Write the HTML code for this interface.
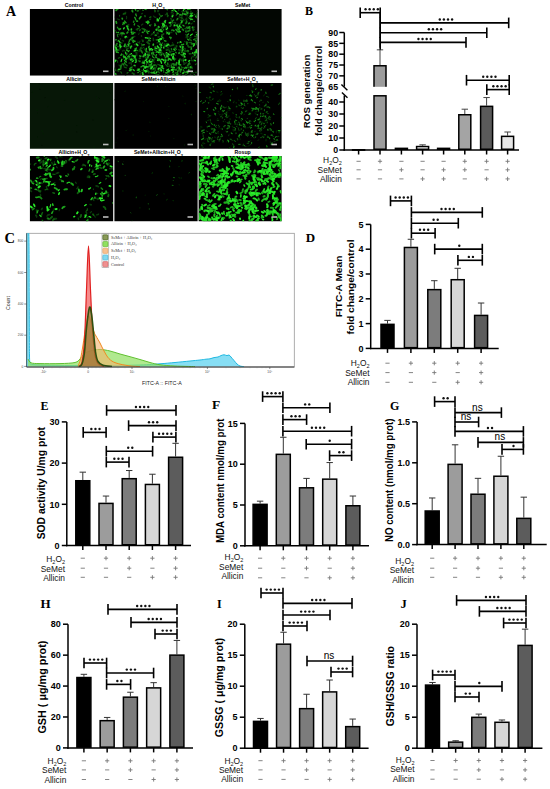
<!DOCTYPE html>
<html><head><meta charset="utf-8"><style>
html,body{margin:0;padding:0;background:#fff;}
body{width:550px;height:789px;overflow:hidden;}
svg{display:block;}
</style></head><body>
<svg width="550" height="789" viewBox="0 0 550 789">
<rect width="550" height="789" fill="#fff"/>
<rect x="29.5" y="9" width="252.5" height="66.5" fill="#cfcfcf"/>
<rect x="29.5" y="83" width="252.5" height="65.69999999999999" fill="#cfcfcf"/>
<rect x="29.5" y="156" width="252.5" height="65.19999999999999" fill="#cfcfcf"/>
<filter id="soft" x="-5%" y="-5%" width="110%" height="110%"><feGaussianBlur stdDeviation="0.5"/></filter>
<clipPath id="cA00"><rect x="30" y="9" width="83.0" height="66.5"/></clipPath>
<rect x="30" y="9" width="83.0" height="66.5" fill="#000"/>
<rect x="103.0" y="70.5" width="5.5" height="1.6" fill="#bbb"/>
<text x="74.00" y="7.40" font-family="Liberation Sans" font-size="5.2" font-weight="bold" text-anchor="middle" fill="#000" >Control</text>
<clipPath id="cA01"><rect x="114.5" y="9" width="83.0" height="66.5"/></clipPath>
<rect x="114.5" y="9" width="83.0" height="66.5" fill="#000"/>
<g clip-path="url(#cA01)"><g filter="url(#soft)"><path d="M146.0 9.8l0.9 -0.8l0.7 -1.0M181.2 59.2l0.2 0.6l0.7 1.2M137.2 42.1l1.4 0.3l0.9 0.2M124.1 50.5l0.7 0.7M185.4 63.0l1.1 -0.2l0.5 0.2M134.8 74.5l-0.4 -0.5l-0.7 -0.7M129.9 45.4l-0.4 1.1M121.8 63.6l0.8 0.3l0.7 0.1M161.6 52.2l0.5 0.6l0.1 0.6M154.5 33.3l-0.2 -0.4l-0.4 -0.5M148.4 68.8l-0.7 0.6l-1.2 0.6M165.4 27.6l0.1 1.1l0.6 1.2M154.3 52.4l-0.7 0.3l-0.6 0.2M186.2 73.1l-0.1 -1.2M177.1 12.5l-0.5 -0.7l-1.0 -0.3M117.2 18.9l1.1 0.3l1.3 0.5M148.8 44.3l-0.4 -0.9M141.0 51.5l0.7 0.2l1.0 -0.4M155.3 34.6l0.1 1.1M186.7 21.7l-0.6 0.7M135.8 54.3l0.4 -0.9l-0.5 -1.2M183.0 18.8l0.7 1.0l0.8 0.3M173.2 69.4l-0.4 -1.4M184.7 41.3l0.8 0.9M158.8 60.7l1.2 -0.5l1.2 0.4M140.9 43.3l0.9 0.9M142.4 41.7l0.0 -0.7l-0.5 -1.2M193.8 28.7l0.6 0.9M185.3 24.0l0.3 -0.7M121.9 55.1l0.7 -0.6l0.7 0.0M192.7 22.9l-1.3 0.7l-0.2 0.8M148.5 70.9l1.1 0.7M168.2 32.3l-0.1 -1.1l-0.3 -0.6M165.7 57.5l-0.9 0.1M128.3 26.7l-0.4 -0.7M158.6 31.6l-0.2 0.5l-0.8 0.4M178.6 32.7l-0.7 -0.8M118.8 65.0l1.2 0.8M152.2 69.8l-0.4 0.5M181.3 75.4l-1.2 -0.8M166.4 13.4l-0.2 0.8l-1.0 0.8M193.9 57.2l-0.5 -1.0l-0.3 -0.4M196.5 18.1l0.2 -1.2l-0.1 -0.9M138.7 34.4l0.6 -1.4M172.3 42.7l0.7 0.7l0.3 0.6M167.8 55.1l0.4 -0.7l0.0 -0.7M196.6 57.2l-0.4 0.3l-0.6 0.9M125.3 75.4l0.5 0.2M181.8 22.0l-0.1 -0.6l-1.0 -1.0M194.8 26.9l-0.5 0.2l-0.8 1.0M126.5 16.4l0.2 1.3l-0.3 1.1M123.8 58.2l-0.2 0.4M181.4 45.4l0.2 1.0M119.6 41.6l0.6 1.3l1.0 0.5M161.1 45.7l-0.5 -1.3M195.9 16.3l0.9 -0.8M118.3 40.0l-0.8 1.2l-0.4 0.3M195.3 54.4l1.3 -0.5l0.7 0.1M142.6 48.5l0.8 -1.0l0.6 -0.3M151.8 34.2l-0.9 1.2M114.6 47.8l-0.4 -0.5l-0.6 -0.1M179.8 50.7l0.9 -0.7l0.8 -0.4M127.7 37.6l0.2 -0.9M157.3 64.0l0.1 0.6M190.2 74.3l0.8 -0.4M169.4 64.8l-0.1 1.4l0.3 0.8M124.0 64.6l-0.8 -0.6M120.0 43.7l0.5 -0.2l1.3 -0.3M147.0 60.5l-0.5 -0.3l-0.5 -0.6M136.6 52.0l0.4 0.4l0.1 1.3M131.3 37.1l0.5 0.4l0.2 1.3M119.5 28.2l0.0 1.3M140.1 41.2l-0.8 1.2l-0.1 1.3M132.5 66.4l-0.2 0.6l-0.8 0.5M196.2 32.4l-0.7 -0.2M145.1 62.1l-1.1 -0.8M182.2 73.5l1.4 0.4M168.8 50.4l0.2 -1.4l-0.4 -1.1" stroke="rgb(10,56,10)" stroke-width="1.13" stroke-linecap="round" stroke-linejoin="round" fill="none"/><path d="M187.4 11.6l0.8 0.6M154.4 62.2l-0.8 -0.6M177.2 45.9l-0.7 1.3M191.6 72.5l1.2 0.2l1.0 0.1M135.0 36.5l-1.3 0.3M144.8 48.8l-0.4 0.9M174.8 26.6l-0.4 -0.7l-0.3 -0.7M154.4 54.6l-0.8 -0.3l-1.4 0.0M149.8 19.5l0.8 -0.4M151.2 62.4l0.7 0.4M194.4 60.5l0.5 0.2l0.4 0.4M134.4 66.4l0.9 0.3M188.0 14.0l-1.1 0.5l-0.8 1.0M160.7 38.2l0.7 0.4M171.8 64.1l-0.9 -0.2M146.3 56.7l0.5 0.5l0.8 0.1M167.9 49.4l-0.9 0.3M181.2 48.4l0.3 1.1l0.5 0.4M156.7 34.8l0.5 -1.3M180.0 65.6l-0.9 0.8M149.9 51.5l-0.3 1.2l-0.4 0.9M156.8 42.9l1.3 -0.1M153.8 60.7l0.4 -1.2l0.9 -0.6M179.1 16.6l0.7 0.5l0.9 0.5M131.1 62.5l0.4 1.3l-0.3 1.0M142.8 24.1l-0.9 0.6l-0.3 0.4M124.9 45.8l-0.6 -0.1l-0.5 0.1M122.1 42.9l-0.7 -0.4M170.0 26.3l0.8 -1.2l0.5 -0.5M160.0 67.6l1.1 0.2l0.4 0.4M150.6 24.6l0.6 0.1M171.8 45.7l-0.4 -0.5M166.6 65.8l1.0 0.3l1.2 0.2M180.7 50.4l-0.6 -0.6M125.2 46.0l0.3 0.9l0.8 1.3M147.7 41.3l0.6 -0.2M173.8 51.3l-1.2 0.0l-1.4 0.4M197.1 11.4l0.7 0.4M175.3 55.3l-0.6 -0.6l-0.8 -0.1M148.5 54.1l0.3 -0.5l0.8 -0.6M136.8 70.3l0.8 -1.0M128.4 28.8l-0.7 -0.9l-0.2 -0.9M195.7 40.9l0.7 -0.4M168.1 47.1l-0.7 0.1l-0.6 -0.4M181.5 67.6l-0.3 -1.0M189.5 17.7l-1.1 0.1M146.9 52.2l0.6 0.7l0.4 0.4M148.1 63.4l0.5 0.8M134.4 44.5l1.1 0.4M178.1 17.9l0.1 0.5l0.7 0.7M153.7 16.1l0.8 0.9l1.3 0.4M185.6 30.0l1.3 0.5M167.9 49.1l-1.1 0.0l-0.7 0.1M133.9 55.6l0.4 0.5M173.2 11.7l-1.1 0.6l-0.9 0.6M135.1 58.2l-1.1 -0.2M183.7 64.2l0.7 0.1M125.7 62.0l0.2 -0.5l0.2 -0.9M141.5 36.2l-0.1 -0.6M120.7 32.6l1.5 0.1M139.0 51.5l0.5 -1.0l0.1 -1.1M158.2 70.9l1.3 -0.3M121.5 65.8l-1.4 -0.4l-0.7 0.2M148.7 52.3l0.2 -0.6M177.6 24.7l0.5 -0.8M153.6 45.3l-0.6 -0.2M141.7 70.3l1.2 0.8l1.4 0.4" stroke="rgb(10,56,10)" stroke-width="1.40" stroke-linecap="round" stroke-linejoin="round" fill="none"/><path d="M180.3 15.3l-0.7 -0.5M163.7 75.4l0.6 0.2M168.7 50.0l0.8 0.4M161.3 51.6l0.1 0.6l0.8 0.8M160.2 60.1l-0.5 0.2M183.6 62.4l0.4 0.5l1.2 0.6M179.6 50.6l-0.8 -0.9M190.9 37.4l-0.9 -0.3M150.4 69.1l-0.1 -1.1l0.2 -0.8M130.4 67.5l0.8 -0.2l1.3 -0.5M193.9 60.8l-0.2 -0.7M114.7 68.3l-0.4 0.9l0.2 0.8M185.3 49.1l-1.2 -0.6M159.3 36.9l-1.2 -0.1M155.2 46.5l0.1 0.7l0.2 0.6M125.0 13.2l0.6 -0.8M188.9 67.6l-0.6 -0.3l-0.6 -0.4M177.0 68.7l0.6 -1.1M140.0 9.5l0.1 -0.7l-0.4 -0.6M186.4 34.8l-0.6 -0.2M158.6 10.9l-0.6 0.5M175.1 47.2l0.0 0.7l-0.3 0.5M187.5 15.8l-1.4 -0.5M152.2 33.8l1.2 -0.1M175.6 23.1l-0.4 -0.4l-0.8 0.0M123.0 32.5l-0.3 1.3M129.1 63.2l1.1 -0.3M195.5 72.3l1.0 0.0M132.8 10.4l-0.0 0.5l0.3 1.1M155.6 73.4l0.6 0.3M149.5 65.2l0.5 -0.1l0.4 -0.4M118.7 71.2l-1.4 -0.5M136.8 54.8l-0.0 0.8M184.3 11.8l-0.9 -0.3l-1.4 0.1M172.6 58.3l0.2 1.4M143.7 75.0l-1.1 -0.6M190.0 13.5l0.9 -1.0l0.0 -1.4M181.4 23.4l-0.6 0.2l-0.9 0.9M148.9 37.4l-0.2 1.1l0.4 0.6M178.6 30.7l0.2 0.8l-0.2 0.8M124.3 23.7l-0.3 0.4l-1.0 0.5M141.1 72.6l-0.1 0.6l-0.9 1.1M164.2 45.1l0.3 -1.1M167.7 50.0l-0.7 0.2l-0.7 -0.0M158.0 11.6l-0.3 -0.4l0.1 -0.8M156.5 66.9l-0.7 0.9M124.9 44.7l0.5 -0.7M141.2 48.3l0.3 -0.8l0.2 -0.5M123.9 50.3l-0.8 0.5l-0.6 0.2M150.9 64.8l0.2 0.8l0.8 0.9M135.7 60.3l0.8 0.9M153.4 40.5l-0.0 -1.2l-0.2 -1.0M171.9 32.4l-0.8 -0.1l-1.1 0.6M186.6 18.1l-0.4 0.6l-0.5 0.8M174.7 65.2l-0.9 0.4M136.3 29.3l0.4 0.4l0.6 0.3M190.5 68.7l-0.1 -1.0M181.1 60.5l0.7 -0.6M191.5 60.4l1.1 0.3M170.8 18.6l0.6 0.7l0.1 1.2M131.2 56.6l0.3 -1.0M173.3 13.9l-1.1 0.9l-0.6 1.3M131.3 67.0l1.0 1.0M119.7 41.9l-0.5 -0.4M187.7 26.9l-1.1 0.7M186.0 37.1l0.3 0.4l0.6 0.3M191.5 67.4l0.5 0.1M183.1 58.8l0.6 0.7l1.5 0.2M123.5 40.9l-1.1 -0.5M185.1 56.3l-0.5 0.1l-0.9 0.7M120.2 39.3l0.3 -0.5M118.2 34.1l1.4 0.6M132.2 33.5l0.8 -1.0l0.4 -0.5M128.8 24.7l-1.0 0.3M157.4 32.5l0.1 0.6l0.6 0.6M115.2 49.0l-0.7 -0.1l-0.9 -0.5M127.4 44.9l0.5 0.2M185.7 74.6l1.0 0.3M121.9 35.9l-0.2 -1.1l-0.5 -0.6" stroke="rgb(10,56,10)" stroke-width="1.67" stroke-linecap="round" stroke-linejoin="round" fill="none"/><path d="M195.3 15.1l-1.2 -0.8M194.1 54.5l0.0 -1.0M190.9 43.9l0.9 0.9l0.7 0.0M165.6 58.1l-0.3 -0.4M132.2 34.2l-0.9 0.1M166.6 50.3l0.6 -0.6l0.5 -0.1M131.6 32.1l1.0 0.1M152.1 53.3l-0.5 -0.1M119.6 44.1l-0.1 -0.5M124.0 66.7l0.4 0.6M128.3 48.0l-0.9 0.9l-0.8 0.4M122.2 54.5l-0.6 0.6M155.8 70.4l-0.8 0.6l-1.1 0.1M191.2 49.2l0.7 -0.1M159.5 72.9l-0.9 -0.9l-0.5 -1.1M180.8 70.3l1.0 -0.1M179.1 42.0l0.0 1.0M160.7 15.5l-1.2 -0.7l-0.4 -1.2M167.5 66.4l-1.1 -1.0l-0.8 -1.1M155.4 68.3l-0.8 -0.1l-0.9 0.4M184.7 50.4l-0.1 0.6l0.5 0.9M165.6 41.6l0.9 -0.5M185.9 50.9l-0.9 0.1M165.3 59.8l-0.4 -0.4l-0.6 -0.2M119.3 48.1l0.6 0.3l0.9 0.5M166.3 9.4l0.5 -0.8M125.1 67.1l0.7 0.6l0.7 0.2M188.3 12.1l-0.6 0.3M150.3 65.4l-0.4 -0.5M116.8 60.3l0.5 1.1l0.4 0.8M161.2 44.5l1.0 -0.8l0.6 -1.0M137.9 68.7l0.5 0.9l-0.2 1.1M192.1 20.0l0.8 -0.7M118.3 46.4l-0.7 0.3M176.8 13.6l-0.4 1.2l-0.2 0.6M120.9 67.4l-0.7 -0.2M141.8 14.0l0.4 -0.7M131.7 32.4l-0.2 1.4M133.7 51.2l1.0 -0.8l0.9 -0.5M158.2 69.7l0.5 -0.6M189.3 69.3l-0.7 0.4M176.1 45.2l0.1 1.1l0.4 0.4M118.2 58.1l1.2 -0.2l0.5 -0.5M191.3 59.0l0.3 -1.3l0.6 -0.9M120.6 71.9l0.6 0.2l0.5 1.1M187.1 19.9l-0.6 0.4l-0.3 1.3M184.9 28.7l0.9 -0.6l0.9 -0.1M174.1 25.7l-0.1 0.7M171.3 65.1l0.5 -0.4M184.6 67.7l-0.7 0.2l-0.7 -0.1M178.8 10.4l0.1 -0.8M191.4 17.1l-1.1 -0.1M119.5 16.0l0.1 -0.8" stroke="rgb(15,88,15)" stroke-width="1.13" stroke-linecap="round" stroke-linejoin="round" fill="none"/><path d="M142.9 40.2l0.2 1.4M192.1 68.5l-0.5 -1.0l0.0 -1.2M155.1 69.4l-0.5 -0.9l-0.5 -1.1M140.3 29.7l-0.8 0.9M188.8 63.2l-0.3 0.9M196.8 36.2l0.2 1.1M151.1 59.0l-1.3 0.5M195.5 64.4l0.6 -0.4M145.2 57.1l0.3 0.6l0.7 0.6M191.2 42.5l-1.4 0.1l-0.8 -0.0M127.0 73.1l1.0 -0.6M189.2 53.8l1.4 -0.1l0.5 0.1M168.9 72.9l0.2 -1.1M147.2 70.2l0.5 0.3l0.7 0.8M174.3 60.6l0.3 -1.0l1.2 -0.7M164.1 47.9l-0.5 -1.2M163.4 70.1l0.1 0.9l0.3 1.1M129.3 57.7l-0.2 0.7l0.2 1.1M159.3 54.3l1.1 0.8l1.0 0.6M156.2 73.9l-1.2 -0.8l-1.4 -0.3M152.1 73.4l1.4 -0.5M163.2 39.1l0.5 -0.8M162.1 31.2l0.3 0.8M154.7 49.7l0.5 0.1M194.3 74.7l-0.5 1.4l-0.1 0.6M142.5 62.1l0.5 -1.1M182.4 67.8l-0.9 -0.8M167.1 13.0l0.1 0.7l0.2 1.5M178.4 64.5l-0.0 -1.3l0.7 -0.9M176.1 64.7l-1.3 -0.5l-1.3 0.4M194.7 36.1l1.3 0.5M172.2 23.1l0.8 -0.4M189.7 67.1l-0.9 0.2M155.2 46.6l0.2 0.5l0.2 0.7M196.2 57.5l0.4 -1.4M166.1 44.4l0.5 -0.4l0.8 -0.5M164.4 24.2l-0.7 0.5M176.4 64.8l-0.2 0.9M162.1 35.0l-0.6 0.9M115.6 69.9l-0.0 0.7" stroke="rgb(15,88,15)" stroke-width="1.40" stroke-linecap="round" stroke-linejoin="round" fill="none"/><path d="M149.5 61.5l0.9 0.6M189.6 38.9l0.5 0.7l1.1 0.8M183.4 52.5l-0.2 0.6M188.1 51.7l-1.3 -0.7M193.2 30.4l-0.1 -1.2M119.1 50.0l-1.1 -0.0l-1.1 0.7M155.0 11.6l0.1 -0.9l-0.4 -0.5M140.7 50.5l-0.1 -1.1l-0.0 -1.2M136.0 49.8l-0.0 -0.9M132.6 40.5l-1.1 -0.9l-0.7 -0.2M180.6 23.9l0.3 -1.1M148.1 71.7l0.8 1.2M165.9 45.9l-0.7 0.1l-0.6 0.6M123.3 14.1l1.0 -0.6l1.1 0.2M154.9 64.7l1.0 0.6l0.6 0.7M166.3 25.8l-0.0 0.5l-0.6 0.5M173.8 45.0l-0.8 0.0l-1.3 0.5M146.9 30.5l-0.4 0.3l-0.1 0.5M132.2 73.1l1.2 0.5l0.3 0.6M191.7 47.0l-1.4 0.2l-0.7 -0.2M170.2 26.2l0.6 -1.0l-0.0 -0.6M156.9 28.3l1.3 -0.2M167.6 16.5l0.4 -1.0M195.9 42.4l0.5 0.8l0.1 1.2M162.1 28.1l-0.2 -1.2M186.7 35.9l1.1 1.0M127.0 65.6l-0.8 -0.7M189.9 64.1l-0.6 0.3l-0.5 0.3M175.4 65.2l-0.5 -0.5M187.8 45.0l0.4 1.1l0.3 0.7M172.6 63.8l0.8 1.1M146.7 62.3l0.7 0.0M158.1 39.6l-0.6 0.1l-1.2 0.2M173.5 55.4l-0.5 -1.3M162.0 34.9l0.8 -0.3l0.9 -0.7M182.0 15.8l0.1 -0.7M180.9 20.4l0.7 -0.1l1.3 0.3M145.1 16.5l-0.2 -0.7M161.0 47.8l-0.6 0.4l-0.5 0.3M170.0 52.7l0.1 -0.7l-0.6 -0.9M175.2 73.0l1.5 -0.1l0.9 0.6M140.3 58.0l-0.9 0.4M143.5 29.1l-1.3 -0.6M147.0 42.2l1.1 0.9l1.3 0.6" stroke="rgb(15,88,15)" stroke-width="1.67" stroke-linecap="round" stroke-linejoin="round" fill="none"/><path d="M177.4 43.1l0.5 -0.7M167.3 10.0l0.3 -0.6l0.4 -1.1M144.2 29.7l-0.1 -0.8M171.5 30.4l0.7 -0.9M167.4 75.0l1.3 0.0M128.9 43.6l-0.2 -1.3M149.5 17.2l0.7 0.0l0.8 -0.3M154.2 55.2l-0.3 -0.6l-0.7 -0.4M123.9 65.3l-0.4 -0.9l-0.4 -0.8M183.3 69.6l0.3 1.1l1.2 0.8M189.5 61.9l0.0 1.1l0.2 0.6M122.0 64.9l0.2 -0.7M175.4 10.9l1.0 0.8l0.7 0.7M127.6 46.7l-0.8 -0.1l-0.6 -0.7M162.8 30.5l0.8 -0.9l0.1 -0.5M131.0 58.9l0.4 -0.5M120.2 33.2l0.8 0.4l1.2 0.6M186.3 27.1l1.1 0.8M157.6 74.9l1.2 -0.2M162.2 27.8l0.9 -0.3l1.0 -0.7M135.5 60.2l-0.1 -1.4l-0.4 -0.6M187.3 65.7l0.5 -0.5l0.7 -0.5M114.5 17.0l-0.7 0.3l-0.4 0.8M155.3 50.5l1.1 -0.1M158.7 64.7l0.7 0.3M174.2 49.1l-0.2 -0.7M156.0 29.1l-0.5 1.0M117.4 34.4l0.0 1.2l0.5 1.3M146.6 64.4l0.2 -0.9M168.0 60.3l-1.0 -0.3l-1.1 0.3M139.4 71.4l0.8 0.0M157.3 51.4l-0.9 0.4M182.3 18.1l-1.1 -0.2M137.1 29.1l0.5 -0.3l1.4 -0.1M177.5 71.4l0.5 -0.8l0.6 -0.7" stroke="rgb(21,121,21)" stroke-width="1.13" stroke-linecap="round" stroke-linejoin="round" fill="none"/><path d="M142.5 52.9l-0.8 -0.9l-0.4 -1.4M120.6 69.3l0.2 -0.6l-0.0 -1.3M117.9 50.3l-1.3 -0.1l-1.2 0.2M197.0 32.4l1.2 -0.4l0.6 0.1M178.0 71.1l-0.1 0.6l-0.4 0.7M186.1 11.0l0.3 1.0l0.3 0.4M150.5 65.3l-0.5 -1.0M188.1 72.0l-1.4 0.3l-1.2 0.0M126.8 53.3l0.0 1.0l-0.4 0.7M139.2 61.2l-0.2 -0.5M194.3 21.4l-0.4 -0.2M171.6 49.7l-0.2 -0.9M169.3 32.3l-0.4 0.3l-0.2 1.0M176.3 49.2l-1.1 -0.9M137.1 50.4l0.5 0.2M178.9 30.1l-0.6 -0.6l-0.8 -0.4M139.4 27.0l-0.4 -0.5l-1.1 -0.8M188.3 64.6l0.3 -0.8M171.5 66.5l-0.2 -1.2M188.6 51.0l-0.9 -0.6M185.7 67.2l1.2 0.2M168.3 70.2l-0.3 1.0M195.5 52.8l-0.4 0.8l-0.8 0.8M171.3 37.5l-0.6 1.2" stroke="rgb(21,121,21)" stroke-width="1.40" stroke-linecap="round" stroke-linejoin="round" fill="none"/><path d="M166.6 32.1l0.3 1.5M189.7 30.4l-1.2 0.5l-0.6 0.5M133.7 21.3l-0.1 0.8M186.8 21.9l-0.3 0.5l-0.5 0.8M191.9 43.4l1.1 0.7l1.4 -0.3M163.5 54.6l0.1 -0.7M150.1 40.7l-0.8 -0.5l-0.6 0.1M145.1 29.7l-0.4 0.6l-0.3 0.9M174.0 69.0l1.2 0.8l1.2 0.0M174.2 64.9l-0.3 -0.7l-0.8 -0.4M180.5 72.0l-0.1 -0.6l-0.2 -1.1M129.2 56.4l-0.6 -0.8M137.4 11.0l0.8 -0.2M123.9 56.8l-0.2 -1.2M151.0 66.8l-0.6 -0.2l-1.0 -1.0M125.3 37.7l0.5 -0.2M189.6 26.8l-0.3 1.0l0.5 1.0M181.4 52.1l1.2 -0.1M197.5 13.3l0.1 1.5l-0.4 0.4M177.5 28.2l0.5 0.2l1.1 0.4M166.0 53.8l0.6 0.8l0.5 1.2M195.3 40.4l1.1 0.7l0.9 0.6M134.9 49.0l1.2 -0.1M183.2 55.9l-1.3 -0.7l-0.9 -0.8M161.2 65.8l-1.1 -0.3M182.4 29.2l0.8 0.5l0.2 0.6M117.1 43.6l-0.8 1.1l0.1 0.8M160.6 29.8l-1.3 0.3M120.6 66.8l0.4 -0.4l0.1 -1.0M173.5 20.1l-0.8 0.5l-0.4 0.9M153.6 65.2l0.7 0.2" stroke="rgb(21,121,21)" stroke-width="1.67" stroke-linecap="round" stroke-linejoin="round" fill="none"/><path d="M115.4 39.9l1.3 -0.1M151.1 64.8l-0.7 0.1M133.1 56.8l1.1 -0.5M182.7 14.5l-0.2 -0.5l0.0 -1.0M131.5 67.6l-1.3 0.6l-0.6 0.7M161.1 54.7l0.8 -0.7M129.3 39.8l0.1 1.2l-0.4 1.0M122.6 24.3l0.5 -0.5l0.1 -1.4M116.4 32.1l-0.0 0.5M156.8 20.8l0.4 0.3M195.2 38.8l-0.9 0.5l-0.8 0.4M138.5 72.5l-0.9 0.2M117.3 27.2l0.8 1.1l0.6 0.8M164.6 75.3l0.6 -0.2M154.2 73.5l-0.3 -1.0l0.3 -0.9M160.9 16.7l0.5 -0.7l1.0 -0.3M167.8 62.9l0.0 1.1l0.1 0.5M175.9 32.7l0.5 1.1l0.3 0.5M197.1 39.1l-0.2 -0.8M152.3 55.8l0.6 1.2l1.1 0.8M170.1 46.1l-0.4 -1.0M159.5 44.7l0.5 -0.7l0.2 -1.3M142.8 10.1l0.3 0.4M180.2 59.0l-0.9 0.3M124.5 62.7l0.2 0.6l0.7 0.8M130.5 39.0l0.0 0.7M154.9 23.6l-0.0 0.7l0.9 1.1M190.6 18.3l-1.0 0.1M139.9 61.7l0.2 -0.6" stroke="rgb(27,153,27)" stroke-width="1.13" stroke-linecap="round" stroke-linejoin="round" fill="none"/><path d="M157.6 51.6l-0.9 0.6l-0.6 -0.1M127.7 50.8l-0.7 -0.6l-0.5 -0.0M121.7 54.0l-0.5 0.7l-0.4 0.5M184.1 60.1l-0.8 0.8M126.0 22.7l-0.9 -0.9l-0.5 -0.7M156.2 35.4l-1.1 -0.3M132.4 11.7l-0.3 -0.5l0.0 -1.1M131.3 60.1l1.1 -0.7l0.6 -0.4M178.0 74.2l-1.2 0.5M193.4 43.6l1.1 0.0M188.9 70.9l-0.3 -0.8l0.0 -0.6M152.9 60.3l-0.2 -0.7M186.9 41.9l0.2 1.4l-0.5 0.8M130.9 69.7l-0.2 0.5l0.2 0.7M151.6 53.9l0.1 -0.9M142.6 65.8l-0.5 0.6l-1.1 0.5M159.9 31.3l-0.9 -0.7l-1.3 -0.7M156.5 54.7l-0.7 1.3M164.4 40.8l1.1 0.1M171.8 70.1l0.7 -0.3l0.6 -0.8M121.6 46.3l-0.9 0.5M142.3 32.3l0.8 0.2M194.6 55.5l0.5 -0.5M118.3 52.5l-0.8 -0.2M147.8 33.5l-0.2 -0.4l-0.6 -1.0M186.1 32.1l-0.2 -0.6M183.7 44.2l-0.8 0.5l-1.4 -0.2M181.3 27.5l-0.8 -0.9l-0.6 -0.7M183.0 25.2l1.0 0.9M133.0 34.1l-1.0 -0.3M139.1 70.6l-1.4 -0.2M187.9 28.4l0.5 -0.9l1.3 -0.6M154.8 25.1l0.0 0.6M134.7 23.8l-0.5 1.1M165.8 57.5l0.7 -1.2M190.7 13.6l0.9 -0.1l1.0 -0.4M161.6 36.4l0.4 0.8l0.8 0.3M134.7 17.4l0.7 1.1l0.4 1.4" stroke="rgb(27,153,27)" stroke-width="1.40" stroke-linecap="round" stroke-linejoin="round" fill="none"/><path d="M180.3 69.8l0.5 -0.2l0.5 -0.2M153.0 52.3l0.3 1.4M172.7 67.4l-1.3 -0.3M150.2 49.0l-0.7 0.5M179.9 14.6l1.1 0.2M119.4 29.5l1.1 -0.7M116.1 21.5l0.3 1.0l0.1 0.6M122.2 18.4l0.2 0.5M173.7 74.6l-0.5 -0.2M173.9 30.7l-0.8 -0.4M151.1 72.5l0.9 0.1M121.8 33.2l1.3 -0.1l1.0 0.6M141.0 16.7l-1.0 0.9l-0.5 1.1M127.8 32.2l-0.8 0.8M177.5 31.4l0.9 0.4l0.7 -0.0M189.6 23.1l-0.9 0.5M187.8 9.5l0.9 -0.2l1.4 -0.4M182.7 46.7l0.5 0.2M114.8 45.8l0.1 0.7l0.2 0.8M129.4 56.6l-0.6 0.1l-1.0 0.2M146.8 51.6l-0.9 -0.7M175.9 29.5l0.9 0.8M165.9 72.8l1.2 -0.1M133.4 40.5l0.7 0.7l0.8 0.1M117.0 9.5l0.7 0.0M149.5 55.1l-0.9 0.1l-1.1 -0.3M160.6 52.7l-1.3 -0.6l-0.8 0.3M135.5 60.0l0.1 -1.0l-0.2 -0.8M125.4 59.2l0.8 0.3M116.1 10.4l0.5 -1.1M192.7 27.1l-0.3 0.6M148.5 55.8l-0.3 0.8l-0.5 1.3M161.2 69.9l-0.7 -0.8l-0.6 -0.7M132.0 38.4l0.9 -1.0M151.6 63.7l-0.4 1.0M148.7 47.7l0.4 -1.3M170.4 59.5l-0.9 -0.6l-0.9 -0.5M136.2 48.2l-0.9 1.0M116.3 51.4l0.3 0.8M176.8 62.7l-0.4 0.9l-0.3 0.5M136.7 21.2l0.8 0.0M144.4 63.5l-1.0 -0.6l-1.0 -0.1M170.4 37.8l-0.5 -0.6M136.3 59.9l-0.1 1.5M189.9 16.3l0.7 -0.4l0.7 -0.9M156.5 57.4l-0.7 -0.3" stroke="rgb(27,153,27)" stroke-width="1.67" stroke-linecap="round" stroke-linejoin="round" fill="none"/><path d="M175.8 52.2l0.3 0.7M191.0 49.2l0.4 -1.1M164.6 55.2l0.2 1.1M149.2 31.2l-1.2 0.4M153.0 69.2l0.8 -0.6M150.6 38.4l-0.9 -0.4M124.6 60.5l0.7 0.7l1.1 1.0M136.4 15.9l-0.6 -1.3l0.1 -0.7M169.1 22.9l0.8 0.2l0.8 -0.1M159.7 17.7l-0.3 0.9l-0.8 0.8M136.1 43.8l0.9 0.4M171.8 10.8l1.3 -0.6l1.0 -1.0M128.5 46.0l0.1 -1.1M188.8 40.1l-1.1 -0.9M129.9 43.7l-1.1 0.3l-1.1 0.2M180.2 27.6l-0.7 0.9l-0.7 0.9M141.8 45.0l1.4 -0.1l1.3 -0.2M152.9 72.4l1.1 0.4l0.9 0.7M164.1 22.0l0.5 -0.8M184.6 68.3l1.3 -0.5l0.9 0.3M150.3 68.0l0.9 0.1l1.1 -0.9M190.4 19.7l1.0 -0.6l1.0 0.3M177.0 20.0l0.3 -1.4M129.2 50.6l-0.9 1.0M196.3 17.1l-0.8 -0.8M158.7 59.6l0.6 0.7M153.6 32.4l0.6 -0.5M161.1 44.9l-0.2 1.3l0.6 1.2M125.8 53.7l-0.4 -0.8l0.3 -0.9M133.3 42.3l-0.5 -0.6M187.5 35.0l0.7 -0.8l0.4 -0.3M168.4 60.3l0.1 -0.6l0.3 -0.4M133.1 33.5l0.9 -0.7l1.1 -0.1M166.7 29.4l0.7 -0.9l-0.0 -1.4" stroke="rgb(33,186,33)" stroke-width="1.13" stroke-linecap="round" stroke-linejoin="round" fill="none"/><path d="M134.3 55.9l-1.4 -0.2l-0.4 -0.5M169.6 58.7l-1.0 0.6M182.9 54.5l1.1 0.4M157.8 58.8l1.4 0.4l0.7 0.2M162.3 23.4l1.0 0.1l0.5 0.3M176.5 25.3l0.9 -0.0M146.4 48.4l-0.1 0.5l-0.2 1.0M124.2 46.5l0.7 -1.1l0.1 -1.2M176.5 75.5l-0.9 0.6M135.7 10.0l-0.4 -0.6M133.1 69.7l1.2 0.8M116.0 74.2l-0.6 -0.4l-0.6 -0.5M140.9 56.2l-0.6 -0.1l-0.7 -0.2M179.1 64.3l1.0 0.5l0.6 0.1M124.0 22.5l0.1 1.1M174.4 67.4l-1.3 -0.1" stroke="rgb(33,186,33)" stroke-width="1.40" stroke-linecap="round" stroke-linejoin="round" fill="none"/><path d="M161.0 29.7l-0.2 0.6M147.7 23.5l0.1 -0.5l1.1 -0.8M183.0 49.7l-0.6 0.8M179.0 67.4l0.4 1.3M183.8 72.6l-1.0 0.7M196.7 34.7l0.7 -0.0l0.9 0.6M124.9 57.3l-1.3 -0.6M142.7 72.8l0.3 1.4l-0.3 1.4M144.0 56.0l-0.6 0.1M153.4 44.2l-0.2 0.8M165.4 60.2l0.1 1.5l-0.7 1.1M182.6 48.3l-0.1 -1.1M131.1 69.4l-0.5 0.6l-1.0 0.4M178.1 13.5l-0.5 0.1M169.6 70.9l-0.9 0.1l-0.7 0.8M194.4 52.5l1.3 -0.6l1.0 0.4M171.5 55.5l-0.2 -0.7l0.0 -0.5M187.7 72.8l-0.3 -0.8l-0.4 -0.6M181.9 21.3l-0.2 1.0M161.6 67.1l0.9 0.7l1.0 0.8M168.0 56.8l-0.3 -0.5l-0.4 -0.5M127.6 26.4l-0.9 -0.3M148.1 66.8l-1.1 0.2M128.6 29.9l-0.7 -1.3l-0.4 -0.8M179.3 31.1l0.9 0.6M178.5 27.2l-1.1 -0.8M144.3 62.0l-0.6 1.0M131.3 29.8l0.1 -0.8M165.5 20.7l-0.3 0.5M131.5 46.2l-0.9 1.1l-0.0 0.7M126.9 58.5l-1.2 -0.4l-0.6 -1.2M144.9 68.0l-0.6 -1.3l-0.5 -0.9M146.3 22.1l1.4 -0.4l0.3 -0.5M144.3 54.7l-0.4 1.0l-0.7 0.9M118.5 69.5l0.8 -0.1M159.0 27.2l-0.5 -0.5" stroke="rgb(33,186,33)" stroke-width="1.67" stroke-linecap="round" stroke-linejoin="round" fill="none"/><path d="M161.8 45.3l-0.5 -0.4l-0.3 -0.7M176.3 11.6l-0.9 -0.3l-0.7 -1.3M156.6 29.5l-0.1 0.8M135.2 62.5l1.0 -0.4M167.5 32.5l-0.1 0.7M151.6 48.5l-0.4 0.7l-0.4 0.5M159.0 52.7l-0.9 -0.4M192.6 52.7l0.3 0.8M159.3 39.6l-1.0 0.2M154.9 48.1l1.3 0.2l0.9 0.5M160.7 39.8l1.1 -1.0M118.6 40.6l0.8 1.0l0.8 1.0M143.8 68.9l-0.3 0.7M179.7 26.5l-0.4 -1.3M170.9 59.5l0.3 0.8M166.9 52.6l-0.7 -0.1M179.1 52.3l0.1 0.9l-0.3 0.4M133.9 65.3l1.2 0.1M190.9 67.6l-0.4 -0.8M121.1 61.6l0.2 -1.2l0.6 -1.2M118.6 32.3l-0.7 0.2M163.8 48.0l-0.4 -0.3M131.0 32.1l1.0 0.0M173.2 70.8l0.2 0.7l-0.6 0.9M131.5 53.5l-0.5 0.5l-1.2 0.2M167.6 28.3l-0.7 0.4l-0.6 0.9M133.7 55.9l0.7 1.1l0.4 0.5M168.7 69.1l-1.1 0.7l-1.1 0.5M160.9 49.1l-0.4 0.3l-1.5 -0.1M164.2 26.6l-1.3 -0.7l-0.4 -1.3M150.1 25.8l-0.4 -0.6M192.5 34.1l-1.0 0.4l-1.1 1.0M173.8 49.4l1.2 0.9" stroke="rgb(39,218,39)" stroke-width="1.13" stroke-linecap="round" stroke-linejoin="round" fill="none"/><path d="M184.8 9.0l-0.9 0.5l-0.6 1.0M170.8 22.5l-0.7 0.0l-0.7 0.1M133.3 60.8l-1.0 0.8M191.4 15.3l-0.4 0.9M172.9 15.7l-0.7 1.1M185.4 54.0l-0.8 -0.6l-0.9 0.1M195.4 60.6l-0.6 -0.3M123.6 28.8l0.6 -1.0M165.2 22.7l-0.1 -0.8M146.6 61.7l0.6 0.2l0.5 0.3M183.8 13.9l0.8 0.2l1.5 0.0M114.7 30.8l-1.3 0.6M184.5 56.2l0.4 0.9M187.3 13.1l0.6 0.0M150.0 48.8l-0.1 1.4M188.6 61.2l1.0 -0.7M193.4 46.1l0.3 -0.4l0.7 -0.9M169.2 33.3l-0.3 1.0M146.6 71.1l-1.3 -0.5l-1.2 0.1M152.7 49.4l-0.7 0.8M160.1 38.7l0.5 0.0l1.0 0.1M145.0 9.1l0.8 0.0l0.9 -0.8M135.3 56.0l-0.5 1.1M146.8 59.3l-0.8 0.9l-0.8 0.2M145.5 55.2l0.2 -1.0l-0.5 -1.0M161.5 63.2l-0.2 -1.1l-0.8 -1.2M138.0 69.9l0.7 -0.7l0.9 -0.1M130.7 59.9l0.4 -0.7M156.9 72.0l-0.5 0.4M163.8 60.5l-1.0 -1.0l-1.1 -0.2M180.5 47.2l-0.4 -1.0M160.6 39.3l-1.1 -0.1M145.4 37.8l1.4 0.1l1.0 0.3M161.9 31.5l-0.9 0.0M157.5 60.1l0.5 0.4M162.2 65.8l0.5 0.5M134.3 50.7l1.4 -0.2" stroke="rgb(39,218,39)" stroke-width="1.40" stroke-linecap="round" stroke-linejoin="round" fill="none"/><path d="M171.5 69.9l0.9 -0.3l0.5 0.2M120.0 44.8l0.0 1.0l0.4 1.3M179.1 63.2l0.1 -1.3l-0.1 -1.2M146.6 71.4l-0.9 0.4M149.3 60.7l0.0 0.6M151.2 68.5l0.6 -0.8l0.7 -1.3M163.5 24.2l0.8 0.9l0.4 0.4M137.7 45.4l-1.0 -1.0M185.5 60.3l0.3 -0.6M168.4 44.4l-0.9 0.9l-1.2 0.6M126.2 36.5l-1.1 0.5M168.0 53.9l1.1 0.9M196.4 49.9l-0.1 1.3l0.3 0.5M180.4 41.9l0.4 0.3M173.8 58.9l-0.6 -0.3M158.7 47.7l-0.7 -0.7l-0.5 -0.8M161.2 70.8l0.3 -0.5M114.6 61.7l0.6 -0.8l0.4 -0.6M190.8 15.7l0.6 0.3l1.1 -0.4M174.9 25.3l-0.5 -0.1M172.9 58.3l-0.1 -1.3l0.5 -0.7M173.8 58.0l-0.9 -0.2M159.3 41.5l-0.6 -0.5l-0.2 -1.2M150.0 62.2l0.7 -0.6l1.1 0.1M173.0 54.0l1.0 -0.1M158.8 68.4l-0.6 0.6M197.4 52.9l1.1 0.8M157.3 19.1l0.4 1.0l0.6 0.5M160.8 50.4l-0.6 0.0l-0.9 0.1M116.5 49.4l-0.3 -0.8l-0.2 -0.9M145.6 67.7l0.5 -1.3" stroke="rgb(39,218,39)" stroke-width="1.67" stroke-linecap="round" stroke-linejoin="round" fill="none"/></g></g>
<rect x="187.5" y="70.5" width="5.5" height="1.6" fill="#bbb"/>
<text x="158.50" y="7.40" font-family="Liberation Sans" font-size="5.2" font-weight="bold" text-anchor="middle" fill="#000" >H<tspan baseline-shift='sub' font-size='4'>2</tspan>O<tspan baseline-shift='sub' font-size='4'>2</tspan></text>
<clipPath id="cA02"><rect x="198.8" y="9" width="82.7" height="66.5"/></clipPath>
<rect x="198.8" y="9" width="82.7" height="66.5" fill="#020602"/>
<rect x="271.5" y="70.5" width="5.5" height="1.6" fill="#bbb"/>
<text x="242.65" y="7.40" font-family="Liberation Sans" font-size="5.2" font-weight="bold" text-anchor="middle" fill="#000" >SeMet</text>
<clipPath id="cA10"><rect x="30" y="83" width="83.0" height="65.7"/></clipPath>
<rect x="30" y="83" width="83.0" height="65.7" fill="#071707"/>
<g clip-path="url(#cA10)"><g filter="url(#soft)"><path d="M39.6 88.8l0.3 0.6" stroke="rgb(2,16,2)" stroke-width="0.87" stroke-linecap="round" stroke-linejoin="round" fill="none"/><path d="M93.0 120.0l0.7 -0.0" stroke="rgb(2,16,2)" stroke-width="1.00" stroke-linecap="round" stroke-linejoin="round" fill="none"/><path d="M39.5 84.2l-0.7 -0.0M99.7 98.6l-0.6 -0.4M45.1 97.8l0.2 -0.4M41.9 145.4l-0.3 0.0" stroke="rgb(3,20,3)" stroke-width="1.00" stroke-linecap="round" stroke-linejoin="round" fill="none"/><path d="M64.8 100.4l-0.5 0.1M76.9 131.9l-0.6 -0.2" stroke="rgb(4,23,4)" stroke-width="0.87" stroke-linecap="round" stroke-linejoin="round" fill="none"/><path d="M37.5 136.9l-0.0 0.3M76.7 125.9l0.3 -0.4" stroke="rgb(4,23,4)" stroke-width="1.13" stroke-linecap="round" stroke-linejoin="round" fill="none"/><path d="M37.4 113.4l0.3 -0.2" stroke="rgb(4,26,4)" stroke-width="1.00" stroke-linecap="round" stroke-linejoin="round" fill="none"/><path d="M110.2 92.9l0.0 0.3" stroke="rgb(4,26,4)" stroke-width="1.13" stroke-linecap="round" stroke-linejoin="round" fill="none"/><path d="M75.7 103.0l0.5 -0.0" stroke="rgb(5,30,5)" stroke-width="0.87" stroke-linecap="round" stroke-linejoin="round" fill="none"/><path d="M47.8 106.6l0.3 -0.1" stroke="rgb(5,30,5)" stroke-width="1.00" stroke-linecap="round" stroke-linejoin="round" fill="none"/><path d="M96.4 97.0l0.1 0.3M32.2 92.2l0.4 -0.1" stroke="rgb(5,30,5)" stroke-width="1.13" stroke-linecap="round" stroke-linejoin="round" fill="none"/><path d="M42.1 130.9l0.0 0.5" stroke="rgb(5,33,5)" stroke-width="0.87" stroke-linecap="round" stroke-linejoin="round" fill="none"/><path d="M37.2 110.4l-0.1 -0.4M43.1 133.6l0.2 0.2M94.2 146.8l0.0 0.3" stroke="rgb(5,33,5)" stroke-width="1.13" stroke-linecap="round" stroke-linejoin="round" fill="none"/></g></g>
<rect x="103.0" y="143.7" width="5.5" height="1.6" fill="#bbb"/>
<text x="74.00" y="81.40" font-family="Liberation Sans" font-size="5.2" font-weight="bold" text-anchor="middle" fill="#000" >Allicin</text>
<clipPath id="cA11"><rect x="114.5" y="83" width="83.0" height="65.7"/></clipPath>
<rect x="114.5" y="83" width="83.0" height="65.7" fill="#000"/>
<g clip-path="url(#cA11)"><g filter="url(#soft)"><path d="M117.5 138.4l-0.0 -0.5M146.1 100.4l-0.4 -0.3" stroke="rgb(3,20,3)" stroke-width="0.87" stroke-linecap="round" stroke-linejoin="round" fill="none"/><path d="M150.6 136.0l-0.6 0.4M115.8 142.3l0.5 0.2" stroke="rgb(3,20,3)" stroke-width="1.00" stroke-linecap="round" stroke-linejoin="round" fill="none"/><path d="M168.9 118.4l-0.4 0.1" stroke="rgb(3,20,3)" stroke-width="1.13" stroke-linecap="round" stroke-linejoin="round" fill="none"/><path d="M182.7 96.1l0.1 0.3M144.0 101.8l-0.5 -0.2" stroke="rgb(4,24,4)" stroke-width="1.00" stroke-linecap="round" stroke-linejoin="round" fill="none"/><path d="M165.3 86.7l0.4 -0.1M149.0 131.5l-0.5 -0.2" stroke="rgb(4,24,4)" stroke-width="1.13" stroke-linecap="round" stroke-linejoin="round" fill="none"/><path d="M174.1 138.1l-0.4 0.6" stroke="rgb(5,29,5)" stroke-width="0.87" stroke-linecap="round" stroke-linejoin="round" fill="none"/><path d="M114.5 99.7l-0.2 0.4" stroke="rgb(5,29,5)" stroke-width="1.00" stroke-linecap="round" stroke-linejoin="round" fill="none"/><path d="M196.0 101.7l0.1 -0.5M195.2 85.3l0.1 -0.2" stroke="rgb(5,29,5)" stroke-width="1.13" stroke-linecap="round" stroke-linejoin="round" fill="none"/><path d="M168.9 106.4l0.1 0.3M184.7 145.0l-0.4 -0.1M196.2 88.1l-0.2 0.6" stroke="rgb(5,33,5)" stroke-width="1.00" stroke-linecap="round" stroke-linejoin="round" fill="none"/><path d="M133.0 135.1l0.4 -0.1" stroke="rgb(5,33,5)" stroke-width="1.13" stroke-linecap="round" stroke-linejoin="round" fill="none"/><path d="M124.8 91.4l0.6 -0.3" stroke="rgb(6,38,6)" stroke-width="0.87" stroke-linecap="round" stroke-linejoin="round" fill="none"/><path d="M185.2 103.9l-0.1 -0.7" stroke="rgb(6,38,6)" stroke-width="1.13" stroke-linecap="round" stroke-linejoin="round" fill="none"/><path d="M149.8 122.2l0.1 0.3" stroke="rgb(7,42,7)" stroke-width="0.87" stroke-linecap="round" stroke-linejoin="round" fill="none"/><path d="M126.1 130.6l0.4 -0.5M157.6 86.2l-0.3 0.1" stroke="rgb(7,42,7)" stroke-width="1.00" stroke-linecap="round" stroke-linejoin="round" fill="none"/><path d="M191.5 114.3l-0.1 0.3" stroke="rgb(7,42,7)" stroke-width="1.13" stroke-linecap="round" stroke-linejoin="round" fill="none"/></g></g>
<rect x="187.5" y="143.7" width="5.5" height="1.6" fill="#bbb"/>
<text x="158.50" y="81.40" font-family="Liberation Sans" font-size="5.2" font-weight="bold" text-anchor="middle" fill="#000" >SeMet+Allicin</text>
<clipPath id="cA12"><rect x="198.8" y="83" width="82.7" height="65.7"/></clipPath>
<rect x="198.8" y="83" width="82.7" height="65.7" fill="#000"/>
<g clip-path="url(#cA12)"><g filter="url(#soft)"><path d="M250.9 140.5l-0.5 0.3M243.7 114.7l1.0 -0.5M249.4 134.0l-0.3 0.4M232.0 146.2l-0.5 -0.4M242.6 123.8l0.1 1.2l-0.3 0.4M206.8 131.5l-0.2 -1.1M214.3 141.4l0.7 -0.8M201.0 129.0l-0.7 -0.1l-0.7 -0.2M220.3 137.5l0.4 -0.7l0.6 -0.2M228.4 101.8l-0.4 -0.2l-0.8 -0.2M228.3 110.5l-0.3 0.5M247.2 146.6l-0.7 -0.1l-0.6 -0.4M229.2 109.1l-0.5 -0.2l-1.1 0.2M217.9 131.2l-0.1 1.1M251.0 132.9l-0.9 -0.3M238.4 124.9l-0.3 -0.6l-0.8 -0.3M221.3 114.3l-0.7 0.2l-0.6 0.7M237.7 127.6l0.5 -0.1l0.8 -0.0M227.8 112.5l-0.2 -0.7M250.9 122.2l0.6 -0.6M221.2 116.3l0.7 -0.9M265.1 122.3l0.2 -1.2l-0.3 -0.5M272.5 144.1l0.3 0.7M269.1 130.4l-0.0 -0.8l-0.2 -0.9M257.1 133.0l1.1 0.4M226.4 122.5l-0.8 -0.5l-0.3 -0.6M217.4 118.4l0.5 0.0M260.0 121.1l-0.6 -0.4l-1.0 -0.2M235.3 121.9l1.0 -0.1l0.6 0.4" stroke="rgb(7,40,7)" stroke-width="0.88" stroke-linecap="round" stroke-linejoin="round" fill="none"/><path d="M270.3 141.3l-0.0 1.1l0.4 0.7M242.0 132.1l1.0 0.0l1.1 -0.3M257.9 140.4l1.0 -0.7M253.6 91.8l0.3 -0.4M228.1 117.0l-0.6 0.5l-0.7 0.3M228.3 108.2l0.5 -0.1l1.0 0.1M261.1 109.6l0.4 -0.2l0.7 -0.3M219.5 141.4l-0.6 -0.2M218.6 120.5l0.1 -0.4M219.7 101.5l0.7 -0.5l0.4 -0.4M209.3 99.9l0.9 0.1l1.0 0.3M233.0 129.2l0.5 0.5l0.5 0.9M276.6 130.9l-0.4 0.9l0.1 1.1M213.8 132.0l0.6 -0.9l0.5 -0.2M217.9 92.2l-0.7 -0.2l-0.4 -0.2M263.3 124.8l0.3 0.4l0.3 0.5M236.2 103.2l-0.0 -1.0M222.6 140.3l0.5 0.9M229.6 110.5l0.5 -0.7l-0.0 -0.6M247.3 95.5l-0.9 -0.1M219.7 99.6l0.1 0.8M231.5 139.1l-0.4 0.2l-0.9 0.2M218.3 111.4l0.6 0.6M232.3 126.4l0.8 0.9M215.7 137.6l-0.5 -0.5l-0.9 0.0M238.4 129.9l0.5 0.7M262.8 102.4l0.5 -0.3" stroke="rgb(7,40,7)" stroke-width="1.05" stroke-linecap="round" stroke-linejoin="round" fill="none"/><path d="M219.1 140.7l0.8 -0.2M210.7 88.2l-0.8 -0.7l-0.8 -0.5M247.7 127.8l0.6 -0.3l0.5 0.2M261.9 133.8l-0.7 -0.3l-0.3 -0.3M254.5 131.7l0.8 -0.3M228.5 135.7l0.4 -0.6l0.2 -0.8M203.3 142.4l-0.6 0.7l-0.0 0.5M234.1 101.0l0.0 0.8l-0.8 0.9M227.1 141.2l-0.2 0.5M209.5 139.1l-0.7 -0.2M207.5 127.6l-0.3 -0.4l-0.5 -0.4M202.3 147.1l0.9 0.2l0.3 0.5M232.6 140.5l-0.9 -0.6M211.5 140.1l0.4 -0.7l0.4 -0.7M204.9 143.2l-1.0 0.6l-0.6 -0.1M208.0 117.5l0.9 -0.7l0.5 -0.4M229.0 123.1l0.6 -0.2M239.1 100.5l-0.6 -0.4M266.1 139.0l-0.0 0.6l-0.2 1.2M222.4 93.8l-1.0 0.4l-0.7 1.0M249.2 145.4l-0.4 0.3l-0.0 0.4M255.3 114.0l0.1 -0.4l0.6 -0.5M212.8 141.8l0.4 -0.1l0.5 -0.9M240.0 138.8l0.2 0.5M275.2 141.4l-0.8 0.2l-0.5 -0.0M237.2 123.8l0.4 1.1M236.2 124.4l-0.7 0.0l-1.0 -0.3M237.0 106.7l-0.7 0.4M233.4 113.3l-0.9 -0.6M250.2 112.8l-0.2 1.1l0.2 0.7M213.8 125.2l0.6 0.4M218.9 127.8l0.1 -0.5l0.6 -0.6M209.0 120.1l-0.9 0.4l-0.6 -0.0M222.9 106.7l1.1 0.0M225.7 113.7l0.4 0.0l1.0 -0.1" stroke="rgb(7,40,7)" stroke-width="1.22" stroke-linecap="round" stroke-linejoin="round" fill="none"/><path d="M207.5 142.0l0.2 -0.5l0.8 -0.5M262.1 122.0l-0.6 0.0l-0.6 0.1M264.8 118.1l1.1 -0.3M227.8 122.2l-0.4 0.3M270.7 117.0l-0.2 1.0M220.5 117.1l0.9 -0.7M254.4 94.5l0.5 0.8l0.5 1.1M259.5 104.5l0.1 0.8M224.3 127.9l-0.3 -0.4M229.7 123.1l-0.7 0.1M245.1 127.6l-0.6 -0.3l-0.5 0.0M205.2 139.0l-0.2 0.9M265.4 116.3l0.3 -0.4M274.2 139.2l0.5 0.2M227.1 116.1l0.9 0.1l1.2 -0.2M251.5 132.1l-0.5 -0.6M233.4 130.9l-0.6 -0.5M264.6 94.6l-0.7 0.8l-0.2 0.5M222.7 128.7l-1.2 -0.3l-0.6 0.2M235.4 132.1l0.7 0.8l0.4 0.1M230.7 95.2l-0.2 0.4l0.0 0.7M255.3 112.0l0.4 -0.4l0.7 -0.2M219.3 114.5l-0.0 -0.4l-0.3 -0.3M218.4 131.6l-0.5 1.0l0.2 1.1" stroke="rgb(11,62,11)" stroke-width="0.88" stroke-linecap="round" stroke-linejoin="round" fill="none"/><path d="M240.9 125.1l0.5 0.5M259.7 118.7l0.3 -1.0M207.8 97.9l-0.8 -0.1l-0.5 -0.2M221.8 134.9l-0.5 -0.7M211.1 143.1l-0.2 0.8l-0.5 0.5M277.4 136.7l0.9 -0.4l0.6 -0.0M208.1 115.0l0.4 -0.4M206.9 138.3l0.5 0.6l0.7 0.1M222.9 107.1l0.4 0.3l1.2 0.2M213.8 142.7l0.4 -0.4l0.2 -0.4M245.8 127.5l0.0 0.5M249.0 112.8l0.8 0.7l1.0 0.4M222.9 114.6l-0.0 -0.6M207.8 131.4l-0.9 0.1M266.5 96.6l1.1 0.2l1.1 0.4M223.2 121.1l0.1 0.5M245.6 111.4l0.6 -0.3l0.8 -0.3M260.5 100.5l-0.7 0.5l-0.3 0.3M210.0 96.3l-0.1 1.1l-0.8 0.8M235.6 133.8l0.6 -0.3M277.5 139.7l0.4 0.7M259.9 107.4l-0.2 0.4l-0.0 0.5M210.2 97.5l-0.7 -0.4M263.1 114.8l0.5 0.2M261.9 127.1l-0.5 0.8" stroke="rgb(11,62,11)" stroke-width="1.05" stroke-linecap="round" stroke-linejoin="round" fill="none"/><path d="M203.1 134.1l-0.9 -0.5M261.8 137.4l-0.9 0.2l-0.4 0.1M243.4 144.2l-0.1 0.6l-0.3 0.8M246.4 134.1l0.9 0.4M260.9 109.1l0.9 -0.7M244.9 101.5l0.1 -0.6M232.5 143.7l0.3 0.7l0.9 0.6M241.0 120.6l0.6 0.2M217.8 101.4l0.4 -0.2l0.4 -0.3M279.7 103.0l-0.7 0.8l-0.4 0.7M210.5 120.4l-0.3 -0.9M223.0 140.5l0.1 0.9l-0.1 0.8M247.8 134.8l-0.1 -0.9l0.6 -0.8M238.5 122.0l0.8 0.8l0.5 1.0M256.5 133.8l-0.6 1.0M236.0 116.7l1.0 0.7M270.2 119.7l-0.8 -0.6l-0.9 -0.2M263.6 128.4l0.9 -0.8l0.4 -0.4M246.0 101.4l0.8 0.2M259.3 147.0l-0.3 0.4l-0.6 0.6M237.6 89.0l-0.3 -0.7l0.2 -0.7M253.7 137.2l0.4 0.6M200.8 126.9l1.1 0.1M211.2 128.3l0.9 0.3M262.4 136.7l0.5 -0.3l0.1 -0.4M249.3 120.6l0.0 0.8M268.2 113.7l-0.8 -0.6M264.5 105.5l-0.2 1.1M212.5 132.1l-1.0 0.7" stroke="rgb(11,62,11)" stroke-width="1.22" stroke-linecap="round" stroke-linejoin="round" fill="none"/><path d="M242.4 108.1l-0.5 -0.3l-0.7 -0.0M247.1 118.7l0.4 -0.5M239.2 130.1l-0.5 -0.8l-0.2 -0.7M220.7 116.5l1.0 0.3l0.7 0.4M224.7 119.4l-0.2 0.5M229.9 147.6l-0.6 0.5l-0.4 0.2M217.1 120.2l1.0 0.2M237.0 126.5l-0.7 -0.2M209.8 138.6l-0.2 0.7M260.9 131.3l0.6 -0.7l0.4 -0.6M248.5 135.4l-0.3 -0.6l-0.5 -0.9M229.7 121.2l-1.0 0.5l-0.4 0.4M224.8 108.1l0.7 -0.4l0.9 -0.5M207.4 139.7l0.2 1.1M212.2 137.9l0.4 -0.3M262.5 113.8l0.5 -0.3l0.8 0.1M210.6 121.9l0.2 0.5M215.5 126.2l0.7 -0.6l0.5 -0.3M229.9 123.5l0.7 0.5" stroke="rgb(15,84,15)" stroke-width="0.88" stroke-linecap="round" stroke-linejoin="round" fill="none"/><path d="M214.7 140.5l-0.8 0.3l-0.6 0.0M261.3 128.3l0.7 -0.6M235.0 127.7l-1.1 -0.2M200.6 92.6l-0.8 -0.2l-0.6 -0.1M205.4 101.6l-0.1 -1.0M246.0 133.8l-0.7 -0.9M263.4 137.7l0.1 -0.4l0.7 -0.3M246.0 110.9l-0.2 0.7l-0.4 0.2M246.6 99.8l0.1 0.8l0.6 0.7M247.6 103.7l0.4 -0.1M210.1 92.7l0.6 -0.1M230.3 119.1l-0.5 -0.1M225.9 113.1l0.7 -1.0M211.7 129.6l0.5 -0.1M220.9 136.2l0.7 0.2l1.0 -0.2M258.0 93.1l0.1 1.2l-0.1 1.0M244.0 105.0l0.4 -0.8l-0.0 -0.8M230.1 138.8l0.6 0.7l0.8 0.2M222.7 117.8l-0.5 0.3M268.5 102.5l-0.3 -0.5l-0.6 -0.3M230.9 123.9l-0.6 -0.1M238.8 104.9l0.6 0.8M242.6 112.2l-0.6 -0.2l-0.5 0.1M248.5 143.4l-0.8 -0.1l-0.6 0.0M227.0 128.9l0.0 -0.5l0.6 -0.5M267.0 120.2l-1.0 0.2l-0.5 0.1M273.6 131.3l-0.2 1.1M250.8 100.1l0.5 0.2M236.3 106.3l0.6 0.0M235.7 141.4l-0.9 -0.3l-0.7 -0.7M241.8 125.4l-0.4 -0.2" stroke="rgb(15,84,15)" stroke-width="1.05" stroke-linecap="round" stroke-linejoin="round" fill="none"/><path d="M257.7 109.2l-0.0 -0.6M208.8 141.9l-0.3 -0.5l-0.6 -0.4M202.1 145.9l-0.4 -0.9M264.3 134.7l1.1 0.2M245.4 126.6l-0.4 -0.3l-0.4 -1.0M257.0 126.4l0.7 -0.9l0.8 -0.5M237.3 138.7l0.3 0.3l0.2 1.0M228.3 126.0l-0.6 -0.2M261.1 124.7l0.5 -0.8l0.4 -1.0M239.5 137.1l-0.4 -0.1l-0.7 -0.6M260.2 129.9l-0.4 0.4l-0.1 0.7M258.5 93.5l0.0 -0.6l0.4 -0.6M222.3 136.1l-0.7 0.6l-0.8 -0.0M211.0 138.4l0.0 0.7M240.9 105.6l0.5 -0.5l0.2 -0.8M269.8 128.8l0.6 -0.2M239.2 117.8l0.1 -1.0M243.9 100.2l0.1 0.6l-0.3 0.5M253.0 86.7l-0.2 -1.1l-0.1 -0.9" stroke="rgb(15,84,15)" stroke-width="1.22" stroke-linecap="round" stroke-linejoin="round" fill="none"/><path d="M227.1 117.4l-0.9 -0.4l-0.9 -0.4M245.2 105.8l-0.9 -0.4M203.7 137.4l-0.6 -1.0l0.0 -0.9M266.0 119.8l0.6 -0.3l0.5 -0.9M248.8 121.9l0.7 -0.6l1.1 -0.3M241.2 128.7l-0.1 1.0l-0.3 0.3M211.4 141.0l0.5 0.5l0.3 0.3M259.4 122.7l0.2 0.5M250.2 125.9l-0.4 0.9l0.2 0.7M267.2 121.9l0.0 1.0M235.0 120.7l0.7 -0.2l1.1 0.0M273.2 138.5l0.7 0.6M211.1 84.7l0.8 -0.7l1.2 0.0M209.2 115.6l1.1 0.3l0.5 -0.1M261.8 100.7l-0.4 -0.4l-0.3 -0.6M267.2 137.2l0.5 0.1l0.7 0.2M215.3 113.8l0.2 0.7l0.1 0.7M218.3 125.1l0.4 0.3l0.4 0.9M215.5 126.7l0.7 0.4M272.4 135.8l0.7 0.4M279.6 131.7l-0.5 0.8l-0.0 0.4M272.7 131.8l-0.3 -0.7M256.5 95.1l-0.6 0.6l-0.1 0.8" stroke="rgb(18,105,18)" stroke-width="0.88" stroke-linecap="round" stroke-linejoin="round" fill="none"/><path d="M213.1 98.9l-0.4 0.3M213.6 129.1l-1.1 -0.4M240.0 134.1l1.0 0.5l0.3 0.5M235.2 120.1l0.9 0.4l0.5 -0.0M202.7 103.2l0.5 -0.4l0.9 -0.3M264.4 123.7l-0.8 -0.5M229.1 108.3l0.1 -0.6l-0.5 -0.9M268.0 137.4l0.1 -0.4l-0.2 -0.9M250.7 94.9l-0.4 0.7M280.2 93.3l-0.5 0.3l-0.8 0.9M260.4 128.4l0.4 0.8l0.4 0.3M211.4 123.4l0.5 0.7l0.8 0.3M246.3 135.5l-0.3 -1.0M264.3 110.7l0.3 -0.6l-0.1 -0.5M216.4 133.4l-0.4 -0.3l-0.8 -0.2M258.2 111.2l0.5 -1.0M252.7 108.7l0.8 -0.3" stroke="rgb(18,105,18)" stroke-width="1.05" stroke-linecap="round" stroke-linejoin="round" fill="none"/><path d="M240.1 144.4l-0.4 -0.1l-1.0 0.1M260.1 121.4l-0.1 0.5l-0.1 0.4M253.0 109.7l-0.6 0.6l-0.3 0.6M257.9 128.2l0.6 -0.0l0.7 0.2M249.1 122.5l-0.9 0.1l-1.0 -0.3M252.4 92.5l0.0 -1.0l-0.3 -0.6M222.3 129.4l0.0 -0.4M248.3 141.9l0.9 -0.3M229.1 126.9l0.1 0.5l-0.4 0.9M266.8 107.0l1.1 -0.0M210.2 145.5l-0.2 -0.6M229.1 126.5l0.5 -0.1M239.1 136.8l-0.3 -0.8l-0.0 -0.6M217.7 137.2l0.8 -0.5M222.3 110.9l0.7 -0.6M220.4 108.5l0.3 -0.4l-0.1 -0.8M213.2 90.9l0.3 0.2l0.7 0.2M208.3 102.8l0.5 0.1M219.3 139.6l0.4 -0.1l0.5 -0.6M209.1 138.9l0.4 -0.2l0.6 -0.6M229.3 122.9l-0.5 0.3l-0.9 0.0M257.1 134.4l0.7 -0.8M269.8 107.9l-0.4 -0.3l-0.7 -0.7M268.8 118.0l0.1 -0.7l0.4 -0.8M229.6 126.2l-0.6 -0.5l-1.0 -0.4M277.5 139.8l-0.9 0.1l-0.4 0.3M223.9 126.4l0.6 -0.5l0.7 -0.3M266.1 93.4l-0.3 -0.6l0.0 -0.6M221.6 105.3l0.1 0.6l-0.4 0.9M253.0 109.1l-0.8 -0.8l-0.5 -0.2M271.2 85.1l0.8 -0.1l0.6 -0.1M266.0 104.2l-0.1 1.0l-0.8 0.7" stroke="rgb(18,105,18)" stroke-width="1.22" stroke-linecap="round" stroke-linejoin="round" fill="none"/><path d="M245.8 100.7l0.7 0.1l0.7 -0.4M243.4 130.1l0.0 0.6M213.1 130.8l0.5 -0.3l1.1 0.1M265.8 125.6l-1.0 0.5l-0.5 0.8M249.4 95.5l0.3 -0.4l0.4 -0.3M221.1 92.0l0.2 -0.4M256.1 117.8l-0.4 0.8l-0.2 0.4M247.7 136.1l-0.7 -0.3M253.4 108.3l-0.9 0.3M241.6 111.6l0.5 0.6l-0.1 1.2M274.6 139.4l-0.2 -0.7M206.6 122.8l-0.4 -1.0M214.5 113.1l0.3 0.9M255.7 136.8l-0.1 0.6l-0.3 0.4" stroke="rgb(22,127,22)" stroke-width="0.88" stroke-linecap="round" stroke-linejoin="round" fill="none"/><path d="M224.4 110.4l-0.7 0.6l-0.6 0.8M231.2 132.7l0.2 0.5l0.9 0.5M213.9 141.2l-1.1 -0.0M264.0 115.9l-1.0 0.2l-0.8 0.4M273.4 113.9l0.6 0.6M227.3 128.5l0.4 0.3M207.5 108.3l-0.4 0.6M273.6 122.6l-0.3 0.9M269.8 138.8l-0.1 -0.6l-0.1 -0.5M235.6 128.6l-0.4 0.7l-0.2 1.0M214.8 125.2l-0.6 -0.4M271.1 130.7l0.1 -1.1l-0.4 -0.5M241.5 114.0l-0.8 -0.2M267.2 111.7l-0.7 0.2l-0.3 0.2M226.3 116.1l0.2 -1.1l0.2 -0.6M254.0 121.3l0.7 0.4M210.7 134.3l-0.6 -0.4l-0.6 -0.7M251.9 125.3l-0.5 0.3" stroke="rgb(22,127,22)" stroke-width="1.05" stroke-linecap="round" stroke-linejoin="round" fill="none"/><path d="M244.7 124.8l-0.7 -0.1l-0.6 -0.7M203.7 111.5l1.0 0.1M215.0 114.3l0.6 -0.7M259.5 119.2l-0.9 0.2l-0.8 0.3M267.0 146.9l-0.1 -0.7l-0.3 -0.4M239.5 124.4l0.1 0.4l0.6 0.4M258.5 109.7l-0.2 -1.1M213.4 109.5l0.4 0.4l0.2 0.5M250.1 123.6l-0.4 -0.1M258.3 126.8l0.1 -1.1l0.3 -0.4M215.1 107.5l0.4 0.5l0.3 0.9M250.0 113.6l-0.7 0.6l-0.4 0.1M261.4 89.7l-0.3 0.3M209.6 126.1l-0.7 0.3l-1.0 -0.1M204.3 132.6l-0.7 -0.3l-0.5 0.1M216.6 103.4l0.5 0.1l1.0 0.5M236.3 115.0l-0.1 -0.4M251.4 127.5l-0.8 0.6" stroke="rgb(22,127,22)" stroke-width="1.22" stroke-linecap="round" stroke-linejoin="round" fill="none"/><path d="M271.1 125.0l0.0 -0.4l-0.3 -1.0M242.6 119.5l-0.6 -0.2M220.5 108.5l0.8 0.0M225.3 114.1l-0.6 -0.5M241.1 118.8l0.4 -0.3l0.5 0.0M235.0 123.2l-0.4 -1.1l0.1 -0.7M229.6 108.6l0.6 -0.0M218.0 139.5l-0.8 -0.6M227.7 131.7l-1.0 0.2l-0.7 -0.5M265.8 117.3l0.4 0.3M221.5 134.2l0.5 1.1M252.1 136.8l0.9 -0.7l0.2 -1.2M201.6 100.8l-0.5 0.4l-0.6 0.4M220.5 109.7l0.2 -0.4M243.0 108.4l0.3 -0.5M251.7 142.3l-0.0 1.2l-0.8 0.8M260.7 114.1l0.0 -1.0M211.5 92.8l-0.5 -0.3M255.6 102.9l-0.8 -0.5l-0.6 -0.1M260.6 116.7l0.2 -0.8M244.3 145.3l0.1 0.5l0.6 0.4M241.9 133.2l0.4 -0.9M245.9 120.9l0.6 0.8l0.5 0.4" stroke="rgb(26,149,26)" stroke-width="0.88" stroke-linecap="round" stroke-linejoin="round" fill="none"/><path d="M252.6 135.5l-0.9 -0.4l-0.7 -0.0M268.0 130.3l-0.2 -1.0M202.5 130.3l0.9 -0.1l0.7 -0.3M255.1 125.9l0.7 -0.7M251.5 99.4l0.5 0.9l0.6 0.6M255.9 107.4l0.9 0.6l0.3 1.0M275.3 137.2l1.0 -0.6M257.6 114.8l-0.5 -0.1M213.2 86.2l0.2 0.7M252.2 130.6l-0.4 0.8l0.1 1.0M255.3 109.2l-0.6 -0.3l-1.1 -0.0M281.3 117.6l0.7 0.3l0.6 0.4M265.1 116.8l0.6 -0.8M256.8 97.8l0.5 -0.4M213.2 132.3l0.8 -0.7M244.1 126.9l-0.6 -0.8M232.3 89.2l0.3 0.4M255.5 120.4l-0.3 0.4M255.6 89.5l0.5 -0.7" stroke="rgb(26,149,26)" stroke-width="1.05" stroke-linecap="round" stroke-linejoin="round" fill="none"/><path d="M256.0 109.3l-0.1 -0.5l0.3 -1.0M230.1 99.7l0.2 1.0M250.1 95.7l1.0 0.1l0.6 0.3M209.9 137.8l-0.7 -0.3l-0.5 -0.3M228.7 141.8l-0.2 -1.1l-0.7 -0.5M239.9 134.6l-0.4 1.0M241.0 103.0l0.7 0.7l1.0 0.4M214.4 129.0l0.7 0.9M279.9 130.5l-0.8 0.2l-0.8 -0.0M272.1 135.0l-0.9 0.1M201.7 139.6l0.9 -0.7l0.9 -0.2M202.4 130.9l-0.8 0.2M272.1 142.9l-0.2 0.9l-0.6 0.5M233.9 146.1l0.1 0.7l-0.4 0.7M246.8 122.1l0.6 0.9" stroke="rgb(26,149,26)" stroke-width="1.22" stroke-linecap="round" stroke-linejoin="round" fill="none"/></g></g>
<rect x="271.5" y="143.7" width="5.5" height="1.6" fill="#bbb"/>
<text x="242.65" y="81.40" font-family="Liberation Sans" font-size="5.2" font-weight="bold" text-anchor="middle" fill="#000" >SeMet+H<tspan baseline-shift='sub' font-size='4'>2</tspan>O<tspan baseline-shift='sub' font-size='4'>2</tspan></text>
<clipPath id="cA20"><rect x="30" y="156" width="83.0" height="65.2"/></clipPath>
<rect x="30" y="156" width="83.0" height="65.2" fill="#000"/>
<g clip-path="url(#cA20)"><g filter="url(#soft)"><path d="M59.0 210.8l0.7 -1.6M54.9 218.6l-0.1 0.7M50.2 176.1l0.3 0.7l0.3 0.6M56.4 166.7l0.9 1.1M80.7 156.3l-0.9 0.3M54.3 161.7l0.0 1.6l-0.5 0.9M61.4 156.9l0.7 0.0M53.9 183.3l1.1 -0.8M94.5 215.8l0.8 1.4M48.9 159.8l-0.5 0.7M108.2 162.7l0.1 1.7l-0.1 0.6M97.2 161.1l-0.9 -0.4l-1.0 -0.4M97.0 193.8l0.8 -0.5M41.7 183.0l1.0 -0.0l1.1 -0.7M93.5 188.8l-0.2 0.7" stroke="rgb(10,57,10)" stroke-width="1.25" stroke-linecap="round" stroke-linejoin="round" fill="none"/><path d="M46.4 186.6l0.3 1.6l1.2 1.3M76.1 183.2l-0.5 -0.9M76.9 188.7l0.7 -0.8l0.5 -1.0M35.4 206.7l-0.6 -1.6M94.7 167.2l0.6 -0.3M93.4 198.9l-0.0 0.8l0.5 0.7M85.8 211.8l0.7 1.1l0.3 0.5M40.5 196.1l0.2 -0.7l-0.3 -1.0M30.5 164.1l-1.2 0.1M51.9 162.4l0.3 1.7M78.5 219.4l-0.2 -0.7l0.0 -0.8M90.4 212.7l0.9 -0.9M86.5 216.5l0.8 0.9l0.7 0.5M41.6 161.8l-0.5 0.7l-1.1 0.7M37.6 181.4l0.1 1.7l0.3 1.6M87.6 176.2l0.7 0.4l0.4 0.9M49.6 166.0l0.6 -1.4M40.6 179.2l0.7 -0.4M53.8 209.0l0.8 0.1l1.6 0.5M98.5 214.1l-0.4 0.5l-1.4 0.3M64.1 161.6l-1.3 0.1l-1.4 0.8M33.4 181.7l-1.1 0.1l-0.8 0.4M44.0 168.6l0.9 -0.2l0.6 -0.1" stroke="rgb(10,57,10)" stroke-width="1.55" stroke-linecap="round" stroke-linejoin="round" fill="none"/><path d="M61.6 162.0l0.5 1.7l0.6 1.7M97.0 198.4l0.5 0.8M40.7 191.0l-1.7 -0.1l-0.8 -0.8M36.5 210.1l0.5 1.5l-0.1 1.7M56.3 173.4l1.0 -0.4l1.3 -0.4M98.4 166.7l-1.3 0.4M58.6 162.9l-0.7 -0.1l-0.5 -0.4M98.3 186.7l-1.0 -0.5l-1.3 -0.3M106.5 191.8l-0.2 0.8M109.5 163.4l-0.8 0.8M55.5 156.9l1.2 0.5l0.6 1.1M87.5 177.2l0.8 -0.4l0.6 -0.7M41.0 159.2l-0.6 1.2l-0.8 1.2M99.2 167.3l-0.8 1.1l-1.4 0.5M30.0 189.8l0.5 0.8l0.9 0.8M59.8 179.4l1.5 0.6l0.7 1.5M90.2 204.5l0.9 0.4M45.4 162.2l-1.3 0.6l-0.7 1.4M111.3 174.2l-1.4 -0.4M82.5 165.5l0.8 -1.1M53.2 210.5l0.1 0.7M36.4 181.4l-1.4 -0.6M50.2 169.9l-1.0 -0.2l-1.5 -0.1M92.8 170.2l0.3 0.9l-0.2 0.6M112.0 168.6l-1.4 -0.2l-0.9 0.2M56.3 218.7l-1.3 0.0l-1.2 -0.0M68.6 159.9l0.5 0.6M47.1 216.0l1.0 -1.1l1.5 -0.3M66.4 161.7l-0.1 0.7l-0.7 0.6M41.6 209.4l0.6 -1.0M36.7 216.7l-0.8 -1.4" stroke="rgb(10,57,10)" stroke-width="1.85" stroke-linecap="round" stroke-linejoin="round" fill="none"/><path d="M50.7 174.2l-0.8 1.3l-0.3 1.3M42.1 220.2l1.0 1.2M37.1 210.3l1.3 0.1M105.5 191.6l1.0 1.1l1.6 0.2M47.3 189.5l-0.8 -0.1l-1.5 0.5M108.4 175.7l-1.5 0.4l-0.9 -0.5M65.3 206.6l-0.9 -0.4M52.8 174.2l1.1 0.2l1.0 0.0M45.2 170.0l1.6 0.7l0.4 0.6M86.4 210.9l0.8 -0.7l0.1 -1.4M34.2 165.0l0.3 -0.9l1.5 -0.9M59.9 156.8l0.7 -0.9M108.6 159.2l0.9 1.1M105.8 179.1l0.6 -0.7M46.2 164.6l1.3 -1.1" stroke="rgb(16,93,16)" stroke-width="1.25" stroke-linecap="round" stroke-linejoin="round" fill="none"/><path d="M45.7 178.7l1.3 -0.2M93.2 198.5l-1.1 0.5l-1.0 0.6M55.0 164.2l-1.4 1.0M108.4 176.2l0.5 0.5M100.4 167.4l0.4 0.6l0.9 0.2M42.5 212.6l-0.7 1.2l-0.2 1.3M85.4 165.7l-0.4 -0.5l-1.3 -0.1M52.9 192.7l1.5 0.5M97.6 160.8l0.3 1.1M54.2 219.2l-0.8 0.4l-0.6 0.6M98.9 199.0l-0.1 -0.8M97.2 163.6l-1.0 0.7" stroke="rgb(16,93,16)" stroke-width="1.55" stroke-linecap="round" stroke-linejoin="round" fill="none"/><path d="M63.4 162.7l-0.6 -1.0l-0.3 -0.7M93.6 174.3l1.3 -0.4M80.3 217.0l0.5 -0.4l0.3 -1.6M77.6 193.2l0.9 -1.0l1.4 -0.7M47.5 161.5l-1.2 0.1M43.5 160.6l-0.3 0.8l0.2 0.8M93.5 215.0l-0.5 -0.7M39.0 196.7l1.3 0.7l1.1 1.0M108.6 194.8l-0.4 1.5M38.2 190.3l1.2 0.7l0.6 0.7M37.9 183.0l0.1 0.8l0.1 1.0M50.9 217.9l0.7 -0.4l0.4 -0.8M46.8 157.9l-1.5 0.6M103.6 206.7l1.3 0.8l0.7 1.6M38.8 183.3l1.4 -0.3l0.7 0.0M89.4 177.4l0.1 -0.7M48.1 218.9l0.7 0.3l1.0 -0.2M38.1 187.8l1.0 -0.3l0.7 -0.6M72.9 169.0l1.2 -0.2" stroke="rgb(16,93,16)" stroke-width="1.85" stroke-linecap="round" stroke-linejoin="round" fill="none"/><path d="M50.9 159.2l-0.3 1.4M44.5 164.5l-1.7 -0.3M89.7 169.2l-0.3 1.2l-0.5 0.7M48.7 218.4l-1.5 -0.3M43.1 166.0l0.3 -0.8M46.5 163.8l0.4 -0.6M65.8 160.4l0.4 0.6M42.1 168.0l-0.4 0.6M68.6 174.9l-0.6 -0.9M40.8 176.3l-1.3 0.7" stroke="rgb(23,129,23)" stroke-width="1.25" stroke-linecap="round" stroke-linejoin="round" fill="none"/><path d="M103.7 163.2l0.6 -0.7l0.3 -0.7M67.2 176.3l-0.7 -0.6l-0.8 0.1M61.3 166.1l1.2 0.1M39.3 196.8l1.5 0.9l0.8 0.9M102.2 159.1l0.8 0.5l0.9 0.5M104.1 157.8l-0.2 -1.5l-0.4 -0.9M101.2 188.0l1.3 1.2M77.6 159.5l-1.0 1.2l-1.0 0.3M102.2 196.4l0.2 -1.2" stroke="rgb(23,129,23)" stroke-width="1.55" stroke-linecap="round" stroke-linejoin="round" fill="none"/><path d="M36.7 157.6l0.9 -0.2l1.1 0.1M92.3 172.1l0.3 -0.6M98.5 158.7l0.2 1.4M106.6 163.3l1.1 1.3M72.8 169.7l1.2 -1.2l0.5 -1.5M46.2 170.1l0.9 -1.0l0.4 -0.6M86.7 221.1l1.1 -1.2M102.1 161.2l0.3 -1.2l0.0 -1.0M32.6 209.4l1.3 -1.0M97.0 161.8l0.1 -1.5l0.3 -0.8" stroke="rgb(23,129,23)" stroke-width="1.85" stroke-linecap="round" stroke-linejoin="round" fill="none"/><path d="M50.4 181.6l-1.3 1.1l-0.4 0.7M55.7 164.3l-1.3 0.0M91.7 165.5l-0.2 0.8M47.4 174.0l-1.5 0.3l-1.6 0.4M51.6 176.7l-0.6 0.8M31.6 188.1l-1.5 -0.3M30.2 169.2l0.3 0.7M100.5 193.6l0.6 0.9l1.5 0.7" stroke="rgb(29,165,29)" stroke-width="1.25" stroke-linecap="round" stroke-linejoin="round" fill="none"/><path d="M61.7 181.0l0.9 0.0l0.7 0.5M64.6 161.9l-0.6 1.5l-0.4 0.7M94.9 197.3l0.1 0.9M36.4 189.5l-1.2 -0.2M86.4 215.4l-0.4 -0.6M30.8 180.3l0.5 1.4M38.8 168.0l-0.5 -0.7M37.5 211.5l-0.2 0.7M106.0 191.1l0.4 0.5l-0.2 1.2M60.8 176.9l-0.9 -1.0M71.8 157.6l-1.1 0.4l-0.9 1.5M35.9 197.2l0.9 0.2l1.6 -0.4M44.3 156.3l-0.0 -1.5l0.4 -1.3M54.9 184.5l-0.1 0.9M52.5 211.9l-0.7 1.4M89.1 160.7l-0.7 0.5l-0.3 1.7M97.4 158.1l-1.6 -0.3M33.6 183.7l-1.3 -0.7" stroke="rgb(29,165,29)" stroke-width="1.55" stroke-linecap="round" stroke-linejoin="round" fill="none"/><path d="M78.8 189.4l0.1 1.0l0.4 0.9M102.1 193.3l0.0 -0.9M44.8 178.9l-0.3 1.5l-0.7 1.3M49.1 173.5l-1.2 0.1l-1.2 1.0M43.0 179.2l0.7 0.1M49.2 182.1l-0.6 0.8M73.1 184.9l-0.4 -0.6l-1.4 -0.9M62.3 208.3l0.8 -1.1l1.0 -0.3M67.0 189.2l-1.0 0.0l-1.7 0.4M110.4 173.4l1.3 -1.0M104.4 166.2l-0.9 1.5M40.7 168.2l-0.5 -0.8l-0.0 -0.8M57.2 189.5l-1.1 -1.0l-1.5 -0.6" stroke="rgb(29,165,29)" stroke-width="1.85" stroke-linecap="round" stroke-linejoin="round" fill="none"/><path d="M99.3 183.4l1.4 -1.0M49.9 207.2l0.6 -1.4l0.2 -1.3M112.8 202.9l1.0 0.7l1.5 0.6M97.9 175.8l-0.9 0.5l-1.6 0.4M91.1 199.6l0.6 -1.4l0.9 -0.5M94.5 157.4l0.6 1.4M36.5 178.2l1.4 -0.0M100.6 200.5l-0.1 -1.6M39.7 215.1l0.9 0.9l0.5 0.6M100.5 165.1l-1.0 0.1M46.2 166.2l0.5 -0.5l0.6 -0.5M98.2 168.1l-0.9 0.1l-1.3 1.1M67.1 183.1l1.4 -0.8l1.3 0.1" stroke="rgb(36,201,36)" stroke-width="1.25" stroke-linecap="round" stroke-linejoin="round" fill="none"/><path d="M95.9 193.2l-0.3 1.0M39.7 182.7l0.0 0.9M105.4 161.3l0.8 -0.4l1.2 -0.6M48.2 185.8l0.7 -0.7l0.3 -1.5M97.0 159.0l-0.5 -1.1" stroke="rgb(36,201,36)" stroke-width="1.55" stroke-linecap="round" stroke-linejoin="round" fill="none"/><path d="M50.8 176.7l-0.8 -1.6l0.0 -1.7M81.8 168.8l-0.9 0.6M104.5 157.6l-0.8 -0.7l-1.5 -0.7M45.6 174.9l0.0 -0.7l0.2 -0.6M53.6 167.8l-0.4 1.7l-1.2 0.7M81.6 191.3l0.4 -1.6M112.7 175.8l-0.9 -0.1M62.1 164.5l-0.1 -1.8l0.6 -1.0M98.2 165.7l-1.4 0.6l-0.6 0.2M47.5 210.6l1.3 -1.1" stroke="rgb(36,201,36)" stroke-width="1.85" stroke-linecap="round" stroke-linejoin="round" fill="none"/><path d="M37.0 185.3l-0.4 -0.6l-0.5 -0.4M36.7 181.9l-0.3 -1.0l-0.6 -0.5M50.3 165.4l-1.0 1.1l-1.3 0.7M53.0 205.5l-0.3 -1.7M84.6 205.7l1.0 -0.8l0.7 -0.2M84.9 217.4l0.5 -1.0l-0.3 -1.2M89.8 164.6l-0.2 1.2M59.1 189.5l-0.3 0.7l-0.5 0.5M60.7 177.3l0.2 -1.2M90.6 187.8l-1.4 1.1l-0.7 -0.1M104.1 200.1l-1.1 0.2l-1.7 0.5M89.0 216.6l0.6 0.0l1.2 0.7M94.6 156.7l0.9 0.6M74.2 162.0l-0.9 -0.1l-1.1 -0.2" stroke="rgb(42,237,42)" stroke-width="1.25" stroke-linecap="round" stroke-linejoin="round" fill="none"/><path d="M106.5 170.0l-1.3 -0.0M45.8 181.8l0.9 -0.1l1.7 0.3M96.3 164.2l0.2 1.1M48.8 159.3l-1.3 0.7M57.7 161.0l0.7 1.4l0.4 0.6M59.4 192.8l-0.7 1.6M53.5 184.1l-0.9 0.2l-1.2 0.2M33.8 204.2l0.3 1.0l0.5 1.0M73.9 216.8l0.7 -0.2M45.5 163.6l0.3 -0.5l1.0 -0.4M103.6 193.7l0.8 -0.3l0.6 -0.2M110.2 166.1l1.7 0.6" stroke="rgb(42,237,42)" stroke-width="1.55" stroke-linecap="round" stroke-linejoin="round" fill="none"/><path d="M102.1 198.3l-0.9 0.1l-1.4 -0.3M109.4 185.9l1.0 0.3M98.5 161.8l-0.8 -0.6l-1.1 -0.7M47.6 209.8l-0.1 -1.2l-0.3 -1.6M38.9 160.6l0.6 -0.4M56.7 209.0l-1.1 0.2M30.6 206.5l1.3 1.0M77.7 212.2l-0.7 1.2M39.9 186.2l-1.4 1.0" stroke="rgb(42,237,42)" stroke-width="1.85" stroke-linecap="round" stroke-linejoin="round" fill="none"/></g></g>
<rect x="103.0" y="216.2" width="5.5" height="1.6" fill="#bbb"/>
<text x="74.00" y="154.40" font-family="Liberation Sans" font-size="5.2" font-weight="bold" text-anchor="middle" fill="#000" >Allicin+H<tspan baseline-shift='sub' font-size='4'>2</tspan>O<tspan baseline-shift='sub' font-size='4'>2</tspan></text>
<clipPath id="cA21"><rect x="114.5" y="156" width="83.0" height="65.2"/></clipPath>
<rect x="114.5" y="156" width="83.0" height="65.2" fill="#000"/>
<g clip-path="url(#cA21)"><g filter="url(#soft)"><path d="M123.7 161.6l0.3 0.3M132.1 221.0l0.3 -0.7M145.2 195.7l0.1 -0.6" stroke="rgb(5,32,5)" stroke-width="0.88" stroke-linecap="round" stroke-linejoin="round" fill="none"/><path d="M179.2 185.0l-0.1 -0.6M140.9 157.0l0.3 -0.0" stroke="rgb(5,32,5)" stroke-width="1.05" stroke-linecap="round" stroke-linejoin="round" fill="none"/><path d="M164.1 194.1l-0.1 -0.5M139.7 207.9l0.4 -0.0" stroke="rgb(8,46,8)" stroke-width="0.88" stroke-linecap="round" stroke-linejoin="round" fill="none"/><path d="M179.5 178.0l-0.6 -0.6M173.0 200.3l0.4 0.5" stroke="rgb(8,46,8)" stroke-width="1.05" stroke-linecap="round" stroke-linejoin="round" fill="none"/><path d="M125.0 175.5l0.4 -0.1M181.4 178.0l-0.3 0.1" stroke="rgb(8,46,8)" stroke-width="1.22" stroke-linecap="round" stroke-linejoin="round" fill="none"/><path d="M179.1 166.4l-0.3 0.4" stroke="rgb(10,60,10)" stroke-width="0.88" stroke-linecap="round" stroke-linejoin="round" fill="none"/><path d="M122.9 190.8l-0.0 0.3" stroke="rgb(10,60,10)" stroke-width="1.05" stroke-linecap="round" stroke-linejoin="round" fill="none"/><path d="M182.2 160.7l-0.4 0.4" stroke="rgb(10,60,10)" stroke-width="1.22" stroke-linecap="round" stroke-linejoin="round" fill="none"/><path d="M118.0 161.2l0.5 0.5M169.6 166.0l0.1 0.9M148.6 204.0l-0.5 -0.3" stroke="rgb(13,74,13)" stroke-width="1.05" stroke-linecap="round" stroke-linejoin="round" fill="none"/><path d="M136.2 197.8l0.3 -0.7" stroke="rgb(13,74,13)" stroke-width="1.22" stroke-linecap="round" stroke-linejoin="round" fill="none"/><path d="M167.2 199.5l-0.6 0.4M152.5 172.9l-0.4 0.2M173.1 180.3l0.2 0.3M130.9 213.0l-0.2 -0.3" stroke="rgb(15,88,15)" stroke-width="0.88" stroke-linecap="round" stroke-linejoin="round" fill="none"/><path d="M123.0 164.4l-0.5 -0.4" stroke="rgb(15,88,15)" stroke-width="1.22" stroke-linecap="round" stroke-linejoin="round" fill="none"/><path d="M189.2 172.6l-0.3 0.4M149.3 209.2l-0.0 -0.4M170.1 160.4l0.3 0.8M156.6 195.2l0.7 -0.4" stroke="rgb(18,102,18)" stroke-width="0.88" stroke-linecap="round" stroke-linejoin="round" fill="none"/><path d="M173.1 185.4l-0.9 -0.2" stroke="rgb(18,102,18)" stroke-width="1.05" stroke-linecap="round" stroke-linejoin="round" fill="none"/><path d="M174.2 177.6l-0.6 -0.1" stroke="rgb(18,102,18)" stroke-width="1.22" stroke-linecap="round" stroke-linejoin="round" fill="none"/></g></g>
<rect x="187.5" y="216.2" width="5.5" height="1.6" fill="#bbb"/>
<text x="158.50" y="154.40" font-family="Liberation Sans" font-size="5.2" font-weight="bold" text-anchor="middle" fill="#000" >SeMet+Allicin+H<tspan baseline-shift='sub' font-size='4'>2</tspan>O<tspan baseline-shift='sub' font-size='4'>2</tspan></text>
<clipPath id="cA22"><rect x="198.8" y="156" width="82.7" height="65.2"/></clipPath>
<rect x="198.8" y="156" width="82.7" height="65.2" fill="#000"/>
<g clip-path="url(#cA22)"><g filter="url(#soft)"><path d="M236.5 164.4l-0.3 -0.6l0.1 -0.9M278.8 169.9l0.6 1.0M215.0 197.5l-0.4 -1.0l-1.0 -0.9M270.6 177.2l1.2 0.0l1.3 0.6M231.9 157.2l0.0 -1.1M238.9 167.6l-0.5 -0.8M239.7 159.9l-0.6 0.4M264.0 159.3l-1.3 -0.9l-0.9 -1.2M226.7 191.2l0.7 -1.3l-0.1 -1.1M207.9 205.9l1.1 -0.4l0.7 -0.6M250.9 160.0l-0.6 -0.3M216.7 175.6l1.2 -0.4l0.9 0.1" stroke="rgb(28,157,28)" stroke-width="1.72" stroke-linecap="round" stroke-linejoin="round" fill="none"/><path d="M214.5 212.4l0.5 -0.9l0.1 -1.6M278.3 214.3l0.6 1.7l0.7 0.5M220.4 216.9l-1.4 0.3M239.3 160.1l-0.6 0.4l-0.3 1.0M249.2 173.3l-1.1 0.5M222.2 196.0l1.3 0.7M235.7 172.7l1.1 0.8l1.6 -0.2M242.6 191.7l0.1 -1.3l0.3 -1.2M214.1 158.2l1.3 -1.1M233.1 168.0l0.9 1.5l-0.1 1.2M267.2 197.8l-0.4 0.8l-0.7 1.1M203.9 184.1l1.5 0.5M203.0 169.7l0.5 0.8M211.4 178.1l0.8 0.2l1.2 0.2M257.7 171.7l0.4 0.7M206.7 170.2l1.3 0.4l1.1 0.7M253.7 204.3l-0.8 1.6M267.6 210.3l-0.7 0.3" stroke="rgb(28,157,28)" stroke-width="1.95" stroke-linecap="round" stroke-linejoin="round" fill="none"/><path d="M278.1 166.1l1.8 -0.2M259.7 171.6l1.4 0.3l1.3 -0.7M211.3 210.9l-1.5 0.5M199.4 210.1l0.8 -0.7l0.8 -0.6M246.2 167.5l-0.7 -0.4M234.2 200.8l0.5 0.8l0.2 0.9M233.9 208.2l-1.0 1.1M207.9 170.8l0.4 0.8M262.4 193.2l-0.5 -0.5M212.9 205.1l1.5 -0.6M261.7 173.9l-0.1 -1.2M202.3 180.8l1.1 -0.0l1.2 -0.8M277.9 199.6l-0.6 -0.8l-0.4 -1.0" stroke="rgb(28,157,28)" stroke-width="2.18" stroke-linecap="round" stroke-linejoin="round" fill="none"/><path d="M208.5 201.1l-1.4 -1.1l-0.9 0.1M259.0 199.8l-0.5 -1.4M255.5 175.4l-0.7 -0.0l-1.3 -0.3M203.2 218.2l1.4 0.9M216.8 161.7l0.1 1.5l-0.4 0.8M208.7 218.7l0.2 0.7l-0.0 0.9M232.9 216.3l-0.3 -0.6l-0.7 -1.2M235.4 216.9l-0.7 -0.3M234.2 198.7l0.8 -0.6M233.9 204.6l1.2 0.5M254.2 188.1l-0.2 -1.7M202.5 162.6l1.7 0.1l1.7 -0.2M277.8 184.8l0.9 0.9l0.4 0.7M199.7 182.5l-0.2 1.7M230.0 215.3l-0.5 1.1l-0.1 1.5M258.1 219.0l-1.0 0.9l-1.1 1.1M277.3 217.4l0.0 1.3l-0.4 0.6M214.0 204.6l1.1 -0.6l0.7 -0.2M204.6 183.6l1.6 0.2l0.9 0.8M276.8 203.0l0.1 -1.3l0.3 -1.2M268.6 192.6l-0.5 1.4M280.4 209.5l0.4 -0.9l0.6 -0.4M236.8 160.0l0.2 1.1M217.8 184.9l1.5 -0.7l0.6 -0.7M251.8 207.3l-0.6 0.7l-0.2 0.6M206.6 157.1l-0.3 1.1l-0.6 0.4M240.2 193.2l1.5 -0.5M224.4 218.0l-1.3 -0.3l-0.7 0.1M269.5 201.5l-1.3 0.5M259.5 182.2l0.2 1.1" stroke="rgb(31,173,31)" stroke-width="1.72" stroke-linecap="round" stroke-linejoin="round" fill="none"/><path d="M273.1 208.2l-0.7 -0.4l-1.6 0.0M278.1 177.0l0.8 -0.2l0.9 0.4M231.9 174.4l0.6 -0.5M248.5 159.0l1.5 0.6M256.9 189.6l-0.8 0.5l-0.3 0.8M204.3 195.5l-0.5 -1.4l-0.8 -1.1M239.3 199.9l1.5 0.2M200.4 167.6l0.6 1.3M268.5 186.4l-0.5 1.1M230.1 158.5l-0.3 0.9M257.9 161.4l0.9 0.1l0.5 0.7M203.1 189.1l-1.2 0.0M232.6 207.0l-0.8 0.0l-1.0 0.5M219.2 176.5l-1.0 -0.8l-0.2 -0.9M255.1 192.3l0.9 0.5l1.3 0.2M259.7 159.8l-1.0 1.4l-0.5 0.7M234.5 158.9l-0.7 -1.0M265.6 166.1l-0.9 -1.3l-1.3 -1.0M267.4 158.3l-1.2 -0.4l-1.1 0.4M211.9 208.9l1.4 -0.5l1.1 -0.8M210.1 220.7l-1.1 0.9l-1.5 1.0M249.3 165.7l-0.6 -0.8M201.9 172.6l1.2 0.1" stroke="rgb(31,173,31)" stroke-width="1.95" stroke-linecap="round" stroke-linejoin="round" fill="none"/><path d="M237.5 200.8l-0.6 -0.5l-1.2 -0.4M281.3 157.5l0.0 -1.2l0.9 -1.4M263.7 196.5l0.8 -0.3M249.1 183.9l1.5 -0.9l1.2 0.1M265.4 163.6l-0.9 -0.6M199.8 186.9l0.8 -1.0M213.1 186.5l0.8 -1.3l1.2 -0.5M199.9 191.9l0.9 -0.6M204.1 170.7l1.4 0.9l0.6 0.1M272.0 212.1l-1.0 -0.2l-1.5 -0.5M224.5 202.7l1.5 0.0l0.6 -0.5M240.5 203.0l0.6 0.4l0.6 1.5M254.2 172.3l0.6 -0.7l-0.0 -1.0M202.7 190.6l0.5 -1.3M273.8 165.5l0.2 -0.6M240.1 173.9l-0.6 -0.0M270.9 164.0l1.4 0.9M278.7 204.6l-1.0 -0.6l-1.1 -1.2M208.6 158.2l-0.9 -0.2l-1.4 -0.5M249.9 220.5l-0.5 0.8M222.1 177.9l-0.9 -0.6l-1.5 -0.0M224.7 187.7l-1.2 0.7M222.6 185.5l0.8 0.6M247.0 171.0l0.7 -0.2l1.2 -0.5M268.2 170.3l-1.2 -0.3M261.9 216.7l-0.2 1.0M265.3 179.1l1.0 0.8M228.9 212.9l0.4 1.5l-0.0 1.1" stroke="rgb(31,173,31)" stroke-width="2.18" stroke-linecap="round" stroke-linejoin="round" fill="none"/><path d="M201.9 156.1l1.3 -0.7M209.3 199.8l0.1 1.2l0.6 1.2M249.4 192.8l1.2 -0.8M212.0 168.4l0.8 0.2l1.2 0.7M229.0 203.5l-0.6 0.3M223.9 211.5l-0.1 1.7l0.6 0.8M281.4 163.4l1.1 -0.8l1.2 -0.8M214.3 218.5l1.0 1.4M210.0 184.3l0.5 -0.5l1.2 0.0M273.0 196.4l0.3 1.1M199.4 187.8l-0.5 -1.2l-1.5 -0.8M263.8 170.9l0.7 -0.0M271.8 212.6l1.1 0.2l1.4 -0.4M254.7 175.2l-0.8 0.2M214.5 193.8l-1.2 1.2l-0.4 0.8M221.1 173.5l-0.2 1.8l-0.4 0.8M279.8 209.2l0.3 0.9M228.7 201.8l-0.4 0.5l-0.8 0.2M249.7 214.4l-0.5 -0.3M203.3 220.2l0.8 0.9l0.7 0.2M208.0 176.4l1.0 0.8M237.8 212.4l1.2 -0.4M269.2 213.1l-0.8 -1.5l-0.4 -1.2M281.2 220.3l0.4 1.2l-0.3 1.3M259.5 161.1l0.3 -1.6M272.4 182.6l-0.6 0.7M216.3 195.0l1.6 0.3l1.0 0.8M213.0 210.3l-0.9 0.9l-1.6 0.4M280.8 215.5l-0.7 -1.4M278.1 213.4l-0.2 1.2l0.9 1.4M218.6 192.1l-1.6 -0.8M278.1 185.6l-0.8 -1.3l-1.1 -1.4M241.8 179.4l-0.6 0.4l-0.9 0.3M241.0 162.6l0.1 1.2l-0.8 1.3M256.7 178.0l0.9 -0.0l1.4 0.3M230.1 200.5l1.2 0.2l1.4 -0.2M268.6 178.0l1.6 0.3l0.6 0.7M219.9 188.1l0.5 1.0M277.6 202.6l-0.2 -0.7l-1.2 -1.3M229.0 158.4l-0.2 0.6M266.5 170.3l-0.6 -0.1l-0.8 -0.6" stroke="rgb(34,189,34)" stroke-width="1.72" stroke-linecap="round" stroke-linejoin="round" fill="none"/><path d="M226.8 175.3l-0.9 0.1M249.2 181.1l0.2 1.0l0.9 0.8M206.4 168.4l-0.5 1.2l-0.1 1.6M281.0 159.8l-0.7 0.4l-0.3 0.8M222.6 218.8l0.5 0.5M249.2 185.0l0.3 1.4M228.6 156.9l-0.2 -0.8l-0.5 -0.5M235.6 196.8l0.7 -0.2M252.7 176.4l-0.5 -0.8M233.2 215.2l1.5 -0.8M213.7 167.4l1.5 0.0l1.4 -0.2M269.6 174.2l0.8 1.5l0.1 1.4M248.5 187.9l0.4 -1.1l0.5 -1.2M272.8 195.0l0.5 -0.7l1.0 -0.4M210.5 209.3l0.4 1.0l1.0 0.8M221.5 191.0l0.7 -1.2M252.5 209.9l0.4 0.6l1.3 1.1M228.5 182.3l-0.7 1.0l-0.4 0.6M251.7 220.0l0.7 -0.1M216.2 184.6l1.5 -0.5M246.5 176.1l-1.7 -0.1l-1.4 -0.4M209.2 210.8l-0.4 1.6l-0.0 1.3M262.1 201.1l0.2 -0.7l1.3 -1.0M201.0 216.8l-0.8 -1.5l-1.1 -0.4M248.4 212.6l0.5 -1.4M263.0 172.4l-0.7 0.2l-1.1 -0.2M214.4 216.2l-0.2 -1.0l0.4 -1.0M233.6 200.6l1.2 -1.1l1.1 -0.3M236.6 176.4l0.8 0.2" stroke="rgb(34,189,34)" stroke-width="1.95" stroke-linecap="round" stroke-linejoin="round" fill="none"/><path d="M267.8 194.0l0.2 1.6l-0.2 1.3M266.3 179.9l0.6 -0.8l1.7 -0.6M213.2 206.9l0.5 -0.5M275.6 156.9l1.6 0.4M199.9 214.6l-0.8 -0.8l-0.5 -0.3M268.0 170.1l0.3 -0.9l0.5 -0.8M210.1 208.3l-0.6 -0.2M217.0 179.5l-0.8 0.2M217.5 163.4l-0.8 -0.8M255.4 193.6l-1.2 -0.1M245.5 192.9l-0.1 -0.7l0.1 -1.6M226.9 194.3l0.2 -1.3M235.2 200.9l0.9 -0.0M206.8 216.4l0.3 -1.5M224.4 181.9l0.9 1.3M250.5 157.4l-0.3 -1.0M280.8 165.8l0.5 0.8l1.4 0.7M245.1 176.5l0.1 1.6l0.2 0.6M227.3 199.3l0.4 1.2l1.1 0.8M267.7 194.0l1.0 -1.5l0.9 -0.3M241.1 164.7l1.3 -0.3l1.1 0.1M198.9 193.9l-0.2 1.3M264.3 171.2l-1.2 -0.5M246.3 174.7l-0.5 1.1M257.9 220.8l-1.3 0.2l-0.7 0.7M201.8 193.9l0.9 -0.3l1.2 0.3M269.1 157.7l1.2 0.2M216.2 217.5l1.1 0.7M199.5 195.4l0.3 -1.5l-0.4 -0.9M201.0 178.6l1.6 -0.3l1.1 -0.9M210.7 208.3l-1.8 0.1l-1.2 -0.7M280.9 167.5l-0.5 0.7M253.4 188.0l-0.4 -0.5M274.7 176.8l0.8 -1.0l0.1 -1.4M277.5 205.8l0.7 -0.5M272.4 160.1l-0.3 1.0l-0.9 0.5M210.0 192.8l-0.5 -0.7M270.6 175.6l-0.9 -0.8M276.9 163.4l0.6 0.3" stroke="rgb(34,189,34)" stroke-width="2.18" stroke-linecap="round" stroke-linejoin="round" fill="none"/><path d="M240.7 197.0l0.2 -1.5l0.0 -0.7M217.1 177.8l-1.3 1.0M205.5 187.0l0.7 -1.2M226.0 173.5l0.7 -0.1M215.1 181.3l0.1 -1.1M263.8 166.1l-0.7 0.2M253.9 213.6l1.1 -0.4M240.9 166.2l-0.5 0.8l-1.3 0.8M239.2 213.0l-0.8 -1.4l-0.5 -0.7M202.3 174.5l0.9 1.1l0.1 1.5M279.3 158.9l-0.7 1.3l-1.0 1.1M257.4 219.9l0.3 -0.8M210.4 201.3l0.8 -0.2l0.6 -0.9M239.9 172.3l0.9 0.2l1.3 0.6M202.1 204.6l0.1 0.6M250.3 187.3l-1.0 -1.1l-0.3 -1.7M248.3 172.7l-0.7 -0.5M250.5 201.6l-0.5 -0.7M206.0 220.9l0.4 -1.1M263.5 217.2l-0.8 -1.0l-0.9 -0.8M272.6 212.7l-0.0 1.4l0.3 1.0M217.6 213.4l-0.5 -0.5M268.4 213.9l1.7 -0.1M201.2 173.7l-0.0 0.7l0.4 0.9M272.6 156.3l0.6 -1.7M230.9 220.5l-0.8 1.0M206.7 162.1l-1.1 0.8M240.8 181.5l-1.0 1.0M256.1 182.6l-0.1 -0.7M273.1 187.2l1.5 -0.5M274.0 203.4l0.1 0.8l-0.7 0.8M211.2 161.3l-0.3 1.6l-0.5 1.1M206.5 196.2l-0.9 0.5M266.5 215.2l-1.1 0.6M209.0 190.6l-0.9 0.9M216.5 218.1l-0.1 -1.4l0.6 -1.0M206.7 191.9l-0.6 -0.4" stroke="rgb(36,205,36)" stroke-width="1.72" stroke-linecap="round" stroke-linejoin="round" fill="none"/><path d="M254.8 175.5l0.2 0.9l-0.1 1.0M246.1 201.1l-1.5 0.2l-0.9 1.2M221.3 184.9l0.4 -1.7l0.4 -0.8M206.9 188.9l1.2 -1.0l1.1 -0.3M247.8 184.1l-1.2 -0.8M253.6 186.9l-0.7 -0.4M223.6 182.1l0.1 -1.3M207.3 193.9l-0.7 0.3M271.8 211.4l-1.5 0.4l-0.9 1.2M230.0 198.8l-1.5 -0.4M250.9 216.6l-1.0 -0.4M214.6 177.9l-0.6 0.0M277.1 202.2l-0.4 -1.0l-0.5 -0.5M254.9 206.1l0.1 -0.9M225.2 179.0l-0.5 1.3M200.4 216.3l-0.9 0.9l-0.3 1.4M228.7 209.2l-1.1 -0.5l-0.8 -0.2M256.8 160.2l-1.7 0.1M223.1 190.3l1.1 -0.3M231.7 181.7l1.1 -0.5M252.3 182.6l-0.5 0.4l-0.1 1.3M275.7 207.7l0.6 -0.5l0.3 -0.6M274.1 160.5l-0.4 -0.6l-1.2 -1.1M233.0 200.2l-0.4 -1.2M250.2 207.7l-1.5 0.2M266.4 173.5l-1.6 0.6l-1.0 -0.1M259.4 156.5l1.5 0.9M275.6 158.9l-0.1 0.7l0.2 0.7M205.1 156.4l-0.4 0.5l-1.0 0.9M267.1 198.6l-0.7 -0.1l-1.5 0.7M223.0 170.2l1.3 0.7M209.5 218.8l-0.9 -0.3M240.6 172.9l-0.3 -0.9M266.2 162.8l0.9 0.3M235.2 214.7l-0.7 0.5l-1.6 0.3M223.8 193.6l1.2 0.5l1.4 -0.4M274.7 156.9l-0.9 -0.8l-0.7 -0.8M201.6 218.9l1.0 -0.6l1.0 -0.6M274.4 166.6l0.9 -1.4l0.8 -1.1M257.7 179.6l1.3 0.2l1.3 -0.3" stroke="rgb(36,205,36)" stroke-width="1.95" stroke-linecap="round" stroke-linejoin="round" fill="none"/><path d="M205.3 210.4l-0.9 0.6M253.7 218.1l-0.8 0.9l-1.1 0.5M276.2 158.4l-0.7 0.7l-0.5 1.4M261.7 175.9l0.5 1.4M276.5 160.0l-1.3 0.9l-0.7 0.5M272.7 173.7l-0.9 -1.0l-0.9 -0.6M217.2 165.6l0.3 0.7M278.4 174.4l0.6 -0.0l1.0 0.5M223.3 182.0l-1.0 0.1M216.1 160.2l-0.9 -1.1l-0.8 -0.6M219.5 199.4l-1.2 0.1M246.5 209.0l-1.3 -0.6M227.6 169.7l1.4 -0.9M281.4 204.8l0.1 0.8l-0.5 1.7M242.7 164.6l0.9 -1.1l0.8 -1.1M265.2 170.1l1.0 0.5M261.9 172.1l0.4 -1.6l0.3 -1.4M265.4 183.9l-0.4 -1.0M222.6 169.2l0.6 1.5l0.9 0.3M239.0 209.8l0.4 1.7M201.6 208.1l-0.3 -0.8M252.8 195.0l-0.5 -0.8M237.2 160.6l-0.1 -1.5M218.5 181.9l1.1 -0.3M265.6 158.0l1.0 1.2l0.1 0.8M238.7 167.9l0.8 0.5l1.5 0.3M200.2 160.7l1.6 -0.3l1.5 -0.7M213.9 180.8l-0.2 1.7l0.3 1.4M226.7 192.9l0.5 -0.7M280.4 218.0l-1.2 -1.1M246.7 191.3l0.3 -1.4l0.5 -0.6M227.0 213.2l0.1 0.9l0.4 0.8M240.9 210.9l0.2 -0.6" stroke="rgb(36,205,36)" stroke-width="2.18" stroke-linecap="round" stroke-linejoin="round" fill="none"/><path d="M217.5 185.9l1.3 -0.8M257.4 193.4l1.5 -0.3l1.3 0.8M231.1 217.3l-0.6 -0.1M201.2 177.3l0.7 0.5M244.1 185.1l0.4 0.9M204.5 198.6l1.2 0.4M244.3 158.1l1.4 -0.9M245.2 170.0l0.9 0.5l1.3 0.1M260.1 163.1l-0.8 -0.2M226.7 167.2l0.5 1.0M205.1 218.7l0.6 -1.6M226.1 185.8l-1.0 -1.3l-0.8 -0.4M222.4 158.5l-0.0 0.6l0.3 0.8M215.0 162.6l-0.3 -1.7l-0.9 -0.8M218.8 206.1l1.0 -0.3l0.9 -1.4M235.6 172.7l1.6 0.5l1.3 0.8M235.5 156.2l-0.1 0.7l0.9 1.4M224.4 181.9l-1.6 -0.5l-1.5 -0.2M229.0 194.8l-0.2 0.6l-0.1 1.0M264.3 189.0l-0.7 1.6l-0.3 0.8M246.4 165.9l-0.7 0.4l-0.4 1.2M202.4 218.3l-0.1 -1.1M244.2 196.6l0.3 -0.8M201.4 171.1l0.7 0.1M222.4 179.6l-1.1 0.9M276.0 156.9l0.1 -0.7M228.7 157.8l0.7 0.0M272.5 184.5l0.1 -1.5M281.3 221.1l0.5 -1.4l-0.3 -1.2M221.3 221.1l0.3 -1.6l0.5 -1.2M232.7 161.3l1.4 0.1l0.5 0.4M273.6 198.1l-0.8 0.4M275.8 159.6l-1.1 -0.8l-0.7 -0.4M209.3 181.9l-0.8 -1.1l-0.5 -0.4M231.7 165.8l0.9 0.3M202.9 194.9l-1.2 0.1M246.5 200.8l1.7 0.4l1.2 0.4M278.4 163.4l-0.8 0.3M280.4 161.0l0.7 -1.0l1.4 -0.2M263.7 181.4l1.2 -0.9" stroke="rgb(39,221,39)" stroke-width="1.72" stroke-linecap="round" stroke-linejoin="round" fill="none"/><path d="M201.9 189.3l-0.7 1.2l-0.4 1.2M210.7 219.8l-1.0 -0.3l-1.2 0.2M226.7 168.9l0.8 1.3M222.2 187.4l-1.1 -0.2M281.0 220.0l0.7 0.9l0.1 1.4M200.8 183.8l-1.4 1.0l-0.7 0.1M223.9 174.3l0.3 -0.6l0.7 -0.6M212.2 182.3l-1.3 0.9l-1.1 0.5M212.1 217.5l0.4 0.9l0.9 1.2M237.0 206.9l-1.1 -0.4l-1.3 -1.1M243.4 198.5l1.7 0.3M250.5 171.4l-0.4 0.6M280.7 207.5l0.6 -0.5M253.2 204.5l-1.0 0.8l-1.5 1.0M252.8 189.1l-0.6 0.2l-1.5 0.3M274.1 203.2l-0.4 0.5M258.2 218.2l0.7 0.0M235.9 180.9l-1.0 0.0l-0.7 0.7M272.2 172.7l0.5 -0.9M236.2 212.6l1.7 0.2M257.7 195.4l0.1 -0.9M203.2 166.1l-1.0 0.1l-1.8 -0.0M251.5 203.4l-0.5 -0.6l0.1 -1.3M256.4 217.0l-1.8 -0.1l-1.2 -0.8M205.4 219.8l-0.7 -0.5M265.4 192.4l-0.9 -0.1l-1.0 -1.0M280.9 158.3l-0.7 -0.6l-0.4 -1.6M206.9 194.7l-0.0 1.3l0.1 1.1M264.5 183.1l-1.1 0.7M203.7 181.3l0.7 0.0l1.0 -0.3M204.8 220.2l0.9 0.1l0.8 0.6M249.0 204.5l0.9 -0.8l0.1 -1.2M280.6 191.1l0.6 1.6M273.5 209.8l1.0 0.5l1.3 1.2M257.5 159.2l1.4 0.8M266.5 215.6l0.8 -1.6l-0.3 -0.8M253.6 177.0l0.3 0.7M277.9 186.6l-0.7 1.6l-0.4 0.8M245.0 170.1l-1.1 0.3M236.9 205.5l1.4 0.6l1.7 -0.1M202.3 181.4l0.2 -0.8l0.0 -1.1M274.9 198.1l-0.4 1.7M222.0 213.3l0.5 0.5M221.1 190.9l-0.2 1.7l0.9 1.2M206.2 171.8l0.8 -1.2M253.5 198.4l1.2 0.1l0.6 0.3M273.2 166.4l0.2 0.7M248.8 205.8l-1.7 -0.3l-0.7 0.5M265.1 162.7l-1.3 -0.4M237.7 164.1l0.6 0.6l1.1 1.0M241.5 156.2l-0.5 1.4M243.9 164.3l0.8 0.5l1.5 0.0M240.9 169.4l0.9 -0.4l0.6 -1.0" stroke="rgb(39,221,39)" stroke-width="1.95" stroke-linecap="round" stroke-linejoin="round" fill="none"/><path d="M229.2 177.0l-1.7 0.5M257.7 162.4l0.3 0.6l0.2 1.5M219.7 191.3l0.1 -1.7M236.3 161.9l0.4 -0.7l0.8 -0.6M267.4 190.8l-1.2 0.7M264.8 165.6l-1.0 -0.3l-1.6 0.3M226.1 172.8l0.1 -1.0l0.4 -0.4M247.2 208.1l-1.1 -1.0l-0.8 -1.5M248.6 168.4l-1.0 -1.1M251.7 208.4l1.6 -0.6l1.1 -1.1M249.0 212.7l-0.2 -1.5l0.7 -1.5M237.0 206.7l-0.9 0.5M257.0 186.2l-0.7 -1.5M248.5 158.0l0.5 -0.8M273.4 179.6l-1.2 -0.6M247.7 164.6l0.9 -0.6M273.7 156.1l0.9 -0.1M280.8 174.4l-0.9 0.3M241.6 165.4l0.3 1.3l0.6 1.0M215.4 208.4l-0.1 -0.6l-0.2 -1.0M199.4 182.8l1.0 -1.1M206.8 161.9l0.4 1.5l0.8 1.0M202.0 167.8l-0.7 0.9M220.9 156.8l1.4 -0.6l1.4 -0.8M243.9 203.5l0.7 -0.7l0.5 -0.6M237.7 167.5l1.6 0.6M202.0 219.4l0.3 -1.3M272.7 191.9l-1.7 -0.4l-0.7 -1.1M257.9 163.1l-0.7 -1.1l-0.1 -0.6M267.4 210.2l0.2 1.8l-0.3 1.4M280.0 173.4l1.1 1.4l0.3 1.1M220.1 176.0l-0.9 0.7l-0.7 1.4M276.2 160.6l-1.1 -1.2l-1.1 -1.0M216.7 208.9l-1.1 -0.6l-0.6 -0.7M254.1 182.6l0.8 -1.5l-0.5 -1.7M270.4 174.2l-0.6 0.6M273.6 176.1l-1.7 0.5M274.3 173.7l1.1 0.9M219.8 170.5l1.1 0.1l1.5 0.1M274.5 212.1l1.7 0.4l1.0 0.9M270.8 189.0l0.5 -0.9M199.7 218.6l-0.8 0.6M251.4 195.2l-0.6 -0.2M228.6 182.1l1.0 0.4M278.9 175.6l-0.1 -0.9M249.8 193.6l1.0 1.1l0.5 0.8M231.6 180.9l0.7 -0.6M241.2 156.8l0.2 -0.8l0.0 -0.9" stroke="rgb(39,221,39)" stroke-width="2.18" stroke-linecap="round" stroke-linejoin="round" fill="none"/><path d="M256.5 193.3l-0.1 1.4l0.2 0.8M255.9 216.7l-0.6 -0.1l-0.9 -0.7M255.7 211.2l-0.6 -0.7M272.9 195.6l-0.1 0.8l0.3 1.3M266.9 191.1l0.6 -1.3l0.1 -0.7M234.0 210.9l-0.5 -0.6M205.0 168.1l1.1 0.7l1.6 0.3M227.4 176.0l-1.3 0.5l-1.0 0.4M242.2 207.9l-0.4 -0.5M210.1 171.6l-0.8 0.4M235.2 201.1l-0.4 -0.6M205.7 157.4l-0.5 0.5l-1.0 0.2M237.7 203.1l0.6 0.5M211.9 206.1l1.4 -0.1l0.7 -0.7M258.9 216.6l-1.2 -0.9l-0.7 -0.2M264.2 210.8l1.2 1.0M252.3 211.2l0.9 1.5M277.8 175.0l-1.1 1.0l-0.9 1.2M227.8 183.3l-1.0 1.4l-0.2 0.9M200.6 165.1l0.7 -1.1l0.2 -0.7M211.8 184.5l1.8 -0.0l0.9 -0.0M258.2 210.5l-1.6 0.3M238.7 156.6l-0.3 -1.7M245.1 157.5l-1.2 0.1l-1.1 -0.8M234.1 204.2l1.7 -0.0M227.0 215.6l-0.9 0.1M243.3 220.7l0.3 1.5l0.1 0.9M276.3 157.7l0.8 0.2M247.2 156.4l-0.2 0.6M276.3 157.0l0.3 -0.5l0.4 -1.7M233.3 171.9l-0.6 0.9l0.0 0.9M225.1 173.4l-1.5 0.5l-1.3 -0.1M279.9 160.6l-0.6 1.6l0.6 1.4M251.1 202.5l1.1 0.9M228.6 212.4l0.7 -0.2l1.5 -0.5M253.9 192.5l-0.6 0.1l-1.6 0.4M218.4 212.4l1.1 1.4l0.6 1.2M267.6 173.8l0.2 -0.7M200.5 167.8l-0.6 1.6l0.2 1.0M253.4 209.4l-0.3 -0.8M225.0 185.0l0.5 0.3l0.9 1.2M262.7 219.5l0.7 0.1M272.1 217.9l0.4 1.7l-0.3 1.5M276.9 199.0l-1.3 -0.3M233.2 200.0l-0.6 0.7M204.3 176.7l-1.0 -0.7M264.8 164.8l0.2 1.2l1.2 1.0" stroke="rgb(42,237,42)" stroke-width="1.72" stroke-linecap="round" stroke-linejoin="round" fill="none"/><path d="M202.4 216.9l0.0 1.6l0.4 1.1M264.1 172.3l-0.3 1.4M199.4 163.5l-1.1 1.4M226.4 173.1l1.7 0.6M207.3 217.2l-0.8 1.0M251.8 206.0l-0.8 0.4M210.1 163.3l0.5 0.3M273.5 184.6l0.1 0.9M237.0 208.4l0.6 -1.5l0.6 -0.4M216.7 159.4l-0.2 1.0l-0.4 0.6M225.7 186.6l-1.2 0.0l-0.8 0.3M279.3 203.3l1.6 0.2l1.0 -0.4M267.0 181.2l0.7 0.1l0.4 0.5M261.8 211.8l0.9 0.7l0.8 -0.0M280.8 158.8l-0.4 1.3M217.9 213.4l-1.1 -1.4M249.2 218.8l0.0 -1.5l0.2 -1.1M269.8 163.5l-0.5 0.3M199.6 199.0l-0.2 -1.6l0.9 -1.4M256.5 185.9l-0.3 -0.6l-1.1 -0.8M230.5 217.0l-0.6 -1.2M215.0 196.9l0.5 -0.8M206.0 204.6l-0.6 0.3l-1.2 0.7M225.7 187.3l-0.0 0.7M271.8 157.9l1.6 -0.3l1.7 -0.5M214.0 219.4l1.6 -0.2M257.2 200.5l-0.7 -0.7M235.1 171.3l1.6 0.5l0.8 0.4M271.4 161.4l-0.5 0.5l-1.5 0.3M233.2 219.0l0.8 1.4l-0.1 1.4M250.3 209.3l1.1 0.2l1.0 -0.3M268.2 189.9l0.2 -0.7M268.5 168.8l1.1 -0.6M253.8 177.4l-0.4 1.5l0.4 0.9M229.0 197.4l-1.2 0.8M240.1 219.1l-0.1 -0.6M202.2 209.2l-0.2 -1.3l-0.2 -1.2M269.3 169.7l0.2 0.6l0.3 1.0M278.6 165.2l0.7 -1.1l1.0 -0.6" stroke="rgb(42,237,42)" stroke-width="1.95" stroke-linecap="round" stroke-linejoin="round" fill="none"/><path d="M229.5 160.2l0.3 1.7M225.1 186.4l-1.1 -0.3M216.9 220.5l-0.3 -1.0l0.1 -1.2M219.4 197.3l-0.2 1.4M220.9 183.0l-0.0 -0.8l0.2 -1.3M223.0 176.1l-0.7 0.5M230.9 201.5l-0.9 -1.0M261.2 171.1l-1.5 -0.0l-0.7 0.3M223.5 173.5l0.1 1.4M246.7 196.8l-1.7 0.2l-0.9 -0.4M239.2 179.1l-1.1 0.3l-0.5 0.5M236.4 167.5l1.4 0.2M245.7 206.5l-0.0 -0.6M268.3 171.7l-1.5 0.4M227.6 182.8l-0.4 1.3l0.1 1.6M273.9 210.4l-0.4 0.7M224.2 171.6l0.6 -0.2M270.2 167.2l-0.4 -1.5l-0.2 -0.7M221.1 197.2l-0.8 -0.9M200.0 177.3l0.8 1.2l0.8 1.2M258.7 183.2l0.7 1.0l0.7 0.6M239.2 180.0l-0.5 0.6l-1.0 0.4M231.1 174.3l0.4 1.1M244.7 172.2l-1.0 0.4l-1.1 -0.3M236.5 192.0l0.7 1.1M269.9 168.4l0.9 1.2l0.7 0.4M208.6 157.1l0.7 -1.5M218.6 218.2l-1.6 0.2M266.1 158.6l-1.0 1.3M269.2 190.7l0.3 0.6l0.4 1.7M216.2 207.4l-0.9 0.0l-1.0 -0.1M244.7 200.8l-0.7 -0.3M273.5 181.2l-0.4 -0.6M219.3 160.6l0.0 -0.8l0.2 -1.2M262.2 181.3l-0.7 -1.4l-0.4 -0.6M203.2 193.4l-0.2 1.0l-0.8 0.6M242.7 166.1l0.0 1.6M275.8 202.2l-1.5 0.8l-0.7 0.5M256.1 207.5l0.2 1.1M214.5 164.6l-1.4 0.8M274.2 178.8l-0.8 0.2l-1.0 0.7M206.4 190.1l-0.8 1.1M206.8 210.6l1.5 0.7M207.0 181.5l1.2 0.0l1.1 -0.9M273.9 192.9l0.8 -1.0M254.3 194.0l-1.2 -0.9l-1.3 -0.3M267.1 204.3l0.6 1.7l-0.4 1.2" stroke="rgb(42,237,42)" stroke-width="2.18" stroke-linecap="round" stroke-linejoin="round" fill="none"/></g></g>
<rect x="271.5" y="216.2" width="5.5" height="1.6" fill="#bbb"/>
<text x="242.65" y="154.40" font-family="Liberation Sans" font-size="5.2" font-weight="bold" text-anchor="middle" fill="#000" >Rosup</text>
<text x="6.00" y="15.50" font-family="Liberation Serif" font-size="14" font-weight="bold" text-anchor="start" fill="#000" >A</text>
<!-- END A -->
<text x="40.50" y="409.80" font-family="Liberation Serif" font-size="12" font-weight="bold" text-anchor="start" fill="#000" >E</text>
<line x1="66.80" y1="421.90" x2="66.80" y2="546.25" stroke="#000" stroke-width="1.5"/>
<line x1="66.05" y1="545.50" x2="191.00" y2="545.50" stroke="#000" stroke-width="1.5"/>
<line x1="61.80" y1="545.50" x2="66.80" y2="545.50" stroke="#000" stroke-width="1.5"/>
<text x="59.60" y="548.74" font-family="Liberation Sans" font-size="9" font-weight="bold" text-anchor="end" fill="#000" >0</text>
<line x1="61.80" y1="504.30" x2="66.80" y2="504.30" stroke="#000" stroke-width="1.5"/>
<text x="59.60" y="507.54" font-family="Liberation Sans" font-size="9" font-weight="bold" text-anchor="end" fill="#000" >10</text>
<line x1="61.80" y1="463.10" x2="66.80" y2="463.10" stroke="#000" stroke-width="1.5"/>
<text x="59.60" y="466.34" font-family="Liberation Sans" font-size="9" font-weight="bold" text-anchor="end" fill="#000" >20</text>
<line x1="61.80" y1="421.90" x2="66.80" y2="421.90" stroke="#000" stroke-width="1.5"/>
<text x="59.60" y="425.14" font-family="Liberation Sans" font-size="9" font-weight="bold" text-anchor="end" fill="#000" >30</text>
<line x1="82.80" y1="545.50" x2="82.80" y2="550.00" stroke="#000" stroke-width="1.5"/>
<line x1="82.80" y1="472.16" x2="82.80" y2="479.99" stroke="#333" stroke-width="1.0"/>
<line x1="79.60" y1="472.16" x2="86.00" y2="472.16" stroke="#333" stroke-width="1.0"/>
<rect x="75.80" y="480.74" width="14.00" height="64.01" fill="#000" stroke="#000" stroke-width="1.5"/>
<line x1="106.00" y1="545.50" x2="106.00" y2="550.00" stroke="#000" stroke-width="1.5"/>
<line x1="106.00" y1="496.06" x2="106.00" y2="502.65" stroke="#333" stroke-width="1.0"/>
<line x1="102.80" y1="496.06" x2="109.20" y2="496.06" stroke="#333" stroke-width="1.0"/>
<rect x="99.00" y="503.40" width="14.00" height="41.35" fill="#9c9c9c" stroke="#000" stroke-width="1.5"/>
<line x1="129.20" y1="545.50" x2="129.20" y2="550.00" stroke="#000" stroke-width="1.5"/>
<line x1="129.20" y1="470.52" x2="129.20" y2="477.93" stroke="#333" stroke-width="1.0"/>
<line x1="126.00" y1="470.52" x2="132.40" y2="470.52" stroke="#333" stroke-width="1.0"/>
<rect x="122.20" y="478.68" width="14.00" height="66.07" fill="#7c7c7c" stroke="#000" stroke-width="1.5"/>
<line x1="152.40" y1="545.50" x2="152.40" y2="550.00" stroke="#000" stroke-width="1.5"/>
<line x1="152.40" y1="474.22" x2="152.40" y2="483.70" stroke="#333" stroke-width="1.0"/>
<line x1="149.20" y1="474.22" x2="155.60" y2="474.22" stroke="#333" stroke-width="1.0"/>
<rect x="145.40" y="484.45" width="14.00" height="60.30" fill="#d6d6d6" stroke="#000" stroke-width="1.5"/>
<line x1="175.60" y1="545.50" x2="175.60" y2="550.00" stroke="#000" stroke-width="1.5"/>
<line x1="175.60" y1="443.32" x2="175.60" y2="456.51" stroke="#333" stroke-width="1.0"/>
<line x1="172.40" y1="443.32" x2="178.80" y2="443.32" stroke="#333" stroke-width="1.0"/>
<rect x="168.60" y="457.26" width="14.00" height="87.49" fill="#5c5c5c" stroke="#000" stroke-width="1.5"/>
<line x1="106.60" y1="410.40" x2="176.00" y2="410.40" stroke="#000" stroke-width="1.6"/>
<line x1="106.60" y1="405.10" x2="106.60" y2="415.70" stroke="#000" stroke-width="1.6"/>
<line x1="176.00" y1="405.10" x2="176.00" y2="415.70" stroke="#000" stroke-width="1.6"/>
<circle cx="135.95" cy="407.00" r="1.2" fill="#111"/>
<circle cx="140.05" cy="407.00" r="1.2" fill="#111"/>
<circle cx="144.15" cy="407.00" r="1.2" fill="#111"/>
<circle cx="148.25" cy="407.00" r="1.2" fill="#111"/>
<line x1="128.60" y1="425.60" x2="176.00" y2="425.60" stroke="#000" stroke-width="1.6"/>
<line x1="128.60" y1="420.30" x2="128.60" y2="430.90" stroke="#000" stroke-width="1.6"/>
<line x1="176.00" y1="420.30" x2="176.00" y2="430.90" stroke="#000" stroke-width="1.6"/>
<circle cx="149.00" cy="422.20" r="1.2" fill="#111"/>
<circle cx="153.10" cy="422.20" r="1.2" fill="#111"/>
<circle cx="157.20" cy="422.20" r="1.2" fill="#111"/>
<line x1="83.20" y1="432.40" x2="106.10" y2="432.40" stroke="#000" stroke-width="1.6"/>
<line x1="83.20" y1="427.10" x2="83.20" y2="437.70" stroke="#000" stroke-width="1.6"/>
<line x1="106.10" y1="427.10" x2="106.10" y2="437.70" stroke="#000" stroke-width="1.6"/>
<circle cx="91.35" cy="429.00" r="1.2" fill="#111"/>
<circle cx="95.45" cy="429.00" r="1.2" fill="#111"/>
<circle cx="99.55" cy="429.00" r="1.2" fill="#111"/>
<line x1="152.90" y1="437.10" x2="175.90" y2="437.10" stroke="#000" stroke-width="1.6"/>
<line x1="152.90" y1="431.80" x2="152.90" y2="442.40" stroke="#000" stroke-width="1.6"/>
<line x1="175.90" y1="431.80" x2="175.90" y2="442.40" stroke="#000" stroke-width="1.6"/>
<circle cx="159.05" cy="433.70" r="1.2" fill="#111"/>
<circle cx="163.15" cy="433.70" r="1.2" fill="#111"/>
<circle cx="167.25" cy="433.70" r="1.2" fill="#111"/>
<circle cx="171.35" cy="433.70" r="1.2" fill="#111"/>
<line x1="106.30" y1="451.20" x2="152.60" y2="451.20" stroke="#000" stroke-width="1.6"/>
<line x1="106.30" y1="445.90" x2="106.30" y2="456.50" stroke="#000" stroke-width="1.6"/>
<line x1="152.60" y1="445.90" x2="152.60" y2="456.50" stroke="#000" stroke-width="1.6"/>
<circle cx="128.20" cy="447.80" r="1.2" fill="#111"/>
<circle cx="132.30" cy="447.80" r="1.2" fill="#111"/>
<line x1="106.30" y1="462.10" x2="129.00" y2="462.10" stroke="#000" stroke-width="1.6"/>
<line x1="106.30" y1="456.80" x2="106.30" y2="467.40" stroke="#000" stroke-width="1.6"/>
<line x1="129.00" y1="456.80" x2="129.00" y2="467.40" stroke="#000" stroke-width="1.6"/>
<circle cx="114.35" cy="458.70" r="1.2" fill="#111"/>
<circle cx="118.45" cy="458.70" r="1.2" fill="#111"/>
<circle cx="122.55" cy="458.70" r="1.2" fill="#111"/>
<text transform="translate(44.80,483.20) rotate(-90)" x="0" y="0" font-family="Liberation Sans" font-weight="bold" font-size="10" text-anchor="middle" textLength="112.2" lengthAdjust="spacingAndGlyphs">SOD activity U/mg prot</text>
<text x="65.00" y="561.80" font-family="Liberation Sans" font-size="8.4" font-weight="normal" text-anchor="end" fill="#111" >H<tspan baseline-shift='-1.6' font-size='5.5'>2</tspan>O<tspan baseline-shift='-1.6' font-size='5.5'>2</tspan></text>
<line x1="80.70" y1="558.20" x2="84.90" y2="558.20" stroke="#777" stroke-width="0.9"/>
<line x1="103.90" y1="558.20" x2="108.10" y2="558.20" stroke="#777" stroke-width="0.9"/>
<line x1="106.00" y1="556.10" x2="106.00" y2="560.30" stroke="#777" stroke-width="0.9"/>
<line x1="127.10" y1="558.20" x2="131.30" y2="558.20" stroke="#777" stroke-width="0.9"/>
<line x1="129.20" y1="556.10" x2="129.20" y2="560.30" stroke="#777" stroke-width="0.9"/>
<line x1="150.30" y1="558.20" x2="154.50" y2="558.20" stroke="#777" stroke-width="0.9"/>
<line x1="152.40" y1="556.10" x2="152.40" y2="560.30" stroke="#777" stroke-width="0.9"/>
<line x1="173.50" y1="558.20" x2="177.70" y2="558.20" stroke="#777" stroke-width="0.9"/>
<line x1="175.60" y1="556.10" x2="175.60" y2="560.30" stroke="#777" stroke-width="0.9"/>
<text x="65.00" y="571.80" font-family="Liberation Sans" font-size="8.4" font-weight="normal" text-anchor="end" fill="#111" >SeMet</text>
<line x1="80.70" y1="568.20" x2="84.90" y2="568.20" stroke="#777" stroke-width="0.9"/>
<line x1="103.90" y1="568.20" x2="108.10" y2="568.20" stroke="#777" stroke-width="0.9"/>
<line x1="127.10" y1="568.20" x2="131.30" y2="568.20" stroke="#777" stroke-width="0.9"/>
<line x1="129.20" y1="566.10" x2="129.20" y2="570.30" stroke="#777" stroke-width="0.9"/>
<line x1="150.30" y1="568.20" x2="154.50" y2="568.20" stroke="#777" stroke-width="0.9"/>
<line x1="173.50" y1="568.20" x2="177.70" y2="568.20" stroke="#777" stroke-width="0.9"/>
<line x1="175.60" y1="566.10" x2="175.60" y2="570.30" stroke="#777" stroke-width="0.9"/>
<text x="65.00" y="581.00" font-family="Liberation Sans" font-size="8.4" font-weight="normal" text-anchor="end" fill="#111" >Allicin</text>
<line x1="80.70" y1="577.30" x2="84.90" y2="577.30" stroke="#777" stroke-width="0.9"/>
<line x1="103.90" y1="577.30" x2="108.10" y2="577.30" stroke="#777" stroke-width="0.9"/>
<line x1="127.10" y1="577.30" x2="131.30" y2="577.30" stroke="#777" stroke-width="0.9"/>
<line x1="150.30" y1="577.30" x2="154.50" y2="577.30" stroke="#777" stroke-width="0.9"/>
<line x1="152.40" y1="575.20" x2="152.40" y2="579.40" stroke="#777" stroke-width="0.9"/>
<line x1="173.50" y1="577.30" x2="177.70" y2="577.30" stroke="#777" stroke-width="0.9"/>
<line x1="175.60" y1="575.20" x2="175.60" y2="579.40" stroke="#777" stroke-width="0.9"/>
<text x="212.00" y="409.40" font-family="Liberation Serif" font-size="13.5" font-weight="bold" text-anchor="start" fill="#000" >F</text>
<line x1="245.00" y1="423.40" x2="245.00" y2="546.55" stroke="#000" stroke-width="1.5"/>
<line x1="244.25" y1="545.80" x2="369.00" y2="545.80" stroke="#000" stroke-width="1.5"/>
<line x1="240.00" y1="545.80" x2="245.00" y2="545.80" stroke="#000" stroke-width="1.5"/>
<text x="237.80" y="549.04" font-family="Liberation Sans" font-size="9" font-weight="bold" text-anchor="end" fill="#000" >0</text>
<line x1="240.00" y1="505.00" x2="245.00" y2="505.00" stroke="#000" stroke-width="1.5"/>
<text x="237.80" y="508.24" font-family="Liberation Sans" font-size="9" font-weight="bold" text-anchor="end" fill="#000" >5</text>
<line x1="240.00" y1="464.20" x2="245.00" y2="464.20" stroke="#000" stroke-width="1.5"/>
<text x="237.80" y="467.44" font-family="Liberation Sans" font-size="9" font-weight="bold" text-anchor="end" fill="#000" >10</text>
<line x1="240.00" y1="423.40" x2="245.00" y2="423.40" stroke="#000" stroke-width="1.5"/>
<text x="237.80" y="426.64" font-family="Liberation Sans" font-size="9" font-weight="bold" text-anchor="end" fill="#000" >15</text>
<line x1="260.10" y1="545.80" x2="260.10" y2="550.30" stroke="#000" stroke-width="1.5"/>
<line x1="260.10" y1="501.16" x2="260.10" y2="503.61" stroke="#333" stroke-width="1.0"/>
<line x1="256.90" y1="501.16" x2="263.30" y2="501.16" stroke="#333" stroke-width="1.0"/>
<rect x="253.10" y="504.36" width="14.00" height="40.69" fill="#000" stroke="#000" stroke-width="1.5"/>
<line x1="283.30" y1="545.80" x2="283.30" y2="550.30" stroke="#000" stroke-width="1.5"/>
<line x1="283.30" y1="437.27" x2="283.30" y2="453.59" stroke="#333" stroke-width="1.0"/>
<line x1="280.10" y1="437.27" x2="286.50" y2="437.27" stroke="#333" stroke-width="1.0"/>
<rect x="276.30" y="454.34" width="14.00" height="90.71" fill="#9c9c9c" stroke="#000" stroke-width="1.5"/>
<line x1="306.50" y1="545.80" x2="306.50" y2="550.30" stroke="#000" stroke-width="1.5"/>
<line x1="306.50" y1="478.40" x2="306.50" y2="487.05" stroke="#333" stroke-width="1.0"/>
<line x1="303.30" y1="478.40" x2="309.70" y2="478.40" stroke="#333" stroke-width="1.0"/>
<rect x="299.50" y="487.80" width="14.00" height="57.25" fill="#7c7c7c" stroke="#000" stroke-width="1.5"/>
<line x1="329.70" y1="545.80" x2="329.70" y2="550.30" stroke="#000" stroke-width="1.5"/>
<line x1="329.70" y1="462.57" x2="329.70" y2="478.40" stroke="#333" stroke-width="1.0"/>
<line x1="326.50" y1="462.57" x2="332.90" y2="462.57" stroke="#333" stroke-width="1.0"/>
<rect x="322.70" y="479.15" width="14.00" height="65.90" fill="#d6d6d6" stroke="#000" stroke-width="1.5"/>
<line x1="352.90" y1="545.80" x2="352.90" y2="550.30" stroke="#000" stroke-width="1.5"/>
<line x1="352.90" y1="496.02" x2="352.90" y2="505.00" stroke="#333" stroke-width="1.0"/>
<line x1="349.70" y1="496.02" x2="356.10" y2="496.02" stroke="#333" stroke-width="1.0"/>
<rect x="345.90" y="505.75" width="14.00" height="39.30" fill="#5c5c5c" stroke="#000" stroke-width="1.5"/>
<line x1="262.60" y1="396.60" x2="282.90" y2="396.60" stroke="#000" stroke-width="1.6"/>
<line x1="262.60" y1="391.30" x2="262.60" y2="401.90" stroke="#000" stroke-width="1.6"/>
<line x1="282.90" y1="391.30" x2="282.90" y2="401.90" stroke="#000" stroke-width="1.6"/>
<circle cx="267.40" cy="393.20" r="1.2" fill="#111"/>
<circle cx="271.50" cy="393.20" r="1.2" fill="#111"/>
<circle cx="275.60" cy="393.20" r="1.2" fill="#111"/>
<circle cx="279.70" cy="393.20" r="1.2" fill="#111"/>
<line x1="282.90" y1="407.80" x2="329.90" y2="407.80" stroke="#000" stroke-width="1.6"/>
<line x1="282.90" y1="402.50" x2="282.90" y2="413.10" stroke="#000" stroke-width="1.6"/>
<line x1="329.90" y1="402.50" x2="329.90" y2="413.10" stroke="#000" stroke-width="1.6"/>
<circle cx="305.15" cy="404.40" r="1.2" fill="#111"/>
<circle cx="309.25" cy="404.40" r="1.2" fill="#111"/>
<line x1="282.90" y1="419.60" x2="306.60" y2="419.60" stroke="#000" stroke-width="1.6"/>
<line x1="282.90" y1="414.30" x2="282.90" y2="424.90" stroke="#000" stroke-width="1.6"/>
<line x1="306.60" y1="414.30" x2="306.60" y2="424.90" stroke="#000" stroke-width="1.6"/>
<circle cx="291.45" cy="416.20" r="1.2" fill="#111"/>
<circle cx="295.55" cy="416.20" r="1.2" fill="#111"/>
<circle cx="299.65" cy="416.20" r="1.2" fill="#111"/>
<line x1="282.90" y1="431.20" x2="351.60" y2="431.20" stroke="#000" stroke-width="1.6"/>
<line x1="282.90" y1="425.90" x2="282.90" y2="436.50" stroke="#000" stroke-width="1.6"/>
<line x1="351.60" y1="425.90" x2="351.60" y2="436.50" stroke="#000" stroke-width="1.6"/>
<circle cx="311.90" cy="427.80" r="1.2" fill="#111"/>
<circle cx="316.00" cy="427.80" r="1.2" fill="#111"/>
<circle cx="320.10" cy="427.80" r="1.2" fill="#111"/>
<circle cx="324.20" cy="427.80" r="1.2" fill="#111"/>
<line x1="306.20" y1="444.20" x2="351.60" y2="444.20" stroke="#000" stroke-width="1.6"/>
<line x1="306.20" y1="438.90" x2="306.20" y2="449.50" stroke="#000" stroke-width="1.6"/>
<line x1="351.60" y1="438.90" x2="351.60" y2="449.50" stroke="#000" stroke-width="1.6"/>
<circle cx="329.70" cy="440.80" r="1.2" fill="#111"/>
<line x1="329.60" y1="455.60" x2="351.60" y2="455.60" stroke="#000" stroke-width="1.6"/>
<line x1="329.60" y1="450.30" x2="329.60" y2="460.90" stroke="#000" stroke-width="1.6"/>
<line x1="351.60" y1="450.30" x2="351.60" y2="460.90" stroke="#000" stroke-width="1.6"/>
<circle cx="339.35" cy="452.20" r="1.2" fill="#111"/>
<circle cx="343.45" cy="452.20" r="1.2" fill="#111"/>
<text transform="translate(223.70,480.80) rotate(-90)" x="0" y="0" font-family="Liberation Sans" font-weight="bold" font-size="10" text-anchor="middle" textLength="124.5" lengthAdjust="spacingAndGlyphs">MDA content nmol/mg prot</text>
<text x="243.30" y="560.40" font-family="Liberation Sans" font-size="8.4" font-weight="normal" text-anchor="end" fill="#111" >H<tspan baseline-shift='-1.6' font-size='5.5'>2</tspan>O<tspan baseline-shift='-1.6' font-size='5.5'>2</tspan></text>
<line x1="258.00" y1="558.20" x2="262.20" y2="558.20" stroke="#777" stroke-width="0.9"/>
<line x1="281.20" y1="558.20" x2="285.40" y2="558.20" stroke="#777" stroke-width="0.9"/>
<line x1="283.30" y1="556.10" x2="283.30" y2="560.30" stroke="#777" stroke-width="0.9"/>
<line x1="304.40" y1="558.20" x2="308.60" y2="558.20" stroke="#777" stroke-width="0.9"/>
<line x1="306.50" y1="556.10" x2="306.50" y2="560.30" stroke="#777" stroke-width="0.9"/>
<line x1="327.60" y1="558.20" x2="331.80" y2="558.20" stroke="#777" stroke-width="0.9"/>
<line x1="329.70" y1="556.10" x2="329.70" y2="560.30" stroke="#777" stroke-width="0.9"/>
<line x1="350.80" y1="558.20" x2="355.00" y2="558.20" stroke="#777" stroke-width="0.9"/>
<line x1="352.90" y1="556.10" x2="352.90" y2="560.30" stroke="#777" stroke-width="0.9"/>
<text x="243.30" y="570.00" font-family="Liberation Sans" font-size="8.4" font-weight="normal" text-anchor="end" fill="#111" >SeMet</text>
<line x1="258.00" y1="568.20" x2="262.20" y2="568.20" stroke="#777" stroke-width="0.9"/>
<line x1="281.20" y1="568.20" x2="285.40" y2="568.20" stroke="#777" stroke-width="0.9"/>
<line x1="304.40" y1="568.20" x2="308.60" y2="568.20" stroke="#777" stroke-width="0.9"/>
<line x1="306.50" y1="566.10" x2="306.50" y2="570.30" stroke="#777" stroke-width="0.9"/>
<line x1="327.60" y1="568.20" x2="331.80" y2="568.20" stroke="#777" stroke-width="0.9"/>
<line x1="350.80" y1="568.20" x2="355.00" y2="568.20" stroke="#777" stroke-width="0.9"/>
<line x1="352.90" y1="566.10" x2="352.90" y2="570.30" stroke="#777" stroke-width="0.9"/>
<text x="243.30" y="579.10" font-family="Liberation Sans" font-size="8.4" font-weight="normal" text-anchor="end" fill="#111" >Allicin</text>
<line x1="258.00" y1="577.80" x2="262.20" y2="577.80" stroke="#777" stroke-width="0.9"/>
<line x1="281.20" y1="577.80" x2="285.40" y2="577.80" stroke="#777" stroke-width="0.9"/>
<line x1="304.40" y1="577.80" x2="308.60" y2="577.80" stroke="#777" stroke-width="0.9"/>
<line x1="327.60" y1="577.80" x2="331.80" y2="577.80" stroke="#777" stroke-width="0.9"/>
<line x1="329.70" y1="575.70" x2="329.70" y2="579.90" stroke="#777" stroke-width="0.9"/>
<line x1="350.80" y1="577.80" x2="355.00" y2="577.80" stroke="#777" stroke-width="0.9"/>
<line x1="352.90" y1="575.70" x2="352.90" y2="579.90" stroke="#777" stroke-width="0.9"/>
<text x="390.00" y="409.50" font-family="Liberation Serif" font-size="12" font-weight="bold" text-anchor="start" fill="#000" >G</text>
<line x1="417.10" y1="421.90" x2="417.10" y2="545.35" stroke="#000" stroke-width="1.5"/>
<line x1="416.35" y1="544.60" x2="546.70" y2="544.60" stroke="#000" stroke-width="1.5"/>
<line x1="412.10" y1="544.60" x2="417.10" y2="544.60" stroke="#000" stroke-width="1.5"/>
<text x="409.90" y="547.84" font-family="Liberation Sans" font-size="9" font-weight="bold" text-anchor="end" fill="#000" >0.0</text>
<line x1="412.10" y1="503.70" x2="417.10" y2="503.70" stroke="#000" stroke-width="1.5"/>
<text x="409.90" y="506.94" font-family="Liberation Sans" font-size="9" font-weight="bold" text-anchor="end" fill="#000" >0.5</text>
<line x1="412.10" y1="462.80" x2="417.10" y2="462.80" stroke="#000" stroke-width="1.5"/>
<text x="409.90" y="466.04" font-family="Liberation Sans" font-size="9" font-weight="bold" text-anchor="end" fill="#000" >1.0</text>
<line x1="412.10" y1="421.90" x2="417.10" y2="421.90" stroke="#000" stroke-width="1.5"/>
<text x="409.90" y="425.14" font-family="Liberation Sans" font-size="9" font-weight="bold" text-anchor="end" fill="#000" >1.5</text>
<line x1="432.20" y1="544.60" x2="432.20" y2="549.10" stroke="#000" stroke-width="1.5"/>
<line x1="432.20" y1="497.97" x2="432.20" y2="510.24" stroke="#333" stroke-width="1.0"/>
<line x1="429.00" y1="497.97" x2="435.40" y2="497.97" stroke="#333" stroke-width="1.0"/>
<rect x="425.20" y="510.99" width="14.00" height="32.86" fill="#000" stroke="#000" stroke-width="1.5"/>
<line x1="455.10" y1="544.60" x2="455.10" y2="549.10" stroke="#000" stroke-width="1.5"/>
<line x1="455.10" y1="444.80" x2="455.10" y2="463.62" stroke="#333" stroke-width="1.0"/>
<line x1="451.90" y1="444.80" x2="458.30" y2="444.80" stroke="#333" stroke-width="1.0"/>
<rect x="448.10" y="464.37" width="14.00" height="79.48" fill="#9c9c9c" stroke="#000" stroke-width="1.5"/>
<line x1="478.00" y1="544.60" x2="478.00" y2="549.10" stroke="#000" stroke-width="1.5"/>
<line x1="478.00" y1="478.34" x2="478.00" y2="493.48" stroke="#333" stroke-width="1.0"/>
<line x1="474.80" y1="478.34" x2="481.20" y2="478.34" stroke="#333" stroke-width="1.0"/>
<rect x="471.00" y="494.23" width="14.00" height="49.62" fill="#7c7c7c" stroke="#000" stroke-width="1.5"/>
<line x1="500.90" y1="544.60" x2="500.90" y2="549.10" stroke="#000" stroke-width="1.5"/>
<line x1="500.90" y1="456.26" x2="500.90" y2="475.48" stroke="#333" stroke-width="1.0"/>
<line x1="497.70" y1="456.26" x2="504.10" y2="456.26" stroke="#333" stroke-width="1.0"/>
<rect x="493.90" y="476.23" width="14.00" height="67.62" fill="#d6d6d6" stroke="#000" stroke-width="1.5"/>
<line x1="523.80" y1="544.60" x2="523.80" y2="549.10" stroke="#000" stroke-width="1.5"/>
<line x1="523.80" y1="497.16" x2="523.80" y2="517.61" stroke="#333" stroke-width="1.0"/>
<line x1="520.60" y1="497.16" x2="527.00" y2="497.16" stroke="#333" stroke-width="1.0"/>
<rect x="516.80" y="518.36" width="14.00" height="25.49" fill="#5c5c5c" stroke="#000" stroke-width="1.5"/>
<line x1="434.60" y1="401.60" x2="455.00" y2="401.60" stroke="#000" stroke-width="1.6"/>
<line x1="434.60" y1="396.30" x2="434.60" y2="406.90" stroke="#000" stroke-width="1.6"/>
<line x1="455.00" y1="396.30" x2="455.00" y2="406.90" stroke="#000" stroke-width="1.6"/>
<circle cx="443.55" cy="398.20" r="1.2" fill="#111"/>
<circle cx="447.65" cy="398.20" r="1.2" fill="#111"/>
<line x1="455.00" y1="412.60" x2="501.40" y2="412.60" stroke="#000" stroke-width="1.6"/>
<line x1="455.00" y1="407.30" x2="455.00" y2="417.90" stroke="#000" stroke-width="1.6"/>
<line x1="501.40" y1="407.30" x2="501.40" y2="417.90" stroke="#000" stroke-width="1.6"/>
<text x="477.40" y="410.60" font-family="Liberation Sans" font-size="10" font-weight="normal" text-anchor="middle" fill="#000" >ns</text>
<line x1="455.00" y1="422.00" x2="478.60" y2="422.00" stroke="#000" stroke-width="1.6"/>
<line x1="455.00" y1="416.70" x2="455.00" y2="427.30" stroke="#000" stroke-width="1.6"/>
<line x1="478.60" y1="416.70" x2="478.60" y2="427.30" stroke="#000" stroke-width="1.6"/>
<text x="466.00" y="420.00" font-family="Liberation Sans" font-size="10" font-weight="normal" text-anchor="middle" fill="#000" >ns</text>
<line x1="455.00" y1="431.40" x2="523.40" y2="431.40" stroke="#000" stroke-width="1.6"/>
<line x1="455.00" y1="426.10" x2="455.00" y2="436.70" stroke="#000" stroke-width="1.6"/>
<line x1="523.40" y1="426.10" x2="523.40" y2="436.70" stroke="#000" stroke-width="1.6"/>
<circle cx="487.95" cy="428.00" r="1.2" fill="#111"/>
<circle cx="492.05" cy="428.00" r="1.2" fill="#111"/>
<line x1="478.00" y1="442.40" x2="523.40" y2="442.40" stroke="#000" stroke-width="1.6"/>
<line x1="478.00" y1="437.10" x2="478.00" y2="447.70" stroke="#000" stroke-width="1.6"/>
<line x1="523.40" y1="437.10" x2="523.40" y2="447.70" stroke="#000" stroke-width="1.6"/>
<text x="499.90" y="440.40" font-family="Liberation Sans" font-size="10" font-weight="normal" text-anchor="middle" fill="#000" >ns</text>
<line x1="502.00" y1="449.40" x2="523.40" y2="449.40" stroke="#000" stroke-width="1.6"/>
<line x1="502.00" y1="444.10" x2="502.00" y2="454.70" stroke="#000" stroke-width="1.6"/>
<line x1="523.40" y1="444.10" x2="523.40" y2="454.70" stroke="#000" stroke-width="1.6"/>
<circle cx="513.50" cy="446.00" r="1.2" fill="#111"/>
<text transform="translate(392.90,480.30) rotate(-90)" x="0" y="0" font-family="Liberation Sans" font-weight="bold" font-size="10" text-anchor="middle" textLength="123.5" lengthAdjust="spacingAndGlyphs">NO content (nmol/mg prot)</text>
<text x="414.00" y="563.60" font-family="Liberation Sans" font-size="8.4" font-weight="normal" text-anchor="end" fill="#111" >H<tspan baseline-shift='-1.6' font-size='5.5'>2</tspan>O<tspan baseline-shift='-1.6' font-size='5.5'>2</tspan></text>
<line x1="430.10" y1="558.20" x2="434.30" y2="558.20" stroke="#777" stroke-width="0.9"/>
<line x1="453.00" y1="558.20" x2="457.20" y2="558.20" stroke="#777" stroke-width="0.9"/>
<line x1="455.10" y1="556.10" x2="455.10" y2="560.30" stroke="#777" stroke-width="0.9"/>
<line x1="475.90" y1="558.20" x2="480.10" y2="558.20" stroke="#777" stroke-width="0.9"/>
<line x1="478.00" y1="556.10" x2="478.00" y2="560.30" stroke="#777" stroke-width="0.9"/>
<line x1="498.80" y1="558.20" x2="503.00" y2="558.20" stroke="#777" stroke-width="0.9"/>
<line x1="500.90" y1="556.10" x2="500.90" y2="560.30" stroke="#777" stroke-width="0.9"/>
<line x1="521.70" y1="558.20" x2="525.90" y2="558.20" stroke="#777" stroke-width="0.9"/>
<line x1="523.80" y1="556.10" x2="523.80" y2="560.30" stroke="#777" stroke-width="0.9"/>
<text x="414.00" y="573.00" font-family="Liberation Sans" font-size="8.4" font-weight="normal" text-anchor="end" fill="#111" >SeMet</text>
<line x1="430.10" y1="568.20" x2="434.30" y2="568.20" stroke="#777" stroke-width="0.9"/>
<line x1="453.00" y1="568.20" x2="457.20" y2="568.20" stroke="#777" stroke-width="0.9"/>
<line x1="475.90" y1="568.20" x2="480.10" y2="568.20" stroke="#777" stroke-width="0.9"/>
<line x1="478.00" y1="566.10" x2="478.00" y2="570.30" stroke="#777" stroke-width="0.9"/>
<line x1="498.80" y1="568.20" x2="503.00" y2="568.20" stroke="#777" stroke-width="0.9"/>
<line x1="521.70" y1="568.20" x2="525.90" y2="568.20" stroke="#777" stroke-width="0.9"/>
<line x1="523.80" y1="566.10" x2="523.80" y2="570.30" stroke="#777" stroke-width="0.9"/>
<text x="414.00" y="582.70" font-family="Liberation Sans" font-size="8.4" font-weight="normal" text-anchor="end" fill="#111" >Allicin</text>
<line x1="430.10" y1="577.30" x2="434.30" y2="577.30" stroke="#777" stroke-width="0.9"/>
<line x1="453.00" y1="577.30" x2="457.20" y2="577.30" stroke="#777" stroke-width="0.9"/>
<line x1="475.90" y1="577.30" x2="480.10" y2="577.30" stroke="#777" stroke-width="0.9"/>
<line x1="498.80" y1="577.30" x2="503.00" y2="577.30" stroke="#777" stroke-width="0.9"/>
<line x1="500.90" y1="575.20" x2="500.90" y2="579.40" stroke="#777" stroke-width="0.9"/>
<line x1="521.70" y1="577.30" x2="525.90" y2="577.30" stroke="#777" stroke-width="0.9"/>
<line x1="523.80" y1="575.20" x2="523.80" y2="579.40" stroke="#777" stroke-width="0.9"/>
<text x="40.50" y="608.30" font-family="Liberation Serif" font-size="13" font-weight="bold" text-anchor="start" fill="#000" >H</text>
<line x1="68.00" y1="624.22" x2="68.00" y2="748.65" stroke="#000" stroke-width="1.5"/>
<line x1="67.25" y1="747.90" x2="193.00" y2="747.90" stroke="#000" stroke-width="1.5"/>
<line x1="63.00" y1="747.90" x2="68.00" y2="747.90" stroke="#000" stroke-width="1.5"/>
<text x="60.80" y="751.14" font-family="Liberation Sans" font-size="9" font-weight="bold" text-anchor="end" fill="#000" >0</text>
<line x1="63.00" y1="716.98" x2="68.00" y2="716.98" stroke="#000" stroke-width="1.5"/>
<text x="60.80" y="720.22" font-family="Liberation Sans" font-size="9" font-weight="bold" text-anchor="end" fill="#000" >20</text>
<line x1="63.00" y1="686.06" x2="68.00" y2="686.06" stroke="#000" stroke-width="1.5"/>
<text x="60.80" y="689.30" font-family="Liberation Sans" font-size="9" font-weight="bold" text-anchor="end" fill="#000" >40</text>
<line x1="63.00" y1="655.14" x2="68.00" y2="655.14" stroke="#000" stroke-width="1.5"/>
<text x="60.80" y="658.38" font-family="Liberation Sans" font-size="9" font-weight="bold" text-anchor="end" fill="#000" >60</text>
<line x1="63.00" y1="624.22" x2="68.00" y2="624.22" stroke="#000" stroke-width="1.5"/>
<text x="60.80" y="627.46" font-family="Liberation Sans" font-size="9" font-weight="bold" text-anchor="end" fill="#000" >80</text>
<line x1="83.90" y1="747.90" x2="83.90" y2="752.40" stroke="#000" stroke-width="1.5"/>
<line x1="83.90" y1="674.31" x2="83.90" y2="676.78" stroke="#333" stroke-width="1.0"/>
<line x1="80.70" y1="674.31" x2="87.10" y2="674.31" stroke="#333" stroke-width="1.0"/>
<rect x="76.90" y="677.53" width="14.00" height="69.62" fill="#000" stroke="#000" stroke-width="1.5"/>
<line x1="107.15" y1="747.90" x2="107.15" y2="752.40" stroke="#000" stroke-width="1.5"/>
<line x1="107.15" y1="717.44" x2="107.15" y2="719.92" stroke="#333" stroke-width="1.0"/>
<line x1="103.95" y1="717.44" x2="110.35" y2="717.44" stroke="#333" stroke-width="1.0"/>
<rect x="100.15" y="720.67" width="14.00" height="26.48" fill="#9c9c9c" stroke="#000" stroke-width="1.5"/>
<line x1="130.40" y1="747.90" x2="130.40" y2="752.40" stroke="#000" stroke-width="1.5"/>
<line x1="130.40" y1="692.24" x2="130.40" y2="696.42" stroke="#333" stroke-width="1.0"/>
<line x1="127.20" y1="692.24" x2="133.60" y2="692.24" stroke="#333" stroke-width="1.0"/>
<rect x="123.40" y="697.17" width="14.00" height="49.98" fill="#7c7c7c" stroke="#000" stroke-width="1.5"/>
<line x1="153.65" y1="747.90" x2="153.65" y2="752.40" stroke="#000" stroke-width="1.5"/>
<line x1="153.65" y1="682.66" x2="153.65" y2="687.14" stroke="#333" stroke-width="1.0"/>
<line x1="150.45" y1="682.66" x2="156.85" y2="682.66" stroke="#333" stroke-width="1.0"/>
<rect x="146.65" y="687.89" width="14.00" height="59.26" fill="#d6d6d6" stroke="#000" stroke-width="1.5"/>
<line x1="176.90" y1="747.90" x2="176.90" y2="752.40" stroke="#000" stroke-width="1.5"/>
<line x1="176.90" y1="640.45" x2="176.90" y2="654.37" stroke="#333" stroke-width="1.0"/>
<line x1="173.70" y1="640.45" x2="180.10" y2="640.45" stroke="#333" stroke-width="1.0"/>
<rect x="169.90" y="655.12" width="14.00" height="92.03" fill="#5c5c5c" stroke="#000" stroke-width="1.5"/>
<line x1="108.00" y1="609.40" x2="177.00" y2="609.40" stroke="#000" stroke-width="1.6"/>
<line x1="108.00" y1="604.10" x2="108.00" y2="614.70" stroke="#000" stroke-width="1.6"/>
<line x1="177.00" y1="604.10" x2="177.00" y2="614.70" stroke="#000" stroke-width="1.6"/>
<circle cx="137.15" cy="606.00" r="1.2" fill="#111"/>
<circle cx="141.25" cy="606.00" r="1.2" fill="#111"/>
<circle cx="145.35" cy="606.00" r="1.2" fill="#111"/>
<circle cx="149.45" cy="606.00" r="1.2" fill="#111"/>
<line x1="131.00" y1="622.40" x2="177.00" y2="622.40" stroke="#000" stroke-width="1.6"/>
<line x1="131.00" y1="617.10" x2="131.00" y2="627.70" stroke="#000" stroke-width="1.6"/>
<line x1="177.00" y1="617.10" x2="177.00" y2="627.70" stroke="#000" stroke-width="1.6"/>
<circle cx="148.65" cy="619.00" r="1.2" fill="#111"/>
<circle cx="152.75" cy="619.00" r="1.2" fill="#111"/>
<circle cx="156.85" cy="619.00" r="1.2" fill="#111"/>
<circle cx="160.95" cy="619.00" r="1.2" fill="#111"/>
<line x1="155.00" y1="634.00" x2="177.00" y2="634.00" stroke="#000" stroke-width="1.6"/>
<line x1="155.00" y1="628.70" x2="155.00" y2="639.30" stroke="#000" stroke-width="1.6"/>
<line x1="177.00" y1="628.70" x2="177.00" y2="639.30" stroke="#000" stroke-width="1.6"/>
<circle cx="162.70" cy="630.60" r="1.2" fill="#111"/>
<circle cx="166.80" cy="630.60" r="1.2" fill="#111"/>
<circle cx="170.90" cy="630.60" r="1.2" fill="#111"/>
<line x1="84.00" y1="663.00" x2="106.60" y2="663.00" stroke="#000" stroke-width="1.6"/>
<line x1="84.00" y1="657.70" x2="84.00" y2="668.30" stroke="#000" stroke-width="1.6"/>
<line x1="106.60" y1="657.70" x2="106.60" y2="668.30" stroke="#000" stroke-width="1.6"/>
<circle cx="89.95" cy="659.60" r="1.2" fill="#111"/>
<circle cx="94.05" cy="659.60" r="1.2" fill="#111"/>
<circle cx="98.15" cy="659.60" r="1.2" fill="#111"/>
<circle cx="102.25" cy="659.60" r="1.2" fill="#111"/>
<line x1="106.60" y1="673.00" x2="153.60" y2="673.00" stroke="#000" stroke-width="1.6"/>
<line x1="106.60" y1="667.70" x2="106.60" y2="678.30" stroke="#000" stroke-width="1.6"/>
<line x1="153.60" y1="667.70" x2="153.60" y2="678.30" stroke="#000" stroke-width="1.6"/>
<circle cx="126.80" cy="669.60" r="1.2" fill="#111"/>
<circle cx="130.90" cy="669.60" r="1.2" fill="#111"/>
<circle cx="135.00" cy="669.60" r="1.2" fill="#111"/>
<line x1="106.60" y1="684.40" x2="130.60" y2="684.40" stroke="#000" stroke-width="1.6"/>
<line x1="106.60" y1="679.10" x2="106.60" y2="689.70" stroke="#000" stroke-width="1.6"/>
<line x1="130.60" y1="679.10" x2="130.60" y2="689.70" stroke="#000" stroke-width="1.6"/>
<circle cx="117.35" cy="681.00" r="1.2" fill="#111"/>
<circle cx="121.45" cy="681.00" r="1.2" fill="#111"/>
<text transform="translate(46.20,687.10) rotate(-90)" x="0" y="0" font-family="Liberation Sans" font-weight="bold" font-size="10" text-anchor="middle" textLength="92.9" lengthAdjust="spacingAndGlyphs">GSH ( μg/mg prot)</text>
<text x="66.30" y="763.70" font-family="Liberation Sans" font-size="8.4" font-weight="normal" text-anchor="end" fill="#111" >H<tspan baseline-shift='-1.6' font-size='5.5'>2</tspan>O<tspan baseline-shift='-1.6' font-size='5.5'>2</tspan></text>
<line x1="81.80" y1="760.80" x2="86.00" y2="760.80" stroke="#777" stroke-width="0.9"/>
<line x1="105.05" y1="760.80" x2="109.25" y2="760.80" stroke="#777" stroke-width="0.9"/>
<line x1="107.15" y1="758.70" x2="107.15" y2="762.90" stroke="#777" stroke-width="0.9"/>
<line x1="128.30" y1="760.80" x2="132.50" y2="760.80" stroke="#777" stroke-width="0.9"/>
<line x1="130.40" y1="758.70" x2="130.40" y2="762.90" stroke="#777" stroke-width="0.9"/>
<line x1="151.55" y1="760.80" x2="155.75" y2="760.80" stroke="#777" stroke-width="0.9"/>
<line x1="153.65" y1="758.70" x2="153.65" y2="762.90" stroke="#777" stroke-width="0.9"/>
<line x1="174.80" y1="760.80" x2="179.00" y2="760.80" stroke="#777" stroke-width="0.9"/>
<line x1="176.90" y1="758.70" x2="176.90" y2="762.90" stroke="#777" stroke-width="0.9"/>
<text x="66.30" y="772.80" font-family="Liberation Sans" font-size="8.4" font-weight="normal" text-anchor="end" fill="#111" >SeMet</text>
<line x1="81.80" y1="769.90" x2="86.00" y2="769.90" stroke="#777" stroke-width="0.9"/>
<line x1="105.05" y1="769.90" x2="109.25" y2="769.90" stroke="#777" stroke-width="0.9"/>
<line x1="128.30" y1="769.90" x2="132.50" y2="769.90" stroke="#777" stroke-width="0.9"/>
<line x1="130.40" y1="767.80" x2="130.40" y2="772.00" stroke="#777" stroke-width="0.9"/>
<line x1="151.55" y1="769.90" x2="155.75" y2="769.90" stroke="#777" stroke-width="0.9"/>
<line x1="174.80" y1="769.90" x2="179.00" y2="769.90" stroke="#777" stroke-width="0.9"/>
<line x1="176.90" y1="767.80" x2="176.90" y2="772.00" stroke="#777" stroke-width="0.9"/>
<text x="66.30" y="782.60" font-family="Liberation Sans" font-size="8.4" font-weight="normal" text-anchor="end" fill="#111" >Allicin</text>
<line x1="81.80" y1="779.50" x2="86.00" y2="779.50" stroke="#777" stroke-width="0.9"/>
<line x1="105.05" y1="779.50" x2="109.25" y2="779.50" stroke="#777" stroke-width="0.9"/>
<line x1="128.30" y1="779.50" x2="132.50" y2="779.50" stroke="#777" stroke-width="0.9"/>
<line x1="151.55" y1="779.50" x2="155.75" y2="779.50" stroke="#777" stroke-width="0.9"/>
<line x1="153.65" y1="777.40" x2="153.65" y2="781.60" stroke="#777" stroke-width="0.9"/>
<line x1="174.80" y1="779.50" x2="179.00" y2="779.50" stroke="#777" stroke-width="0.9"/>
<line x1="176.90" y1="777.40" x2="176.90" y2="781.60" stroke="#777" stroke-width="0.9"/>
<text x="217.00" y="608.30" font-family="Liberation Serif" font-size="12" font-weight="bold" text-anchor="start" fill="#000" >I</text>
<line x1="244.80" y1="624.20" x2="244.80" y2="748.95" stroke="#000" stroke-width="1.5"/>
<line x1="244.05" y1="748.20" x2="368.60" y2="748.20" stroke="#000" stroke-width="1.5"/>
<line x1="239.80" y1="748.20" x2="244.80" y2="748.20" stroke="#000" stroke-width="1.5"/>
<text x="237.60" y="751.44" font-family="Liberation Sans" font-size="9" font-weight="bold" text-anchor="end" fill="#000" >0</text>
<line x1="239.80" y1="717.20" x2="244.80" y2="717.20" stroke="#000" stroke-width="1.5"/>
<text x="237.60" y="720.44" font-family="Liberation Sans" font-size="9" font-weight="bold" text-anchor="end" fill="#000" >5</text>
<line x1="239.80" y1="686.20" x2="244.80" y2="686.20" stroke="#000" stroke-width="1.5"/>
<text x="237.60" y="689.44" font-family="Liberation Sans" font-size="9" font-weight="bold" text-anchor="end" fill="#000" >10</text>
<line x1="239.80" y1="655.20" x2="244.80" y2="655.20" stroke="#000" stroke-width="1.5"/>
<text x="237.60" y="658.44" font-family="Liberation Sans" font-size="9" font-weight="bold" text-anchor="end" fill="#000" >15</text>
<line x1="239.80" y1="624.20" x2="244.80" y2="624.20" stroke="#000" stroke-width="1.5"/>
<text x="237.60" y="627.44" font-family="Liberation Sans" font-size="9" font-weight="bold" text-anchor="end" fill="#000" >20</text>
<line x1="260.50" y1="748.20" x2="260.50" y2="752.70" stroke="#000" stroke-width="1.5"/>
<line x1="260.50" y1="718.44" x2="260.50" y2="720.61" stroke="#333" stroke-width="1.0"/>
<line x1="257.30" y1="718.44" x2="263.70" y2="718.44" stroke="#333" stroke-width="1.0"/>
<rect x="253.50" y="721.36" width="14.00" height="26.09" fill="#000" stroke="#000" stroke-width="1.5"/>
<line x1="283.55" y1="748.20" x2="283.55" y2="752.70" stroke="#000" stroke-width="1.5"/>
<line x1="283.55" y1="632.26" x2="283.55" y2="643.42" stroke="#333" stroke-width="1.0"/>
<line x1="280.35" y1="632.26" x2="286.75" y2="632.26" stroke="#333" stroke-width="1.0"/>
<rect x="276.55" y="644.17" width="14.00" height="103.28" fill="#9c9c9c" stroke="#000" stroke-width="1.5"/>
<line x1="306.60" y1="748.20" x2="306.60" y2="752.70" stroke="#000" stroke-width="1.5"/>
<line x1="306.60" y1="694.26" x2="306.60" y2="707.90" stroke="#333" stroke-width="1.0"/>
<line x1="303.40" y1="694.26" x2="309.80" y2="694.26" stroke="#333" stroke-width="1.0"/>
<rect x="299.60" y="708.65" width="14.00" height="38.80" fill="#7c7c7c" stroke="#000" stroke-width="1.5"/>
<line x1="329.65" y1="748.20" x2="329.65" y2="752.70" stroke="#000" stroke-width="1.5"/>
<line x1="329.65" y1="680.00" x2="329.65" y2="691.16" stroke="#333" stroke-width="1.0"/>
<line x1="326.45" y1="680.00" x2="332.85" y2="680.00" stroke="#333" stroke-width="1.0"/>
<rect x="322.65" y="691.91" width="14.00" height="55.54" fill="#d6d6d6" stroke="#000" stroke-width="1.5"/>
<line x1="352.70" y1="748.20" x2="352.70" y2="752.70" stroke="#000" stroke-width="1.5"/>
<line x1="352.70" y1="719.06" x2="352.70" y2="725.88" stroke="#333" stroke-width="1.0"/>
<line x1="349.50" y1="719.06" x2="355.90" y2="719.06" stroke="#333" stroke-width="1.0"/>
<rect x="345.70" y="726.63" width="14.00" height="20.82" fill="#5c5c5c" stroke="#000" stroke-width="1.5"/>
<line x1="261.00" y1="593.00" x2="283.00" y2="593.00" stroke="#000" stroke-width="1.6"/>
<line x1="261.00" y1="587.70" x2="261.00" y2="598.30" stroke="#000" stroke-width="1.6"/>
<line x1="283.00" y1="587.70" x2="283.00" y2="598.30" stroke="#000" stroke-width="1.6"/>
<circle cx="266.65" cy="589.60" r="1.2" fill="#111"/>
<circle cx="270.75" cy="589.60" r="1.2" fill="#111"/>
<circle cx="274.85" cy="589.60" r="1.2" fill="#111"/>
<circle cx="278.95" cy="589.60" r="1.2" fill="#111"/>
<line x1="283.00" y1="603.40" x2="352.00" y2="603.40" stroke="#000" stroke-width="1.6"/>
<line x1="283.00" y1="598.10" x2="283.00" y2="608.70" stroke="#000" stroke-width="1.6"/>
<line x1="352.00" y1="598.10" x2="352.00" y2="608.70" stroke="#000" stroke-width="1.6"/>
<circle cx="312.15" cy="600.00" r="1.2" fill="#111"/>
<circle cx="316.25" cy="600.00" r="1.2" fill="#111"/>
<circle cx="320.35" cy="600.00" r="1.2" fill="#111"/>
<circle cx="324.45" cy="600.00" r="1.2" fill="#111"/>
<line x1="283.00" y1="615.00" x2="330.00" y2="615.00" stroke="#000" stroke-width="1.6"/>
<line x1="283.00" y1="609.70" x2="283.00" y2="620.30" stroke="#000" stroke-width="1.6"/>
<line x1="330.00" y1="609.70" x2="330.00" y2="620.30" stroke="#000" stroke-width="1.6"/>
<circle cx="301.15" cy="611.60" r="1.2" fill="#111"/>
<circle cx="305.25" cy="611.60" r="1.2" fill="#111"/>
<circle cx="309.35" cy="611.60" r="1.2" fill="#111"/>
<circle cx="313.45" cy="611.60" r="1.2" fill="#111"/>
<line x1="283.00" y1="626.00" x2="307.00" y2="626.00" stroke="#000" stroke-width="1.6"/>
<line x1="283.00" y1="620.70" x2="283.00" y2="631.30" stroke="#000" stroke-width="1.6"/>
<line x1="307.00" y1="620.70" x2="307.00" y2="631.30" stroke="#000" stroke-width="1.6"/>
<circle cx="289.65" cy="622.60" r="1.2" fill="#111"/>
<circle cx="293.75" cy="622.60" r="1.2" fill="#111"/>
<circle cx="297.85" cy="622.60" r="1.2" fill="#111"/>
<circle cx="301.95" cy="622.60" r="1.2" fill="#111"/>
<line x1="307.00" y1="661.00" x2="352.60" y2="661.00" stroke="#000" stroke-width="1.6"/>
<line x1="307.00" y1="655.70" x2="307.00" y2="666.30" stroke="#000" stroke-width="1.6"/>
<line x1="352.60" y1="655.70" x2="352.60" y2="666.30" stroke="#000" stroke-width="1.6"/>
<text x="329.00" y="659.00" font-family="Liberation Sans" font-size="10" font-weight="normal" text-anchor="middle" fill="#000" >ns</text>
<line x1="331.00" y1="672.00" x2="352.60" y2="672.00" stroke="#000" stroke-width="1.6"/>
<line x1="331.00" y1="666.70" x2="331.00" y2="677.30" stroke="#000" stroke-width="1.6"/>
<line x1="352.60" y1="666.70" x2="352.60" y2="677.30" stroke="#000" stroke-width="1.6"/>
<circle cx="338.50" cy="668.60" r="1.2" fill="#111"/>
<circle cx="342.60" cy="668.60" r="1.2" fill="#111"/>
<circle cx="346.70" cy="668.60" r="1.2" fill="#111"/>
<text transform="translate(222.50,687.60) rotate(-90)" x="0" y="0" font-family="Liberation Sans" font-weight="bold" font-size="10" text-anchor="middle" textLength="99.2" lengthAdjust="spacingAndGlyphs">GSSG ( μg/mg prot)</text>
<text x="243.10" y="763.50" font-family="Liberation Sans" font-size="8.4" font-weight="normal" text-anchor="end" fill="#111" >H<tspan baseline-shift='-1.6' font-size='5.5'>2</tspan>O<tspan baseline-shift='-1.6' font-size='5.5'>2</tspan></text>
<line x1="258.40" y1="760.70" x2="262.60" y2="760.70" stroke="#777" stroke-width="0.9"/>
<line x1="281.45" y1="760.70" x2="285.65" y2="760.70" stroke="#777" stroke-width="0.9"/>
<line x1="283.55" y1="758.60" x2="283.55" y2="762.80" stroke="#777" stroke-width="0.9"/>
<line x1="304.50" y1="760.70" x2="308.70" y2="760.70" stroke="#777" stroke-width="0.9"/>
<line x1="306.60" y1="758.60" x2="306.60" y2="762.80" stroke="#777" stroke-width="0.9"/>
<line x1="327.55" y1="760.70" x2="331.75" y2="760.70" stroke="#777" stroke-width="0.9"/>
<line x1="329.65" y1="758.60" x2="329.65" y2="762.80" stroke="#777" stroke-width="0.9"/>
<line x1="350.60" y1="760.70" x2="354.80" y2="760.70" stroke="#777" stroke-width="0.9"/>
<line x1="352.70" y1="758.60" x2="352.70" y2="762.80" stroke="#777" stroke-width="0.9"/>
<text x="243.10" y="772.60" font-family="Liberation Sans" font-size="8.4" font-weight="normal" text-anchor="end" fill="#111" >SeMet</text>
<line x1="258.40" y1="769.90" x2="262.60" y2="769.90" stroke="#777" stroke-width="0.9"/>
<line x1="281.45" y1="769.90" x2="285.65" y2="769.90" stroke="#777" stroke-width="0.9"/>
<line x1="304.50" y1="769.90" x2="308.70" y2="769.90" stroke="#777" stroke-width="0.9"/>
<line x1="306.60" y1="767.80" x2="306.60" y2="772.00" stroke="#777" stroke-width="0.9"/>
<line x1="327.55" y1="769.90" x2="331.75" y2="769.90" stroke="#777" stroke-width="0.9"/>
<line x1="350.60" y1="769.90" x2="354.80" y2="769.90" stroke="#777" stroke-width="0.9"/>
<line x1="352.70" y1="767.80" x2="352.70" y2="772.00" stroke="#777" stroke-width="0.9"/>
<text x="243.10" y="782.30" font-family="Liberation Sans" font-size="8.4" font-weight="normal" text-anchor="end" fill="#111" >Allicin</text>
<line x1="258.40" y1="779.40" x2="262.60" y2="779.40" stroke="#777" stroke-width="0.9"/>
<line x1="281.45" y1="779.40" x2="285.65" y2="779.40" stroke="#777" stroke-width="0.9"/>
<line x1="304.50" y1="779.40" x2="308.70" y2="779.40" stroke="#777" stroke-width="0.9"/>
<line x1="327.55" y1="779.40" x2="331.75" y2="779.40" stroke="#777" stroke-width="0.9"/>
<line x1="329.65" y1="777.30" x2="329.65" y2="781.50" stroke="#777" stroke-width="0.9"/>
<line x1="350.60" y1="779.40" x2="354.80" y2="779.40" stroke="#777" stroke-width="0.9"/>
<line x1="352.70" y1="777.30" x2="352.70" y2="781.50" stroke="#777" stroke-width="0.9"/>
<text x="400.50" y="608.30" font-family="Liberation Serif" font-size="12.5" font-weight="bold" text-anchor="start" fill="#000" >J</text>
<line x1="417.00" y1="624.20" x2="417.00" y2="748.95" stroke="#000" stroke-width="1.5"/>
<line x1="416.25" y1="748.20" x2="542.40" y2="748.20" stroke="#000" stroke-width="1.5"/>
<line x1="412.00" y1="748.20" x2="417.00" y2="748.20" stroke="#000" stroke-width="1.5"/>
<text x="409.80" y="751.44" font-family="Liberation Sans" font-size="9" font-weight="bold" text-anchor="end" fill="#000" >0</text>
<line x1="412.00" y1="717.20" x2="417.00" y2="717.20" stroke="#000" stroke-width="1.5"/>
<text x="409.80" y="720.44" font-family="Liberation Sans" font-size="9" font-weight="bold" text-anchor="end" fill="#000" >5</text>
<line x1="412.00" y1="686.20" x2="417.00" y2="686.20" stroke="#000" stroke-width="1.5"/>
<text x="409.80" y="689.44" font-family="Liberation Sans" font-size="9" font-weight="bold" text-anchor="end" fill="#000" >10</text>
<line x1="412.00" y1="655.20" x2="417.00" y2="655.20" stroke="#000" stroke-width="1.5"/>
<text x="409.80" y="658.44" font-family="Liberation Sans" font-size="9" font-weight="bold" text-anchor="end" fill="#000" >15</text>
<line x1="412.00" y1="624.20" x2="417.00" y2="624.20" stroke="#000" stroke-width="1.5"/>
<text x="409.80" y="627.44" font-family="Liberation Sans" font-size="9" font-weight="bold" text-anchor="end" fill="#000" >20</text>
<line x1="432.50" y1="748.20" x2="432.50" y2="752.70" stroke="#000" stroke-width="1.5"/>
<line x1="432.50" y1="682.48" x2="432.50" y2="684.34" stroke="#333" stroke-width="1.0"/>
<line x1="429.30" y1="682.48" x2="435.70" y2="682.48" stroke="#333" stroke-width="1.0"/>
<rect x="425.50" y="685.09" width="14.00" height="62.36" fill="#000" stroke="#000" stroke-width="1.5"/>
<line x1="455.65" y1="748.20" x2="455.65" y2="752.70" stroke="#000" stroke-width="1.5"/>
<line x1="455.65" y1="740.76" x2="455.65" y2="741.38" stroke="#333" stroke-width="1.0"/>
<line x1="452.45" y1="740.76" x2="458.85" y2="740.76" stroke="#333" stroke-width="1.0"/>
<rect x="448.65" y="742.13" width="14.00" height="5.32" fill="#9c9c9c" stroke="#000" stroke-width="1.5"/>
<line x1="478.80" y1="748.20" x2="478.80" y2="752.70" stroke="#000" stroke-width="1.5"/>
<line x1="478.80" y1="714.10" x2="478.80" y2="716.58" stroke="#333" stroke-width="1.0"/>
<line x1="475.60" y1="714.10" x2="482.00" y2="714.10" stroke="#333" stroke-width="1.0"/>
<rect x="471.80" y="717.33" width="14.00" height="30.12" fill="#7c7c7c" stroke="#000" stroke-width="1.5"/>
<line x1="501.95" y1="748.20" x2="501.95" y2="752.70" stroke="#000" stroke-width="1.5"/>
<line x1="501.95" y1="719.99" x2="501.95" y2="721.54" stroke="#333" stroke-width="1.0"/>
<line x1="498.75" y1="719.99" x2="505.15" y2="719.99" stroke="#333" stroke-width="1.0"/>
<rect x="494.95" y="722.29" width="14.00" height="25.16" fill="#d6d6d6" stroke="#000" stroke-width="1.5"/>
<line x1="525.10" y1="748.20" x2="525.10" y2="752.70" stroke="#000" stroke-width="1.5"/>
<line x1="525.10" y1="629.16" x2="525.10" y2="644.66" stroke="#333" stroke-width="1.0"/>
<line x1="521.90" y1="629.16" x2="528.30" y2="629.16" stroke="#333" stroke-width="1.0"/>
<rect x="518.10" y="645.41" width="14.00" height="102.04" fill="#5c5c5c" stroke="#000" stroke-width="1.5"/>
<line x1="456.60" y1="600.40" x2="526.00" y2="600.40" stroke="#000" stroke-width="1.6"/>
<line x1="456.60" y1="595.10" x2="456.60" y2="605.70" stroke="#000" stroke-width="1.6"/>
<line x1="526.00" y1="595.10" x2="526.00" y2="605.70" stroke="#000" stroke-width="1.6"/>
<circle cx="485.95" cy="597.00" r="1.2" fill="#111"/>
<circle cx="490.05" cy="597.00" r="1.2" fill="#111"/>
<circle cx="494.15" cy="597.00" r="1.2" fill="#111"/>
<circle cx="498.25" cy="597.00" r="1.2" fill="#111"/>
<line x1="479.40" y1="611.40" x2="526.00" y2="611.40" stroke="#000" stroke-width="1.6"/>
<line x1="479.40" y1="606.10" x2="479.40" y2="616.70" stroke="#000" stroke-width="1.6"/>
<line x1="526.00" y1="606.10" x2="526.00" y2="616.70" stroke="#000" stroke-width="1.6"/>
<circle cx="497.35" cy="608.00" r="1.2" fill="#111"/>
<circle cx="501.45" cy="608.00" r="1.2" fill="#111"/>
<circle cx="505.55" cy="608.00" r="1.2" fill="#111"/>
<circle cx="509.65" cy="608.00" r="1.2" fill="#111"/>
<line x1="503.60" y1="623.00" x2="526.00" y2="623.00" stroke="#000" stroke-width="1.6"/>
<line x1="503.60" y1="617.70" x2="503.60" y2="628.30" stroke="#000" stroke-width="1.6"/>
<line x1="526.00" y1="617.70" x2="526.00" y2="628.30" stroke="#000" stroke-width="1.6"/>
<circle cx="509.45" cy="619.60" r="1.2" fill="#111"/>
<circle cx="513.55" cy="619.60" r="1.2" fill="#111"/>
<circle cx="517.65" cy="619.60" r="1.2" fill="#111"/>
<circle cx="521.75" cy="619.60" r="1.2" fill="#111"/>
<line x1="432.60" y1="675.00" x2="455.00" y2="675.00" stroke="#000" stroke-width="1.6"/>
<line x1="432.60" y1="669.70" x2="432.60" y2="680.30" stroke="#000" stroke-width="1.6"/>
<line x1="455.00" y1="669.70" x2="455.00" y2="680.30" stroke="#000" stroke-width="1.6"/>
<circle cx="438.45" cy="671.60" r="1.2" fill="#111"/>
<circle cx="442.55" cy="671.60" r="1.2" fill="#111"/>
<circle cx="446.65" cy="671.60" r="1.2" fill="#111"/>
<circle cx="450.75" cy="671.60" r="1.2" fill="#111"/>
<line x1="455.00" y1="686.40" x2="502.00" y2="686.40" stroke="#000" stroke-width="1.6"/>
<line x1="455.00" y1="681.10" x2="455.00" y2="691.70" stroke="#000" stroke-width="1.6"/>
<line x1="502.00" y1="681.10" x2="502.00" y2="691.70" stroke="#000" stroke-width="1.6"/>
<circle cx="479.30" cy="683.00" r="1.2" fill="#111"/>
<line x1="455.00" y1="697.00" x2="479.00" y2="697.00" stroke="#000" stroke-width="1.6"/>
<line x1="455.00" y1="691.70" x2="455.00" y2="702.30" stroke="#000" stroke-width="1.6"/>
<line x1="479.00" y1="691.70" x2="479.00" y2="702.30" stroke="#000" stroke-width="1.6"/>
<circle cx="465.75" cy="693.60" r="1.2" fill="#111"/>
<circle cx="469.85" cy="693.60" r="1.2" fill="#111"/>
<text transform="translate(393.80,686.20) rotate(-90)" x="0" y="0" font-family="Liberation Sans" font-weight="bold" font-size="10" text-anchor="middle" textLength="80.0" lengthAdjust="spacingAndGlyphs">GSH/GSSG ratio</text>
<text x="414.50" y="763.20" font-family="Liberation Sans" font-size="8.4" font-weight="normal" text-anchor="end" fill="#111" >H<tspan baseline-shift='-1.6' font-size='5.5'>2</tspan>O<tspan baseline-shift='-1.6' font-size='5.5'>2</tspan></text>
<line x1="430.40" y1="760.50" x2="434.60" y2="760.50" stroke="#777" stroke-width="0.9"/>
<line x1="453.55" y1="760.50" x2="457.75" y2="760.50" stroke="#777" stroke-width="0.9"/>
<line x1="455.65" y1="758.40" x2="455.65" y2="762.60" stroke="#777" stroke-width="0.9"/>
<line x1="476.70" y1="760.50" x2="480.90" y2="760.50" stroke="#777" stroke-width="0.9"/>
<line x1="478.80" y1="758.40" x2="478.80" y2="762.60" stroke="#777" stroke-width="0.9"/>
<line x1="499.85" y1="760.50" x2="504.05" y2="760.50" stroke="#777" stroke-width="0.9"/>
<line x1="501.95" y1="758.40" x2="501.95" y2="762.60" stroke="#777" stroke-width="0.9"/>
<line x1="523.00" y1="760.50" x2="527.20" y2="760.50" stroke="#777" stroke-width="0.9"/>
<line x1="525.10" y1="758.40" x2="525.10" y2="762.60" stroke="#777" stroke-width="0.9"/>
<text x="414.50" y="772.30" font-family="Liberation Sans" font-size="8.4" font-weight="normal" text-anchor="end" fill="#111" >SeMet</text>
<line x1="430.40" y1="769.90" x2="434.60" y2="769.90" stroke="#777" stroke-width="0.9"/>
<line x1="453.55" y1="769.90" x2="457.75" y2="769.90" stroke="#777" stroke-width="0.9"/>
<line x1="476.70" y1="769.90" x2="480.90" y2="769.90" stroke="#777" stroke-width="0.9"/>
<line x1="478.80" y1="767.80" x2="478.80" y2="772.00" stroke="#777" stroke-width="0.9"/>
<line x1="499.85" y1="769.90" x2="504.05" y2="769.90" stroke="#777" stroke-width="0.9"/>
<line x1="523.00" y1="769.90" x2="527.20" y2="769.90" stroke="#777" stroke-width="0.9"/>
<line x1="525.10" y1="767.80" x2="525.10" y2="772.00" stroke="#777" stroke-width="0.9"/>
<text x="414.50" y="781.90" font-family="Liberation Sans" font-size="8.4" font-weight="normal" text-anchor="end" fill="#111" >Allicin</text>
<line x1="430.40" y1="779.20" x2="434.60" y2="779.20" stroke="#777" stroke-width="0.9"/>
<line x1="453.55" y1="779.20" x2="457.75" y2="779.20" stroke="#777" stroke-width="0.9"/>
<line x1="476.70" y1="779.20" x2="480.90" y2="779.20" stroke="#777" stroke-width="0.9"/>
<line x1="499.85" y1="779.20" x2="504.05" y2="779.20" stroke="#777" stroke-width="0.9"/>
<line x1="501.95" y1="777.10" x2="501.95" y2="781.30" stroke="#777" stroke-width="0.9"/>
<line x1="523.00" y1="779.20" x2="527.20" y2="779.20" stroke="#777" stroke-width="0.9"/>
<line x1="525.10" y1="777.10" x2="525.10" y2="781.30" stroke="#777" stroke-width="0.9"/>
<text x="305.80" y="241.60" font-family="Liberation Serif" font-size="13" font-weight="bold" text-anchor="start" fill="#000" >D</text>
<line x1="370.70" y1="224.40" x2="370.70" y2="349.15" stroke="#000" stroke-width="1.5"/>
<line x1="369.95" y1="348.40" x2="498.70" y2="348.40" stroke="#000" stroke-width="1.5"/>
<line x1="365.70" y1="348.40" x2="370.70" y2="348.40" stroke="#000" stroke-width="1.5"/>
<text x="363.50" y="351.64" font-family="Liberation Sans" font-size="9" font-weight="bold" text-anchor="end" fill="#000" >0</text>
<line x1="365.70" y1="323.60" x2="370.70" y2="323.60" stroke="#000" stroke-width="1.5"/>
<text x="363.50" y="326.84" font-family="Liberation Sans" font-size="9" font-weight="bold" text-anchor="end" fill="#000" >1</text>
<line x1="365.70" y1="298.80" x2="370.70" y2="298.80" stroke="#000" stroke-width="1.5"/>
<text x="363.50" y="302.04" font-family="Liberation Sans" font-size="9" font-weight="bold" text-anchor="end" fill="#000" >2</text>
<line x1="365.70" y1="274.00" x2="370.70" y2="274.00" stroke="#000" stroke-width="1.5"/>
<text x="363.50" y="277.24" font-family="Liberation Sans" font-size="9" font-weight="bold" text-anchor="end" fill="#000" >3</text>
<line x1="365.70" y1="249.20" x2="370.70" y2="249.20" stroke="#000" stroke-width="1.5"/>
<text x="363.50" y="252.44" font-family="Liberation Sans" font-size="9" font-weight="bold" text-anchor="end" fill="#000" >4</text>
<line x1="365.70" y1="224.40" x2="370.70" y2="224.40" stroke="#000" stroke-width="1.5"/>
<text x="363.50" y="227.64" font-family="Liberation Sans" font-size="9" font-weight="bold" text-anchor="end" fill="#000" >5</text>
<line x1="387.50" y1="348.40" x2="387.50" y2="352.90" stroke="#000" stroke-width="1.5"/>
<line x1="387.50" y1="320.38" x2="387.50" y2="323.60" stroke="#333" stroke-width="1.0"/>
<line x1="384.30" y1="320.38" x2="390.70" y2="320.38" stroke="#333" stroke-width="1.0"/>
<rect x="381.00" y="324.35" width="13.00" height="23.30" fill="#000" stroke="#000" stroke-width="1.5"/>
<line x1="410.90" y1="348.40" x2="410.90" y2="352.90" stroke="#000" stroke-width="1.5"/>
<line x1="410.90" y1="239.28" x2="410.90" y2="246.72" stroke="#333" stroke-width="1.0"/>
<line x1="407.70" y1="239.28" x2="414.10" y2="239.28" stroke="#333" stroke-width="1.0"/>
<rect x="404.40" y="247.47" width="13.00" height="100.18" fill="#9c9c9c" stroke="#000" stroke-width="1.5"/>
<line x1="434.30" y1="348.40" x2="434.30" y2="352.90" stroke="#000" stroke-width="1.5"/>
<line x1="434.30" y1="280.70" x2="434.30" y2="288.88" stroke="#333" stroke-width="1.0"/>
<line x1="431.10" y1="280.70" x2="437.50" y2="280.70" stroke="#333" stroke-width="1.0"/>
<rect x="427.80" y="289.63" width="13.00" height="58.02" fill="#7c7c7c" stroke="#000" stroke-width="1.5"/>
<line x1="457.70" y1="348.40" x2="457.70" y2="352.90" stroke="#000" stroke-width="1.5"/>
<line x1="457.70" y1="268.30" x2="457.70" y2="278.96" stroke="#333" stroke-width="1.0"/>
<line x1="454.50" y1="268.30" x2="460.90" y2="268.30" stroke="#333" stroke-width="1.0"/>
<rect x="451.20" y="279.71" width="13.00" height="67.94" fill="#d6d6d6" stroke="#000" stroke-width="1.5"/>
<line x1="481.10" y1="348.40" x2="481.10" y2="352.90" stroke="#000" stroke-width="1.5"/>
<line x1="481.10" y1="303.02" x2="481.10" y2="314.67" stroke="#333" stroke-width="1.0"/>
<line x1="477.90" y1="303.02" x2="484.30" y2="303.02" stroke="#333" stroke-width="1.0"/>
<rect x="474.60" y="315.42" width="13.00" height="32.23" fill="#5c5c5c" stroke="#000" stroke-width="1.5"/>
<line x1="390.50" y1="200.90" x2="411.40" y2="200.90" stroke="#000" stroke-width="1.6"/>
<line x1="390.50" y1="195.60" x2="390.50" y2="206.20" stroke="#000" stroke-width="1.6"/>
<line x1="411.40" y1="195.60" x2="411.40" y2="206.20" stroke="#000" stroke-width="1.6"/>
<circle cx="395.60" cy="197.50" r="1.2" fill="#111"/>
<circle cx="399.70" cy="197.50" r="1.2" fill="#111"/>
<circle cx="403.80" cy="197.50" r="1.2" fill="#111"/>
<circle cx="407.90" cy="197.50" r="1.2" fill="#111"/>
<line x1="411.40" y1="212.40" x2="482.30" y2="212.40" stroke="#000" stroke-width="1.6"/>
<line x1="411.40" y1="207.10" x2="411.40" y2="217.70" stroke="#000" stroke-width="1.6"/>
<line x1="482.30" y1="207.10" x2="482.30" y2="217.70" stroke="#000" stroke-width="1.6"/>
<circle cx="441.50" cy="209.00" r="1.2" fill="#111"/>
<circle cx="445.60" cy="209.00" r="1.2" fill="#111"/>
<circle cx="449.70" cy="209.00" r="1.2" fill="#111"/>
<circle cx="453.80" cy="209.00" r="1.2" fill="#111"/>
<line x1="411.40" y1="223.20" x2="458.30" y2="223.20" stroke="#000" stroke-width="1.6"/>
<line x1="411.40" y1="217.90" x2="411.40" y2="228.50" stroke="#000" stroke-width="1.6"/>
<line x1="458.30" y1="217.90" x2="458.30" y2="228.50" stroke="#000" stroke-width="1.6"/>
<circle cx="433.60" cy="219.80" r="1.2" fill="#111"/>
<circle cx="437.70" cy="219.80" r="1.2" fill="#111"/>
<line x1="411.40" y1="233.20" x2="435.10" y2="233.20" stroke="#000" stroke-width="1.6"/>
<line x1="411.40" y1="227.90" x2="411.40" y2="238.50" stroke="#000" stroke-width="1.6"/>
<line x1="435.10" y1="227.90" x2="435.10" y2="238.50" stroke="#000" stroke-width="1.6"/>
<circle cx="419.95" cy="229.80" r="1.2" fill="#111"/>
<circle cx="424.05" cy="229.80" r="1.2" fill="#111"/>
<circle cx="428.15" cy="229.80" r="1.2" fill="#111"/>
<line x1="434.70" y1="249.10" x2="482.30" y2="249.10" stroke="#000" stroke-width="1.6"/>
<line x1="434.70" y1="243.80" x2="434.70" y2="254.40" stroke="#000" stroke-width="1.6"/>
<line x1="482.30" y1="243.80" x2="482.30" y2="254.40" stroke="#000" stroke-width="1.6"/>
<circle cx="459.30" cy="245.70" r="1.2" fill="#111"/>
<line x1="457.90" y1="260.30" x2="482.30" y2="260.30" stroke="#000" stroke-width="1.6"/>
<line x1="457.90" y1="255.00" x2="457.90" y2="265.60" stroke="#000" stroke-width="1.6"/>
<line x1="482.30" y1="255.00" x2="482.30" y2="265.60" stroke="#000" stroke-width="1.6"/>
<circle cx="468.85" cy="256.90" r="1.2" fill="#111"/>
<circle cx="472.95" cy="256.90" r="1.2" fill="#111"/>
<text transform="translate(341.50,286.50) rotate(-90)" x="0" y="0" font-family="Liberation Sans" font-weight="bold" font-size="9.5" text-anchor="middle" textLength="61.7" lengthAdjust="spacingAndGlyphs">FITC-A Mean</text>
<text transform="translate(353.50,287.00) rotate(-90)" x="0" y="0" font-family="Liberation Sans" font-weight="bold" font-size="9.5" text-anchor="middle" textLength="95.0" lengthAdjust="spacingAndGlyphs">fold change/control</text>
<text x="369.50" y="366.30" font-family="Liberation Sans" font-size="8.4" font-weight="normal" text-anchor="end" fill="#111" >H<tspan baseline-shift='-1.6' font-size='5.5'>2</tspan>O<tspan baseline-shift='-1.6' font-size='5.5'>2</tspan></text>
<line x1="385.40" y1="363.20" x2="389.60" y2="363.20" stroke="#777" stroke-width="0.9"/>
<line x1="408.80" y1="363.20" x2="413.00" y2="363.20" stroke="#777" stroke-width="0.9"/>
<line x1="410.90" y1="361.10" x2="410.90" y2="365.30" stroke="#777" stroke-width="0.9"/>
<line x1="432.20" y1="363.20" x2="436.40" y2="363.20" stroke="#777" stroke-width="0.9"/>
<line x1="434.30" y1="361.10" x2="434.30" y2="365.30" stroke="#777" stroke-width="0.9"/>
<line x1="455.60" y1="363.20" x2="459.80" y2="363.20" stroke="#777" stroke-width="0.9"/>
<line x1="457.70" y1="361.10" x2="457.70" y2="365.30" stroke="#777" stroke-width="0.9"/>
<line x1="479.00" y1="363.20" x2="483.20" y2="363.20" stroke="#777" stroke-width="0.9"/>
<line x1="481.10" y1="361.10" x2="481.10" y2="365.30" stroke="#777" stroke-width="0.9"/>
<text x="369.50" y="375.50" font-family="Liberation Sans" font-size="8.4" font-weight="normal" text-anchor="end" fill="#111" >SeMet</text>
<line x1="385.40" y1="372.60" x2="389.60" y2="372.60" stroke="#777" stroke-width="0.9"/>
<line x1="408.80" y1="372.60" x2="413.00" y2="372.60" stroke="#777" stroke-width="0.9"/>
<line x1="432.20" y1="372.60" x2="436.40" y2="372.60" stroke="#777" stroke-width="0.9"/>
<line x1="434.30" y1="370.50" x2="434.30" y2="374.70" stroke="#777" stroke-width="0.9"/>
<line x1="455.60" y1="372.60" x2="459.80" y2="372.60" stroke="#777" stroke-width="0.9"/>
<line x1="479.00" y1="372.60" x2="483.20" y2="372.60" stroke="#777" stroke-width="0.9"/>
<line x1="481.10" y1="370.50" x2="481.10" y2="374.70" stroke="#777" stroke-width="0.9"/>
<text x="369.50" y="385.00" font-family="Liberation Sans" font-size="8.4" font-weight="normal" text-anchor="end" fill="#111" >Allicin</text>
<line x1="385.40" y1="382.30" x2="389.60" y2="382.30" stroke="#777" stroke-width="0.9"/>
<line x1="408.80" y1="382.30" x2="413.00" y2="382.30" stroke="#777" stroke-width="0.9"/>
<line x1="432.20" y1="382.30" x2="436.40" y2="382.30" stroke="#777" stroke-width="0.9"/>
<line x1="455.60" y1="382.30" x2="459.80" y2="382.30" stroke="#777" stroke-width="0.9"/>
<line x1="457.70" y1="380.20" x2="457.70" y2="384.40" stroke="#777" stroke-width="0.9"/>
<line x1="479.00" y1="382.30" x2="483.20" y2="382.30" stroke="#777" stroke-width="0.9"/>
<line x1="481.10" y1="380.20" x2="481.10" y2="384.40" stroke="#777" stroke-width="0.9"/>
<!-- END charts -->
<text x="305.00" y="15.20" font-family="Liberation Serif" font-size="12" font-weight="bold" text-anchor="start" fill="#000" >B</text>
<line x1="344.30" y1="32.50" x2="344.30" y2="86.70" stroke="#000" stroke-width="1.5"/>
<line x1="344.30" y1="95.50" x2="344.30" y2="150.75" stroke="#000" stroke-width="1.5"/>
<line x1="341.40" y1="84.50" x2="347.40" y2="90.20" stroke="#000" stroke-width="1.4"/>
<line x1="341.90" y1="92.40" x2="347.50" y2="97.80" stroke="#000" stroke-width="1.4"/>
<line x1="343.55" y1="150.00" x2="519.00" y2="150.00" stroke="#000" stroke-width="1.5"/>
<line x1="339.30" y1="32.50" x2="344.30" y2="32.50" stroke="#000" stroke-width="1.5"/>
<text x="338.10" y="35.67" font-family="Liberation Sans" font-size="8.8" font-weight="bold" text-anchor="end" fill="#000" >90</text>
<line x1="339.30" y1="43.34" x2="344.30" y2="43.34" stroke="#000" stroke-width="1.5"/>
<text x="338.10" y="46.51" font-family="Liberation Sans" font-size="8.8" font-weight="bold" text-anchor="end" fill="#000" >85</text>
<line x1="339.30" y1="54.18" x2="344.30" y2="54.18" stroke="#000" stroke-width="1.5"/>
<text x="338.10" y="57.35" font-family="Liberation Sans" font-size="8.8" font-weight="bold" text-anchor="end" fill="#000" >80</text>
<line x1="339.30" y1="65.02" x2="344.30" y2="65.02" stroke="#000" stroke-width="1.5"/>
<text x="338.10" y="68.19" font-family="Liberation Sans" font-size="8.8" font-weight="bold" text-anchor="end" fill="#000" >75</text>
<line x1="339.30" y1="75.86" x2="344.30" y2="75.86" stroke="#000" stroke-width="1.5"/>
<text x="338.10" y="79.03" font-family="Liberation Sans" font-size="8.8" font-weight="bold" text-anchor="end" fill="#000" >70</text>
<text x="338.10" y="89.87" font-family="Liberation Sans" font-size="8.8" font-weight="bold" text-anchor="end" fill="#000" >65</text>
<line x1="339.30" y1="150.00" x2="344.30" y2="150.00" stroke="#000" stroke-width="1.5"/>
<text x="338.10" y="153.17" font-family="Liberation Sans" font-size="8.8" font-weight="bold" text-anchor="end" fill="#000" >0</text>
<line x1="339.30" y1="138.00" x2="344.30" y2="138.00" stroke="#000" stroke-width="1.5"/>
<text x="338.10" y="141.17" font-family="Liberation Sans" font-size="8.8" font-weight="bold" text-anchor="end" fill="#000" >10</text>
<line x1="339.30" y1="126.00" x2="344.30" y2="126.00" stroke="#000" stroke-width="1.5"/>
<text x="338.10" y="129.17" font-family="Liberation Sans" font-size="8.8" font-weight="bold" text-anchor="end" fill="#000" >20</text>
<line x1="339.30" y1="114.00" x2="344.30" y2="114.00" stroke="#000" stroke-width="1.5"/>
<text x="338.10" y="117.17" font-family="Liberation Sans" font-size="8.8" font-weight="bold" text-anchor="end" fill="#000" >30</text>
<line x1="339.30" y1="102.00" x2="344.30" y2="102.00" stroke="#000" stroke-width="1.5"/>
<text x="338.10" y="105.17" font-family="Liberation Sans" font-size="8.8" font-weight="bold" text-anchor="end" fill="#000" >40</text>
<line x1="358.60" y1="150.00" x2="358.60" y2="154.50" stroke="#000" stroke-width="1.5"/>
<rect x="352.60" y="149.79" width="12.00" height="0.30" fill="#000" stroke="#000" stroke-width="1.5"/>
<line x1="380.00" y1="150.00" x2="380.00" y2="154.50" stroke="#000" stroke-width="1.5"/>
<line x1="380.00" y1="49.84" x2="380.00" y2="65.02" stroke="#444" stroke-width="1.0"/>
<line x1="376.80" y1="49.84" x2="383.20" y2="49.84" stroke="#444" stroke-width="1.0"/>
<rect x="374.00" y="65.77" width="12.00" height="23.98" fill="#9c9c9c" stroke="#000" stroke-width="1.5"/>
<rect x="372.25" y="86.8" width="15.50" height="8.6" fill="#fff"/>
<rect x="374.00" y="95.80" width="12.00" height="53.45" fill="#9c9c9c" stroke="#000" stroke-width="1.5"/>
<line x1="401.40" y1="150.00" x2="401.40" y2="154.50" stroke="#000" stroke-width="1.5"/>
<rect x="395.40" y="148.35" width="12.00" height="0.90" fill="#333" stroke="#000" stroke-width="1.5"/>
<line x1="422.60" y1="150.00" x2="422.60" y2="154.50" stroke="#000" stroke-width="1.5"/>
<line x1="422.60" y1="144.84" x2="422.60" y2="145.80" stroke="#444" stroke-width="1.0"/>
<line x1="419.40" y1="144.84" x2="425.80" y2="144.84" stroke="#444" stroke-width="1.0"/>
<rect x="416.60" y="146.55" width="12.00" height="2.70" fill="#fff" stroke="#000" stroke-width="1.5"/>
<line x1="443.60" y1="150.00" x2="443.60" y2="154.50" stroke="#000" stroke-width="1.5"/>
<rect x="437.60" y="148.35" width="12.00" height="0.90" fill="#333" stroke="#000" stroke-width="1.5"/>
<line x1="464.80" y1="150.00" x2="464.80" y2="154.50" stroke="#000" stroke-width="1.5"/>
<line x1="464.80" y1="109.20" x2="464.80" y2="114.00" stroke="#444" stroke-width="1.0"/>
<line x1="461.60" y1="109.20" x2="468.00" y2="109.20" stroke="#444" stroke-width="1.0"/>
<rect x="458.80" y="114.75" width="12.00" height="34.50" fill="#a4a4a4" stroke="#000" stroke-width="1.5"/>
<line x1="486.60" y1="150.00" x2="486.60" y2="154.50" stroke="#000" stroke-width="1.5"/>
<line x1="486.60" y1="97.56" x2="486.60" y2="105.60" stroke="#444" stroke-width="1.0"/>
<line x1="483.40" y1="97.56" x2="489.80" y2="97.56" stroke="#444" stroke-width="1.0"/>
<rect x="480.60" y="106.35" width="12.00" height="42.90" fill="#5a5a5a" stroke="#000" stroke-width="1.5"/>
<line x1="507.60" y1="150.00" x2="507.60" y2="154.50" stroke="#000" stroke-width="1.5"/>
<line x1="507.60" y1="132.00" x2="507.60" y2="135.60" stroke="#444" stroke-width="1.0"/>
<line x1="504.40" y1="132.00" x2="510.80" y2="132.00" stroke="#444" stroke-width="1.0"/>
<rect x="501.60" y="136.35" width="12.00" height="12.90" fill="#e6e6e6" stroke="#000" stroke-width="1.5"/>
<line x1="360.20" y1="12.70" x2="380.20" y2="12.70" stroke="#000" stroke-width="1.6"/>
<line x1="360.20" y1="7.40" x2="360.20" y2="18.00" stroke="#000" stroke-width="1.6"/>
<line x1="380.20" y1="7.40" x2="380.20" y2="18.00" stroke="#000" stroke-width="1.6"/>
<circle cx="365.55" cy="9.30" r="1.2" fill="#111"/>
<circle cx="369.65" cy="9.30" r="1.2" fill="#111"/>
<circle cx="373.75" cy="9.30" r="1.2" fill="#111"/>
<circle cx="377.85" cy="9.30" r="1.2" fill="#111"/>
<line x1="380.20" y1="22.90" x2="508.70" y2="22.90" stroke="#000" stroke-width="1.6"/>
<line x1="380.20" y1="17.60" x2="380.20" y2="28.20" stroke="#000" stroke-width="1.6"/>
<line x1="508.70" y1="17.60" x2="508.70" y2="28.20" stroke="#000" stroke-width="1.6"/>
<circle cx="439.80" cy="19.50" r="1.2" fill="#111"/>
<circle cx="443.90" cy="19.50" r="1.2" fill="#111"/>
<circle cx="448.00" cy="19.50" r="1.2" fill="#111"/>
<circle cx="452.10" cy="19.50" r="1.2" fill="#111"/>
<line x1="380.20" y1="32.70" x2="486.80" y2="32.70" stroke="#000" stroke-width="1.6"/>
<line x1="380.20" y1="27.40" x2="380.20" y2="38.00" stroke="#000" stroke-width="1.6"/>
<line x1="486.80" y1="27.40" x2="486.80" y2="38.00" stroke="#000" stroke-width="1.6"/>
<circle cx="428.85" cy="29.30" r="1.2" fill="#111"/>
<circle cx="432.95" cy="29.30" r="1.2" fill="#111"/>
<circle cx="437.05" cy="29.30" r="1.2" fill="#111"/>
<circle cx="441.15" cy="29.30" r="1.2" fill="#111"/>
<line x1="380.20" y1="42.40" x2="466.00" y2="42.40" stroke="#000" stroke-width="1.6"/>
<line x1="380.20" y1="37.10" x2="380.20" y2="47.70" stroke="#000" stroke-width="1.6"/>
<line x1="466.00" y1="37.10" x2="466.00" y2="47.70" stroke="#000" stroke-width="1.6"/>
<circle cx="418.45" cy="39.00" r="1.2" fill="#111"/>
<circle cx="422.55" cy="39.00" r="1.2" fill="#111"/>
<circle cx="426.65" cy="39.00" r="1.2" fill="#111"/>
<circle cx="430.75" cy="39.00" r="1.2" fill="#111"/>
<line x1="466.50" y1="80.20" x2="509.20" y2="80.20" stroke="#000" stroke-width="1.6"/>
<line x1="466.50" y1="74.90" x2="466.50" y2="85.50" stroke="#000" stroke-width="1.6"/>
<line x1="509.20" y1="74.90" x2="509.20" y2="85.50" stroke="#000" stroke-width="1.6"/>
<circle cx="483.20" cy="76.80" r="1.2" fill="#111"/>
<circle cx="487.30" cy="76.80" r="1.2" fill="#111"/>
<circle cx="491.40" cy="76.80" r="1.2" fill="#111"/>
<circle cx="495.50" cy="76.80" r="1.2" fill="#111"/>
<line x1="486.80" y1="89.60" x2="509.20" y2="89.60" stroke="#000" stroke-width="1.6"/>
<line x1="486.80" y1="84.30" x2="486.80" y2="94.90" stroke="#000" stroke-width="1.6"/>
<line x1="509.20" y1="84.30" x2="509.20" y2="94.90" stroke="#000" stroke-width="1.6"/>
<circle cx="493.35" cy="86.20" r="1.2" fill="#111"/>
<circle cx="497.45" cy="86.20" r="1.2" fill="#111"/>
<circle cx="501.55" cy="86.20" r="1.2" fill="#111"/>
<circle cx="505.65" cy="86.20" r="1.2" fill="#111"/>
<line x1="380.20" y1="12.70" x2="380.20" y2="49.84" stroke="#000" stroke-width="1.6"/>
<text transform="translate(310.00,91.40) rotate(-90)" x="0" y="0" font-family="Liberation Sans" font-weight="bold" font-size="9.5" text-anchor="middle" textLength="73.6" lengthAdjust="spacingAndGlyphs">ROS generation</text>
<text transform="translate(321.50,90.90) rotate(-90)" x="0" y="0" font-family="Liberation Sans" font-weight="bold" font-size="9.5" text-anchor="middle" textLength="90.4" lengthAdjust="spacingAndGlyphs">fold change/control</text>
<text x="341.80" y="162.50" font-family="Liberation Sans" font-size="8.4" font-weight="normal" text-anchor="end" fill="#111" >H<tspan baseline-shift='-1.6' font-size='5.5'>2</tspan>O<tspan baseline-shift='-1.6' font-size='5.5'>2</tspan></text>
<line x1="356.50" y1="161.30" x2="360.70" y2="161.30" stroke="#777" stroke-width="0.9"/>
<line x1="377.90" y1="161.30" x2="382.10" y2="161.30" stroke="#777" stroke-width="0.9"/>
<line x1="380.00" y1="159.20" x2="380.00" y2="163.40" stroke="#777" stroke-width="0.9"/>
<line x1="399.30" y1="161.30" x2="403.50" y2="161.30" stroke="#777" stroke-width="0.9"/>
<line x1="420.50" y1="161.30" x2="424.70" y2="161.30" stroke="#777" stroke-width="0.9"/>
<line x1="441.50" y1="161.30" x2="445.70" y2="161.30" stroke="#777" stroke-width="0.9"/>
<line x1="462.70" y1="161.30" x2="466.90" y2="161.30" stroke="#777" stroke-width="0.9"/>
<line x1="464.80" y1="159.20" x2="464.80" y2="163.40" stroke="#777" stroke-width="0.9"/>
<line x1="484.50" y1="161.30" x2="488.70" y2="161.30" stroke="#777" stroke-width="0.9"/>
<line x1="486.60" y1="159.20" x2="486.60" y2="163.40" stroke="#777" stroke-width="0.9"/>
<line x1="505.50" y1="161.30" x2="509.70" y2="161.30" stroke="#777" stroke-width="0.9"/>
<line x1="507.60" y1="159.20" x2="507.60" y2="163.40" stroke="#777" stroke-width="0.9"/>
<text x="341.80" y="172.50" font-family="Liberation Sans" font-size="8.4" font-weight="normal" text-anchor="end" fill="#111" >SeMet</text>
<line x1="356.50" y1="169.80" x2="360.70" y2="169.80" stroke="#777" stroke-width="0.9"/>
<line x1="377.90" y1="169.80" x2="382.10" y2="169.80" stroke="#777" stroke-width="0.9"/>
<line x1="399.30" y1="169.80" x2="403.50" y2="169.80" stroke="#777" stroke-width="0.9"/>
<line x1="401.40" y1="167.70" x2="401.40" y2="171.90" stroke="#777" stroke-width="0.9"/>
<line x1="420.50" y1="169.80" x2="424.70" y2="169.80" stroke="#777" stroke-width="0.9"/>
<line x1="441.50" y1="169.80" x2="445.70" y2="169.80" stroke="#777" stroke-width="0.9"/>
<line x1="443.60" y1="167.70" x2="443.60" y2="171.90" stroke="#777" stroke-width="0.9"/>
<line x1="462.70" y1="169.80" x2="466.90" y2="169.80" stroke="#777" stroke-width="0.9"/>
<line x1="464.80" y1="167.70" x2="464.80" y2="171.90" stroke="#777" stroke-width="0.9"/>
<line x1="484.50" y1="169.80" x2="488.70" y2="169.80" stroke="#777" stroke-width="0.9"/>
<line x1="505.50" y1="169.80" x2="509.70" y2="169.80" stroke="#777" stroke-width="0.9"/>
<line x1="507.60" y1="167.70" x2="507.60" y2="171.90" stroke="#777" stroke-width="0.9"/>
<text x="341.80" y="182.20" font-family="Liberation Sans" font-size="8.4" font-weight="normal" text-anchor="end" fill="#111" >Allicin</text>
<line x1="356.50" y1="178.90" x2="360.70" y2="178.90" stroke="#777" stroke-width="0.9"/>
<line x1="377.90" y1="178.90" x2="382.10" y2="178.90" stroke="#777" stroke-width="0.9"/>
<line x1="399.30" y1="178.90" x2="403.50" y2="178.90" stroke="#777" stroke-width="0.9"/>
<line x1="420.50" y1="178.90" x2="424.70" y2="178.90" stroke="#777" stroke-width="0.9"/>
<line x1="422.60" y1="176.80" x2="422.60" y2="181.00" stroke="#777" stroke-width="0.9"/>
<line x1="441.50" y1="178.90" x2="445.70" y2="178.90" stroke="#777" stroke-width="0.9"/>
<line x1="443.60" y1="176.80" x2="443.60" y2="181.00" stroke="#777" stroke-width="0.9"/>
<line x1="462.70" y1="178.90" x2="466.90" y2="178.90" stroke="#777" stroke-width="0.9"/>
<line x1="484.50" y1="178.90" x2="488.70" y2="178.90" stroke="#777" stroke-width="0.9"/>
<line x1="486.60" y1="176.80" x2="486.60" y2="181.00" stroke="#777" stroke-width="0.9"/>
<line x1="505.50" y1="178.90" x2="509.70" y2="178.90" stroke="#777" stroke-width="0.9"/>
<line x1="507.60" y1="176.80" x2="507.60" y2="181.00" stroke="#777" stroke-width="0.9"/>
<!-- END B -->
<text x="4.50" y="242.80" font-family="Liberation Serif" font-size="14.5" font-weight="bold" text-anchor="start" fill="#000" >C</text>
<rect x="26.7" y="233.3" width="267.6" height="133.7" fill="#fff" stroke="#999" stroke-width="0.8"/>
<clipPath id="clipC"><rect x="26.7" y="233.3" width="267.6" height="133.7"/></clipPath>
<path clip-path="url(#clipC)" d="M27.00,233.50 C27.30,233.58 28.43,222.92 28.80,234.00 C29.17,245.08 29.08,279.67 29.20,300.00 C29.32,320.33 29.28,345.58 29.50,356.00 C29.72,366.42 29.92,361.07 30.50,362.50 C31.08,363.93 28.08,364.12 33.00,364.60 C37.92,365.08 48.83,365.23 60.00,365.40 C71.17,365.57 86.67,365.67 100.00,365.60 C113.33,365.53 130.00,365.30 140.00,365.00 C150.00,364.70 154.17,364.22 160.00,363.80 C165.83,363.38 170.00,362.97 175.00,362.50 C180.00,362.03 185.83,361.42 190.00,361.00 C194.17,360.58 197.33,360.30 200.00,360.00 C202.67,359.70 204.33,359.40 206.00,359.20 C207.67,359.00 208.67,359.07 210.00,358.80 C211.33,358.53 212.67,357.90 214.00,357.60 C215.33,357.30 216.83,357.33 218.00,357.00 C219.17,356.67 220.00,355.97 221.00,355.60 C222.00,355.23 223.00,354.80 224.00,354.80 C225.00,354.80 226.17,355.57 227.00,355.60 C227.83,355.63 228.33,354.77 229.00,355.00 C229.67,355.23 230.17,356.08 231.00,357.00 C231.83,357.92 233.00,359.33 234.00,360.50 C235.00,361.67 236.00,363.08 237.00,364.00 C238.00,364.92 238.83,365.57 240.00,366.00 C241.17,366.43 243.33,366.50 244.00,366.60 L244.00,366.5 L27.00,366.5 Z" fill="#5fd3f0" fill-opacity="0.75" stroke="none"/>
<path clip-path="url(#clipC)" d="M27.00,233.50 C27.30,233.58 28.43,222.92 28.80,234.00 C29.17,245.08 29.08,279.67 29.20,300.00 C29.32,320.33 29.28,345.58 29.50,356.00 C29.72,366.42 29.92,361.07 30.50,362.50 C31.08,363.93 28.08,364.12 33.00,364.60 C37.92,365.08 48.83,365.23 60.00,365.40 C71.17,365.57 86.67,365.67 100.00,365.60 C113.33,365.53 130.00,365.30 140.00,365.00 C150.00,364.70 154.17,364.22 160.00,363.80 C165.83,363.38 170.00,362.97 175.00,362.50 C180.00,362.03 185.83,361.42 190.00,361.00 C194.17,360.58 197.33,360.30 200.00,360.00 C202.67,359.70 204.33,359.40 206.00,359.20 C207.67,359.00 208.67,359.07 210.00,358.80 C211.33,358.53 212.67,357.90 214.00,357.60 C215.33,357.30 216.83,357.33 218.00,357.00 C219.17,356.67 220.00,355.97 221.00,355.60 C222.00,355.23 223.00,354.80 224.00,354.80 C225.00,354.80 226.17,355.57 227.00,355.60 C227.83,355.63 228.33,354.77 229.00,355.00 C229.67,355.23 230.17,356.08 231.00,357.00 C231.83,357.92 233.00,359.33 234.00,360.50 C235.00,361.67 236.00,363.08 237.00,364.00 C238.00,364.92 238.83,365.57 240.00,366.00 C241.17,366.43 243.33,366.50 244.00,366.60" fill="none" stroke="#20b8e0" stroke-width="1.0"/>
<path clip-path="url(#clipC)" d="M28.00,359.00 C28.50,359.63 29.00,362.03 31.00,362.80 C33.00,363.57 35.17,363.47 40.00,363.60 C44.83,363.73 54.17,363.78 60.00,363.60 C65.83,363.42 71.67,363.27 75.00,362.50 C78.33,361.73 78.50,360.42 80.00,359.00 C81.50,357.58 82.33,355.33 84.00,354.00 C85.67,352.67 87.33,351.75 90.00,351.00 C92.67,350.25 96.67,349.50 100.00,349.50 C103.33,349.50 106.67,350.25 110.00,351.00 C113.33,351.75 116.67,353.05 120.00,354.00 C123.33,354.95 126.67,355.78 130.00,356.70 C133.33,357.62 136.67,358.53 140.00,359.50 C143.33,360.47 146.67,361.62 150.00,362.50 C153.33,363.38 155.83,364.22 160.00,364.80 C164.17,365.38 169.17,365.70 175.00,366.00 C180.83,366.30 191.67,366.50 195.00,366.60 L195.00,366.5 L28.00,366.5 Z" fill="#8fe060" fill-opacity="0.7" stroke="none"/>
<path clip-path="url(#clipC)" d="M28.00,359.00 C28.50,359.63 29.00,362.03 31.00,362.80 C33.00,363.57 35.17,363.47 40.00,363.60 C44.83,363.73 54.17,363.78 60.00,363.60 C65.83,363.42 71.67,363.27 75.00,362.50 C78.33,361.73 78.50,360.42 80.00,359.00 C81.50,357.58 82.33,355.33 84.00,354.00 C85.67,352.67 87.33,351.75 90.00,351.00 C92.67,350.25 96.67,349.50 100.00,349.50 C103.33,349.50 106.67,350.25 110.00,351.00 C113.33,351.75 116.67,353.05 120.00,354.00 C123.33,354.95 126.67,355.78 130.00,356.70 C133.33,357.62 136.67,358.53 140.00,359.50 C143.33,360.47 146.67,361.62 150.00,362.50 C153.33,363.38 155.83,364.22 160.00,364.80 C164.17,365.38 169.17,365.70 175.00,366.00 C180.83,366.30 191.67,366.50 195.00,366.60" fill="none" stroke="#60c030" stroke-width="1.0"/>
<path clip-path="url(#clipC)" d="M78.00,366.50 C78.42,365.25 79.67,362.58 80.50,359.00 C81.33,355.42 82.08,350.67 83.00,345.00 C83.92,339.33 85.08,329.83 86.00,325.00 C86.92,320.17 87.67,316.50 88.50,316.00 C89.33,315.50 90.08,319.33 91.00,322.00 C91.92,324.67 93.17,329.67 94.00,332.00 C94.83,334.33 95.00,334.17 96.00,336.00 C97.00,337.83 98.67,340.50 100.00,343.00 C101.33,345.50 102.50,348.38 104.00,351.00 C105.50,353.62 107.00,356.70 109.00,358.70 C111.00,360.70 112.67,361.82 116.00,363.00 C119.33,364.18 125.00,365.20 129.00,365.80 C133.00,366.40 138.17,366.47 140.00,366.60 L140.00,366.5 L78.00,366.5 Z" fill="#f7b36a" fill-opacity="0.6" stroke="none"/>
<path clip-path="url(#clipC)" d="M78.00,366.50 C78.42,365.25 79.67,362.58 80.50,359.00 C81.33,355.42 82.08,350.67 83.00,345.00 C83.92,339.33 85.08,329.83 86.00,325.00 C86.92,320.17 87.67,316.50 88.50,316.00 C89.33,315.50 90.08,319.33 91.00,322.00 C91.92,324.67 93.17,329.67 94.00,332.00 C94.83,334.33 95.00,334.17 96.00,336.00 C97.00,337.83 98.67,340.50 100.00,343.00 C101.33,345.50 102.50,348.38 104.00,351.00 C105.50,353.62 107.00,356.70 109.00,358.70 C111.00,360.70 112.67,361.82 116.00,363.00 C119.33,364.18 125.00,365.20 129.00,365.80 C133.00,366.40 138.17,366.47 140.00,366.60" fill="none" stroke="#f08a20" stroke-width="1.0"/>
<path clip-path="url(#clipC)" d="M79.00,366.60 C79.50,365.83 81.08,366.43 82.00,362.00 C82.92,357.57 83.75,352.00 84.50,340.00 C85.25,328.00 85.83,305.70 86.50,290.00 C87.17,274.30 87.83,245.80 88.50,245.80 C89.17,245.80 89.83,275.97 90.50,290.00 C91.17,304.03 91.75,319.17 92.50,330.00 C93.25,340.83 94.08,349.42 95.00,355.00 C95.92,360.58 96.50,361.58 98.00,363.50 C99.50,365.42 103.00,366.00 104.00,366.50 L104.00,366.5 L79.00,366.5 Z" fill="#f25a5a" fill-opacity="0.7" stroke="none"/>
<path clip-path="url(#clipC)" d="M79.00,366.60 C79.50,365.83 81.08,366.43 82.00,362.00 C82.92,357.57 83.75,352.00 84.50,340.00 C85.25,328.00 85.83,305.70 86.50,290.00 C87.17,274.30 87.83,245.80 88.50,245.80 C89.17,245.80 89.83,275.97 90.50,290.00 C91.17,304.03 91.75,319.17 92.50,330.00 C93.25,340.83 94.08,349.42 95.00,355.00 C95.92,360.58 96.50,361.58 98.00,363.50 C99.50,365.42 103.00,366.00 104.00,366.50" fill="none" stroke="#e02020" stroke-width="1.2"/>
<path clip-path="url(#clipC)" d="M79.00,366.60 C79.50,366.17 81.08,366.43 82.00,364.00 C82.92,361.57 83.75,358.00 84.50,352.00 C85.25,346.00 85.68,335.40 86.50,328.00 C87.32,320.60 88.57,309.93 89.40,307.60 C90.23,305.27 90.82,309.93 91.50,314.00 C92.18,318.07 92.83,325.67 93.50,332.00 C94.17,338.33 94.75,347.08 95.50,352.00 C96.25,356.92 96.75,359.28 98.00,361.50 C99.25,363.72 100.67,364.45 103.00,365.30 C105.33,366.15 110.50,366.38 112.00,366.60 L112.00,366.5 L79.00,366.5 Z" fill="#7a8a28" fill-opacity="0.55" stroke="none"/>
<path clip-path="url(#clipC)" d="M79.00,366.60 C79.50,366.17 81.08,366.43 82.00,364.00 C82.92,361.57 83.75,358.00 84.50,352.00 C85.25,346.00 85.68,335.40 86.50,328.00 C87.32,320.60 88.57,309.93 89.40,307.60 C90.23,305.27 90.82,309.93 91.50,314.00 C92.18,318.07 92.83,325.67 93.50,332.00 C94.17,338.33 94.75,347.08 95.50,352.00 C96.25,356.92 96.75,359.28 98.00,361.50 C99.25,363.72 100.67,364.45 103.00,365.30 C105.33,366.15 110.50,366.38 112.00,366.60" fill="none" stroke="#2f5010" stroke-width="1.6"/>
<line x1="26.70" y1="233.30" x2="26.70" y2="367.00" stroke="#2a5560" stroke-width="0.9"/>
<line x1="26.70" y1="367.00" x2="294.30" y2="367.00" stroke="#333" stroke-width="1.0"/>
<line x1="24.20" y1="366.40" x2="26.70" y2="366.40" stroke="#444" stroke-width="0.6"/>
<text x="22.70" y="367.60" font-family="Liberation Sans" font-size="3" font-weight="normal" text-anchor="start" fill="#000" ></text>
<line x1="24.20" y1="335.20" x2="26.70" y2="335.20" stroke="#444" stroke-width="0.6"/>
<text x="22.70" y="336.40" font-family="Liberation Sans" font-size="3" font-weight="normal" text-anchor="start" fill="#000" ></text>
<line x1="24.20" y1="304.00" x2="26.70" y2="304.00" stroke="#444" stroke-width="0.6"/>
<text x="22.70" y="305.20" font-family="Liberation Sans" font-size="3" font-weight="normal" text-anchor="start" fill="#000" ></text>
<line x1="24.20" y1="272.50" x2="26.70" y2="272.50" stroke="#444" stroke-width="0.6"/>
<text x="22.70" y="273.70" font-family="Liberation Sans" font-size="3" font-weight="normal" text-anchor="start" fill="#000" ></text>
<line x1="24.20" y1="241.10" x2="26.70" y2="241.10" stroke="#444" stroke-width="0.6"/>
<text x="22.70" y="242.30" font-family="Liberation Sans" font-size="3" font-weight="normal" text-anchor="start" fill="#000" ></text>
<text x="23.20" y="336.40" font-family="Liberation Sans" font-size="3.2" font-weight="normal" text-anchor="end" fill="#444" >200</text>
<text x="23.20" y="305.20" font-family="Liberation Sans" font-size="3.2" font-weight="normal" text-anchor="end" fill="#444" >400</text>
<text x="23.20" y="273.70" font-family="Liberation Sans" font-size="3.2" font-weight="normal" text-anchor="end" fill="#444" >600</text>
<text x="23.20" y="242.30" font-family="Liberation Sans" font-size="3.2" font-weight="normal" text-anchor="end" fill="#444" >800</text>
<text x="23.20" y="367.50" font-family="Liberation Sans" font-size="3.2" font-weight="normal" text-anchor="end" fill="#444" >0</text>
<line x1="43.50" y1="367.00" x2="43.50" y2="369.00" stroke="#444" stroke-width="0.6"/>
<line x1="88.20" y1="367.00" x2="88.20" y2="369.00" stroke="#444" stroke-width="0.6"/>
<line x1="132.00" y1="367.00" x2="132.00" y2="369.00" stroke="#444" stroke-width="0.6"/>
<line x1="207.40" y1="367.00" x2="207.40" y2="369.00" stroke="#444" stroke-width="0.6"/>
<line x1="269.80" y1="367.00" x2="269.80" y2="369.00" stroke="#444" stroke-width="0.6"/>
<text x="43.50" y="372.50" font-family="Liberation Sans" font-size="3.2" font-weight="normal" text-anchor="middle" fill="#444" >-10²</text>
<text x="88.20" y="372.50" font-family="Liberation Sans" font-size="3.2" font-weight="normal" text-anchor="middle" fill="#444" >0</text>
<text x="132.00" y="372.50" font-family="Liberation Sans" font-size="3.2" font-weight="normal" text-anchor="middle" fill="#444" >10³</text>
<text x="207.40" y="372.50" font-family="Liberation Sans" font-size="3.2" font-weight="normal" text-anchor="middle" fill="#444" >10⁴</text>
<text x="269.80" y="372.50" font-family="Liberation Sans" font-size="3.2" font-weight="normal" text-anchor="middle" fill="#444" >10⁵</text>
<line x1="52.00" y1="367.00" x2="52.00" y2="368.20" stroke="#777" stroke-width="0.4"/>
<line x1="60.00" y1="367.00" x2="60.00" y2="368.20" stroke="#777" stroke-width="0.4"/>
<line x1="66.00" y1="367.00" x2="66.00" y2="368.20" stroke="#777" stroke-width="0.4"/>
<line x1="71.00" y1="367.00" x2="71.00" y2="368.20" stroke="#777" stroke-width="0.4"/>
<line x1="75.00" y1="367.00" x2="75.00" y2="368.20" stroke="#777" stroke-width="0.4"/>
<line x1="79.00" y1="367.00" x2="79.00" y2="368.20" stroke="#777" stroke-width="0.4"/>
<line x1="84.00" y1="367.00" x2="84.00" y2="368.20" stroke="#777" stroke-width="0.4"/>
<line x1="92.00" y1="367.00" x2="92.00" y2="368.20" stroke="#777" stroke-width="0.4"/>
<line x1="96.00" y1="367.00" x2="96.00" y2="368.20" stroke="#777" stroke-width="0.4"/>
<line x1="100.00" y1="367.00" x2="100.00" y2="368.20" stroke="#777" stroke-width="0.4"/>
<line x1="105.00" y1="367.00" x2="105.00" y2="368.20" stroke="#777" stroke-width="0.4"/>
<line x1="111.00" y1="367.00" x2="111.00" y2="368.20" stroke="#777" stroke-width="0.4"/>
<line x1="118.00" y1="367.00" x2="118.00" y2="368.20" stroke="#777" stroke-width="0.4"/>
<line x1="125.00" y1="367.00" x2="125.00" y2="368.20" stroke="#777" stroke-width="0.4"/>
<line x1="150.00" y1="367.00" x2="150.00" y2="368.20" stroke="#777" stroke-width="0.4"/>
<line x1="165.00" y1="367.00" x2="165.00" y2="368.20" stroke="#777" stroke-width="0.4"/>
<line x1="175.00" y1="367.00" x2="175.00" y2="368.20" stroke="#777" stroke-width="0.4"/>
<line x1="183.00" y1="367.00" x2="183.00" y2="368.20" stroke="#777" stroke-width="0.4"/>
<line x1="190.00" y1="367.00" x2="190.00" y2="368.20" stroke="#777" stroke-width="0.4"/>
<line x1="195.00" y1="367.00" x2="195.00" y2="368.20" stroke="#777" stroke-width="0.4"/>
<line x1="200.00" y1="367.00" x2="200.00" y2="368.20" stroke="#777" stroke-width="0.4"/>
<line x1="204.00" y1="367.00" x2="204.00" y2="368.20" stroke="#777" stroke-width="0.4"/>
<line x1="226.00" y1="367.00" x2="226.00" y2="368.20" stroke="#777" stroke-width="0.4"/>
<line x1="240.00" y1="367.00" x2="240.00" y2="368.20" stroke="#777" stroke-width="0.4"/>
<line x1="250.00" y1="367.00" x2="250.00" y2="368.20" stroke="#777" stroke-width="0.4"/>
<line x1="257.00" y1="367.00" x2="257.00" y2="368.20" stroke="#777" stroke-width="0.4"/>
<line x1="262.00" y1="367.00" x2="262.00" y2="368.20" stroke="#777" stroke-width="0.4"/>
<line x1="266.00" y1="367.00" x2="266.00" y2="368.20" stroke="#777" stroke-width="0.4"/>
<text x="142.00" y="384.50" font-family="Liberation Sans" font-size="5.3" font-weight="normal" text-anchor="start" fill="#222" >FITC-A :: FITC-A</text>
<text transform="translate(10.3,303) rotate(-90)" font-family="Liberation Sans" font-size="5.2" text-anchor="middle" fill="#222">Count</text>
<rect x="102" y="233.8" width="6.8" height="33.8" fill="#fff" stroke="#888" stroke-width="0.5"/>
<rect x="102.8" y="234.8" width="5.2" height="5.2" rx="1" fill="#8a9a58" stroke="#3d5a18" stroke-width="0.6"/>
<text x="111.00" y="238.70" font-family="Liberation Serif" font-size="4.3" font-weight="normal" text-anchor="start" fill="#333" >SeMet + Allicin + H₂O₂</text>
<rect x="102.8" y="241.5" width="5.2" height="5.2" rx="1" fill="#90e060" stroke="#60b030" stroke-width="0.6"/>
<text x="111.00" y="245.40" font-family="Liberation Serif" font-size="4.3" font-weight="normal" text-anchor="start" fill="#333" >Allicin + H₂O₂</text>
<rect x="102.8" y="248.20000000000002" width="5.2" height="5.2" rx="1" fill="#f8c090" stroke="#e0a060" stroke-width="0.6"/>
<text x="111.00" y="252.10" font-family="Liberation Serif" font-size="4.3" font-weight="normal" text-anchor="start" fill="#333" >SeMet + H₂O₂</text>
<rect x="102.8" y="254.9" width="5.2" height="5.2" rx="1" fill="#80d8f0" stroke="#40b0d0" stroke-width="0.6"/>
<text x="111.00" y="258.80" font-family="Liberation Serif" font-size="4.3" font-weight="normal" text-anchor="start" fill="#333" >H₂O₂</text>
<rect x="102.8" y="261.59999999999997" width="5.2" height="5.2" rx="1" fill="#f09090" stroke="#d06060" stroke-width="0.6"/>
<text x="111.00" y="265.50" font-family="Liberation Serif" font-size="4.3" font-weight="normal" text-anchor="start" fill="#333" >Control</text>
<!-- END C -->
</svg>
</body></html>
